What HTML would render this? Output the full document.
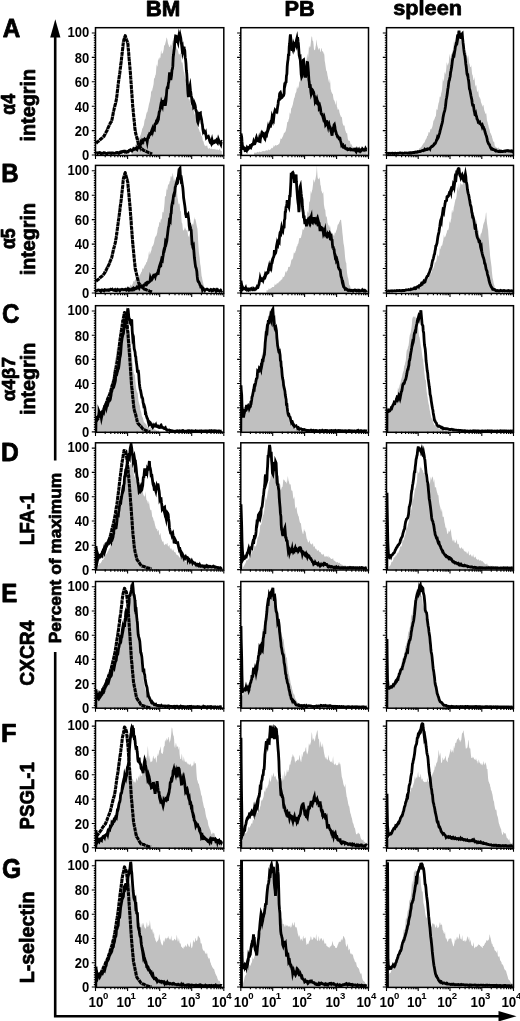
<!DOCTYPE html>
<html><head><meta charset="utf-8"><title>Figure</title>
<style>
html,body{margin:0;padding:0;background:#fff;}
body{width:520px;height:1021px;overflow:hidden;}
svg{display:block;}
svg text{font-family:"Liberation Sans",sans-serif;fill:#000;}
svg text.t{font-weight:bold;}
svg text.h{stroke:#000;stroke-width:0.75px;stroke-linejoin:round;}
</style></head><body>
<svg width="520" height="1021" viewBox="0 0 520 1021">
<rect width="520" height="1021" fill="#fff"/>
<defs>
<filter id="soft" x="0" y="0" width="520" height="1021" filterUnits="userSpaceOnUse"><feGaussianBlur stdDeviation="0.45"/></filter>
<clipPath id="cABM"><rect x="95.5" y="27.7" width="128.3" height="127.7"/></clipPath>
<clipPath id="cAPB"><rect x="240.8" y="27.7" width="127.7" height="127.7"/></clipPath>
<clipPath id="cASP"><rect x="386.5" y="27.7" width="127" height="127.7"/></clipPath>
<clipPath id="cBBM"><rect x="95.5" y="165.4" width="128.3" height="128"/></clipPath>
<clipPath id="cBPB"><rect x="240.8" y="165.4" width="127.7" height="128"/></clipPath>
<clipPath id="cBSP"><rect x="386.5" y="165.4" width="127" height="128"/></clipPath>
<clipPath id="cCBM"><rect x="95.5" y="305.7" width="128.3" height="126.6"/></clipPath>
<clipPath id="cCPB"><rect x="240.8" y="305.7" width="127.7" height="126.6"/></clipPath>
<clipPath id="cCSP"><rect x="386.5" y="305.7" width="127" height="126.6"/></clipPath>
<clipPath id="cDBM"><rect x="95.5" y="442.8" width="128.3" height="127.2"/></clipPath>
<clipPath id="cDPB"><rect x="240.8" y="442.8" width="127.7" height="127.2"/></clipPath>
<clipPath id="cDSP"><rect x="386.5" y="442.8" width="127" height="127.2"/></clipPath>
<clipPath id="cEBM"><rect x="95.5" y="581.5" width="128.3" height="126.7"/></clipPath>
<clipPath id="cEPB"><rect x="240.8" y="581.5" width="127.7" height="126.7"/></clipPath>
<clipPath id="cESP"><rect x="386.5" y="581.5" width="127" height="126.7"/></clipPath>
<clipPath id="cFBM"><rect x="95.5" y="720.8" width="128.3" height="127.4"/></clipPath>
<clipPath id="cFPB"><rect x="240.8" y="720.8" width="127.7" height="127.4"/></clipPath>
<clipPath id="cFSP"><rect x="386.5" y="720.8" width="127" height="127.4"/></clipPath>
<clipPath id="cGBM"><rect x="95.5" y="860.5" width="128.3" height="126.9"/></clipPath>
<clipPath id="cGPB"><rect x="240.8" y="860.5" width="127.7" height="126.9"/></clipPath>
<clipPath id="cGSP"><rect x="386.5" y="860.5" width="127" height="126.9"/></clipPath>
</defs>
<g filter="url(#soft)">
<rect width="520" height="1021" fill="#fff"/>
<g clip-path="url(#cABM)">
<path d="M131.5 152.6 L131.8 151.9 L132.2 151.2 L132.6 150.5 L132.9 149.5 L133.2 148.8 L133.6 148.5 L133.9 147.9 L134.3 147.1 L134.7 146.5 L135 145.6 L135.3 144.8 L135.7 144.6 L136.1 144.1 L136.4 143.9 L136.8 143.2 L137.1 142.4 L137.4 141.3 L137.8 140.7 L138.2 139.2 L138.5 137 L138.8 136.5 L139.2 137.7 L139.6 137.7 L139.9 136.9 L140.2 135.7 L140.6 135 L140.9 134.3 L141.3 132.5 L141.7 131.4 L142 129.8 L142.3 128.5 L142.7 128.1 L143.1 127.2 L143.4 126 L143.8 125.6 L144 124 L144.1 123.7 L144.4 121.2 L144.8 119.5 L145.2 119.1 L145.5 118.3 L145.8 116.7 L146.2 114.5 L146.6 112.9 L146.9 112.2 L147.2 112.2 L147.6 111 L147.9 109.2 L148.3 107.8 L148.7 105.4 L149 104.1 L149.3 103.1 L149.7 101.8 L150.1 99.6 L150.4 97.8 L150.8 95.9 L151.1 91.1 L151.4 90.2 L151.8 91.9 L152.2 90.4 L152.5 88.5 L152.8 87.7 L153.2 86 L153.6 83.9 L153.9 79.9 L154 78.7 L154.2 78.6 L154.6 78.1 L154.9 77.4 L155.3 75.3 L155.7 74.8 L156 72.2 L156.3 68 L156.7 64.3 L157.1 66.2 L157.4 66.6 L157.8 63.4 L158.1 57.8 L158.4 58.9 L158.8 60.7 L159 59.5 L159.2 59.6 L159.5 57.8 L159.8 57.2 L160.2 58.2 L160.6 55.8 L160.9 51.7 L161.2 50 L161.6 52.9 L161.9 54.2 L162.3 53.5 L162.7 52.8 L163 52.7 L163.3 51.1 L163.7 49.5 L164.1 45.7 L164.4 44.7 L164.8 45.8 L165.1 44.3 L165.4 43 L165.8 41.6 L166.2 39.7 L166.5 37.5 L166.8 37.8 L167.2 39.1 L167.6 41.3 L167.9 43 L168.2 44.1 L168.6 45 L168.9 45.8 L169.3 46.9 L169.7 47 L170 46.8 L170.3 45.7 L170.7 44.1 L171.1 45.3 L171.4 46.1 L171.8 44.5 L172.1 41.1 L172.4 40.6 L172.8 43 L173.2 43.3 L173.5 43.2 L173.8 42.2 L174.2 43.9 L174.6 45.1 L174.9 45.1 L175.2 43.1 L175.6 44.3 L175.9 46.1 L176.3 46.9 L176.7 49 L177 49.6 L177.3 48.4 L177.7 50.2 L178.1 51 L178.4 52.7 L178.8 54.3 L179.1 54.5 L179.4 54 L179.8 54.6 L180.2 54.2 L180.5 52 L180.8 53.1 L181.2 58.4 L181.6 63 L181.9 62.1 L182.2 62.3 L182.6 63.1 L182.9 65.6 L183.3 68.7 L183.7 71.1 L184 72.2 L184.3 72.3 L184.7 75.2 L185.1 77.7 L185.4 80.1 L185.8 78.4 L186.1 77.7 L186.4 81.4 L186.8 87.1 L187.2 88.7 L187.5 90 L187.8 92.9 L188.2 96 L188.6 98.2 L188.9 99.4 L189.2 98.9 L189.6 99.4 L189.9 101.3 L190.3 103.6 L190.7 103.7 L191 104.8 L191.3 106.5 L191.7 106.3 L192.1 106.1 L192.4 108.1 L192.8 109.1 L193.1 109.6 L193.4 108.9 L193.8 111.1 L194.2 112.2 L194.5 114.5 L194.8 114.8 L195.2 113.5 L195.6 113.7 L195.9 117.5 L196.2 119.7 L196.6 120.7 L196.9 122.2 L197.3 123.2 L197.6 124.8 L198 126.4 L198.3 127.6 L198.7 128.7 L199.1 129.7 L199.4 130.5 L199.8 131.9 L200.1 131.7 L200.4 131.9 L200.8 133.2 L201.1 135.2 L201.5 135.8 L201.8 136.3 L202.2 136.6 L202.6 139.3 L202.9 141.2 L203.2 141.2 L203.6 141.6 L203.9 143.6 L204.3 144.6 L204.6 145.4 L205 145.5 L205.3 145.8 L205.7 146.2 L206.1 146.1 L206.4 146 L206.8 145.2 L207.1 145.3 L207.4 146.5 L207.8 147.9 L208.1 148.3 L208.5 148.7 L208.8 148.7 L209.2 148.6 L209.6 148 L209.9 148.1 L210.2 148.6 L210.6 149.2 L210.9 149 L211.3 148.8 L211.6 148.5 L212 148.7 L212.3 149 L212.7 149.2 L213.1 149 L213.4 149 L213.8 149.3 L214.1 149.6 L214.4 149.2 L214.8 148.7 L215.1 148.8 L215.5 149.5 L215.8 149.7 L216.2 149.6 L216.6 149.6 L216.9 150 L217.2 149.7 L217.6 149.4 L217.9 149.3 L218.3 150 L218.6 150.3 L219 150.1 L219.3 149.1 L219.7 148.6 L220.1 149.5 L220.4 150.6 L220.8 150.7 L221.1 151 L221.4 151 L221.8 151.2 L221.8 156.4 L131.5 156.4 Z" fill="#c0c0c0"/>
<path d="M96 143.3 L96.6 142.8 L97.1 142.2 L97.7 141.6 L98.3 141.3 L98.9 140.9 L99.4 140.4 L100 139.8 L100.6 139.3 L101.1 138.7 L101.7 138.4 L102.3 137.8 L102.9 137.2 L103.4 136.7 L104 136.2 L104.4 135.4 L104.7 134.8 L105.1 134.2 L105.4 133.4 L105.8 132.7 L106.1 132.1 L106.5 131.4 L106.9 130.8 L107.2 130.1 L107.6 129.3 L107.9 128.2 L108.3 127.4 L108.6 126.6 L109 125.9 L109.4 125 L109.7 124.4 L110.1 123.5 L110.4 122.8 L110.8 122.3 L111.1 122 L111.5 121.5 L111.7 120.8 L111.8 120 L112 119.4 L112.2 118.5 L112.4 117.6 L112.5 116.6 L112.7 115.9 L112.9 114.7 L113.1 114.1 L113.2 113.1 L113.4 111.9 L113.6 111.1 L113.7 110.5 L113.9 109.9 L114.1 109 L114.3 108.3 L114.4 107.6 L114.6 107.2 L114.8 106.3 L114.9 105.8 L115.1 104.9 L115.3 104.3 L115.5 103.7 L115.6 102.6 L115.8 102.1 L116 101.2 L116.2 100.5 L116.3 99.7 L116.5 98.7 L116.6 98.2 L116.7 97.2 L116.8 96.2 L116.9 95.4 L117 94.7 L117.1 93.8 L117.2 92.9 L117.3 92 L117.4 91.2 L117.5 90.3 L117.6 89.6 L117.7 88.4 L117.8 87.9 L117.9 87 L118 85.8 L118.1 85.3 L118.2 84.4 L118.3 83.6 L118.4 82.4 L118.5 81.7 L118.6 81 L118.7 80.6 L118.8 79.8 L118.9 79 L119 78.3 L119.1 77.6 L119.2 76.8 L119.3 76.1 L119.4 75.8 L119.5 74.9 L119.6 74.5 L119.7 73.5 L119.8 72.8 L119.9 72.3 L120 71.5 L120.1 70.8 L120.2 70.3 L120.2 69.5 L120.3 68.7 L120.4 67.9 L120.5 67.2 L120.6 66.5 L120.7 65.5 L120.8 64.8 L120.9 63.7 L121 63.3 L121.1 62.3 L121.2 61.7 L121.3 60.9 L121.4 59.9 L121.5 59 L121.5 58.7 L121.6 57.5 L121.7 56.9 L121.8 56 L121.9 55.1 L122 54.5 L122.1 53.8 L122.2 52.6 L122.3 52 L122.4 51 L122.5 50.3 L122.6 49.4 L122.7 48.5 L122.8 47.6 L122.8 46.8 L122.9 46.4 L123 45.3 L123.1 44.4 L123.2 43.9 L123.3 43.2 L123.4 42.1 L123.5 41.2 L123.7 40.5 L123.9 39.7 L124.2 39.1 L124.4 38.2 L124.6 37.6 L124.8 36.8 L125 36.3 L125.2 35.7 L125.5 36.4 L125.7 37.1 L125.9 37.9 L126.2 38.8 L126.4 39.5 L126.6 40.1 L126.8 40.4 L127.1 41.1 L127.3 42 L127.5 42.1 L127.8 42.8 L127.8 43.6 L127.9 44.4 L128 44.8 L128 45.6 L128.1 46.4 L128.2 47.3 L128.2 48.2 L128.3 49.3 L128.4 50 L128.5 50.9 L128.5 51.3 L128.6 52.1 L128.7 53.3 L128.8 54.2 L128.8 54.8 L128.9 55.7 L129 56.3 L129 57.3 L129.1 58.4 L129.2 59.2 L129.2 60 L129.3 60.9 L129.4 61.4 L129.5 62.1 L129.5 63 L129.6 64 L129.7 64.9 L129.8 65.8 L129.8 66.4 L129.9 67.2 L130 68 L130 68.7 L130.1 69.5 L130.2 70 L130.2 71.2 L130.3 71.7 L130.4 72.8 L130.4 73.5 L130.5 74.1 L130.5 74.8 L130.6 75.7 L130.6 76.7 L130.7 77.5 L130.8 78 L130.8 78.8 L130.9 79.8 L130.9 80.6 L131 81.3 L131 82 L131.1 83 L131.2 83.5 L131.2 84.5 L131.3 85.3 L131.3 86.4 L131.4 87.1 L131.4 88 L131.5 88.6 L131.6 89.3 L131.6 90.2 L131.7 91.3 L131.7 92 L131.8 92.7 L131.8 93.4 L131.9 94.4 L132 95.3 L132 96 L132.1 96.7 L132.1 97.7 L132.2 98.6 L132.2 99.2 L132.3 99.9 L132.4 100.8 L132.4 101.7 L132.5 102.6 L132.5 103.2 L132.6 104.3 L132.6 105.1 L132.7 105.8 L132.8 106.5 L132.8 107.6 L132.9 108.1 L133 109.1 L133.1 109.7 L133.2 110.5 L133.2 111.5 L133.3 112.1 L133.4 113.2 L133.5 113.8 L133.6 114.5 L133.6 115.3 L133.7 116.2 L133.8 117.1 L133.9 117.9 L134 118.5 L134 119.4 L134.1 120.1 L134.2 121.1 L134.3 121.7 L134.4 122.5 L134.4 123.3 L134.5 124.2 L134.6 125.1 L134.7 125.9 L134.8 126.7 L134.8 127.5 L134.9 128.3 L135 129 L135.1 129.7 L135.2 130.7 L135.2 131.5 L135.4 132.1 L135.6 133 L135.8 133.7 L136 134.5 L136.2 135.2 L136.4 136 L136.6 136.7 L136.8 137.5 L137 138.3 L137.2 139.1 L137.4 139.7 L137.6 140.7 L137.8 141.3 L138 142.2 L138.2 143.1 L138.4 143.9 L138.6 144.6 L138.8 145.4 L139 146.3 L139.6 146.8 L140.1 147.3 L140.7 147.7 L141.2 148.2 L141.8 148.8 L142.3 149.2 L142.9 149.7 L143.4 150.2 L144 150.6 L144.8 150.8 L145.6 151.1 L146.4 151.5 L147.1 151.9 L147.9 152.2 L148.7 152.6 L149.5 152.9 L150.3 153.2 L151.2 153.6 L152 154.1" fill="none" stroke="#000" stroke-width="3.0999999999999996" stroke-dasharray="4.2 0.5" stroke-linejoin="round"/>
<path d="M96 153.2 L96.4 152.9 L96.8 152.9 L97.2 152.9 L97.6 153.4 L98 153.1 L98.4 152.8 L98.8 153 L99.2 152.8 L99.6 152.6 L100 152.7 L100.4 152.8 L100.8 153.5 L101.2 153.3 L101.6 153.5 L102 153.6 L102.4 153.3 L102.8 153.4 L103.2 153.4 L103.6 152.9 L104 152.6 L104.4 152.7 L104.8 153 L105.2 153 L105.6 153.2 L106 153.5 L106.4 153.4 L106.8 153.5 L107.2 153.7 L107.6 153.2 L108 152.9 L108.4 153 L108.8 152.9 L109 153 L109.2 153 L109.6 153.2 L110 153.2 L110.4 153.1 L110.8 153.4 L111.2 153.5 L111.6 153 L112 153 L112.4 153 L112.8 153.2 L113.2 153.1 L113.6 153.3 L114 153.4 L114.4 153.4 L114.8 153.2 L115.2 153.1 L115.6 152.9 L116 153.1 L116.4 152.9 L116.8 152.6 L117.2 152.7 L117.6 152.6 L118 152.9 L118.4 152.8 L118.8 152.7 L119 153.1 L119.2 152.8 L119.6 152.6 L120 152.1 L120.4 152 L120.8 151.8 L121.2 152.5 L121.6 152.3 L122 152.2 L122.4 152.1 L122.8 151.4 L123.2 151.2 L123.6 151.4 L124 151.2 L124.4 151.6 L124.8 152 L125.2 151.3 L125.6 151.2 L126 151.6 L126.4 151.8 L126.8 152.3 L127.2 152.1 L127.6 152.1 L128 151.5 L128.4 151.6 L128.8 150.8 L129.2 150.3 L129.6 150.3 L130 150 L130.4 149.7 L130.8 149.9 L131.2 150.3 L131.5 150.2 L131.6 150.5 L132 150.9 L132.4 150.4 L132.8 150.1 L133.2 149.6 L133.6 148.7 L134 149 L134.4 148.9 L134.8 149.3 L135.2 149.1 L135.6 148.7 L136 149 L136.4 149.3 L136.8 148.3 L137.2 149 L137.6 147.9 L138 147.8 L138.4 147.4 L138.8 147.1 L139 146.9 L139.2 145.9 L139.6 145.5 L140 146.6 L140.4 144.2 L140.8 142.5 L141.2 143.2 L141.6 142.4 L142 141.4 L142.4 140.3 L142.8 140.7 L142.8 139.9 L143.2 141.3 L143.6 140.3 L144 139.7 L144.4 139.2 L144.8 139.9 L145.2 139.8 L145.6 139.5 L146 139.3 L146.4 140 L146.8 139.7 L147.2 141.7 L147.6 139 L148 137.4 L148.4 136.3 L148.8 136.6 L149.2 134.7 L149.6 133.6 L150 133.8 L150.4 134.4 L150.8 134 L151.2 132.2 L151.6 131 L152 129.8 L152.4 128.8 L152.8 130.7 L153.2 129.1 L153.6 129.1 L154 129.3 L154.4 129.6 L154.8 124.7 L155.2 123.8 L155.6 123.8 L156 123.7 L156.4 121.3 L156.8 121.4 L157.2 120.1 L157.6 118.9 L158 120.3 L158.4 119.3 L158.8 115.2 L159.2 112.2 L159.6 111.2 L160 109.8 L160.4 107.4 L160.8 105.2 L161.2 105.8 L161.6 102.7 L162 103.9 L162.4 105.2 L162.8 101.3 L163.2 101.2 L163.6 102.8 L164 105.8 L164.4 103.2 L164.8 101.6 L165.2 105.7 L165.6 103.5 L166 100.5 L166.4 95.5 L166.8 89.9 L167.2 87.8 L167.6 87 L168 87.2 L168.4 83 L168.8 82 L169.2 76.6 L169.6 72.3 L170 77.3 L170.4 76.5 L170.8 79.9 L171.2 77.8 L171.6 74.9 L172 70 L172.4 68.9 L172.8 66.4 L173.2 57.2 L173.6 54.3 L174 50.5 L174.4 48.1 L174.8 41.5 L175.2 39.1 L175.6 36 L176 36.1 L176.4 36.4 L176.8 42.8 L177.2 40.3 L177.6 40.8 L178 42.1 L178.4 38.4 L178.8 36.2 L179.2 38.5 L179.6 35.7 L180 39 L180.4 36.4 L180.8 38.2 L181.2 41.8 L181.6 44.9 L182 48.3 L182.4 47.3 L182.8 51.8 L183.2 50.3 L183.6 52.4 L184 46.7 L184.4 49 L184.8 50.7 L185.2 57.4 L185.6 59.5 L186 63.9 L186.4 70.8 L186.8 73.8 L187.2 80.9 L187.6 87 L188 93.5 L188.4 97.1 L188.8 94 L189.2 90.3 L189.6 87.6 L190 86 L190.4 90.2 L190.8 92.5 L191.2 95.7 L191.6 97.4 L192 101.9 L192.4 103.4 L192.8 103.1 L193.2 104.1 L193.6 107.5 L194 107.1 L194.4 103.3 L194.8 104.3 L195.2 105.8 L195.6 108.5 L196 110.7 L196.4 111.2 L196.8 113.8 L197.2 117.8 L197.6 121.6 L198 122.6 L198.4 120.8 L198.8 118.4 L199.2 115 L199.6 115.6 L200 113.2 L200.4 113 L200.8 119.4 L201.2 117.9 L201.6 119.7 L202 123.2 L202.4 124.7 L202.8 128.9 L203.2 131.1 L203.6 130.2 L204 131 L204.4 131.5 L204.8 133.3 L205.2 133.6 L205.6 132.8 L206 135.4 L206.4 137.9 L206.8 137.5 L207.2 136.8 L207.6 137 L208 136.7 L208.4 136.4 L208.8 137.5 L209.2 138.7 L209.6 140.7 L210 141.7 L210.4 141.4 L210.8 142.2 L211.2 143.1 L211.6 141.3 L212 139.8 L212.4 141.6 L212.8 142.9 L213.2 142.4 L213.6 142 L214 142.6 L214.4 142.4 L214.8 141.6 L215.2 140.6 L215.6 140.5 L216 141.1 L216.4 140.4 L216.8 141.3 L217.2 142.4 L217.6 142.9 L218 141.4 L218.4 139.4 L218.8 140.5 L219.2 141.3 L219.6 142.2 L220 142.5 L220.4 143.4 L220.8 144.2 L221.2 141.8 L221.6 141.4 L222 141.6" fill="none" stroke="#000" stroke-width="2.8" stroke-linejoin="miter" stroke-miterlimit="6"/>
</g>
<g clip-path="url(#cAPB)">
<path d="M254 152.8 L254.3 152.5 L254.7 152.8 L255.1 153.1 L255.4 152.8 L255.8 152.5 L256.1 152.5 L256.4 152.8 L256.8 152.5 L257.1 152 L257.5 151.8 L257.9 152.1 L258.2 152.5 L258.6 152.3 L258.9 152 L259.2 152 L259.6 151.6 L259.9 151.5 L260.3 151.9 L260.6 152.1 L261 152.1 L261.4 151.8 L261.7 151.8 L262.1 151.5 L262.4 151.3 L262.8 151 L263.1 150.8 L263.4 151.2 L263.8 151.1 L264.1 151.4 L264.5 151 L264.9 151.2 L265.2 150.9 L265.6 150.6 L265.9 150.4 L266.2 150.1 L266.6 150.6 L266.9 150.5 L267.3 150.4 L267.6 150.6 L268 150.4 L268.4 149.7 L268.7 149.3 L269 149.6 L269.1 149.9 L269.4 150.2 L269.8 149.8 L270.1 149.7 L270.4 149.2 L270.8 149.2 L271.1 148.8 L271.5 147.9 L271.9 147.8 L272.2 148.3 L272.6 148.2 L272.9 147.4 L273.2 147.3 L273.6 146.2 L273.9 144.7 L274.3 146 L274.6 146.8 L275 145.7 L275.4 144.9 L275.7 145.1 L276.1 145.8 L276.4 145.8 L276.8 145.1 L277.1 145.1 L277.4 145 L277.8 145.1 L278.1 144.7 L278.5 144.3 L278.9 144.1 L279 144.1 L279.2 143.8 L279.6 142.9 L279.9 141.9 L280.2 140.5 L280.6 138.6 L280.9 138.5 L281.3 138.9 L281.6 139 L282 138 L282.4 137.3 L282.7 136.7 L283.1 135.8 L283.4 135 L283.8 133.6 L284.1 132.6 L284.4 133 L284.8 132.6 L285.1 132.2 L285.2 132 L285.5 131.4 L285.9 130.3 L286.2 128.7 L286.6 127 L286.9 125.1 L287.2 122.6 L287.6 121.7 L287.9 121.9 L288.3 121.3 L288.6 119.2 L289 118.8 L289.4 115.9 L289.7 112.6 L290.1 112.9 L290.2 113.4 L290.4 114.6 L290.8 112.6 L291.1 109 L291.4 107.9 L291.8 107.8 L292.1 106.7 L292.5 105.6 L292.9 104.2 L293.2 102.2 L293.6 100.8 L293.9 99 L294.2 97.8 L294.6 97.8 L294.9 96.1 L295.2 94.5 L295.3 94 L295.6 93 L296 92.5 L296.4 91.4 L296.7 88.6 L297.1 86.1 L297.4 88.1 L297.8 89 L298.1 87.8 L298.4 87.4 L298.8 86.1 L299.1 83.1 L299.5 81 L299.9 81.7 L300.2 81.9 L300.6 80.1 L300.9 78.9 L301.2 77.9 L301.6 77.7 L301.9 75.2 L302.3 73.1 L302.6 72.5 L303 72.4 L303.4 71.5 L303.7 71.1 L304.1 71.1 L304.4 66.5 L304.8 64.3 L305.1 65.3 L305.4 65.5 L305.8 63.7 L306.1 63.4 L306.5 60.8 L306.9 56.4 L307.2 53.3 L307.6 55.7 L307.9 58.5 L308.2 56.8 L308.6 52.1 L308.9 46.8 L309.3 45.7 L309.6 48.3 L310 47.1 L310.4 46.5 L310.7 43.9 L311.1 40.1 L311.4 37.4 L311.8 36.3 L312.1 36.7 L312.4 40 L312.8 41.1 L313.1 41 L313.5 44 L313.9 48.8 L314.2 50.4 L314.6 49.6 L314.9 50.3 L315.2 49.3 L315.6 46.5 L315.9 45.3 L316.3 41.2 L316.6 39.2 L317 44.4 L317.4 46.1 L317.7 47.2 L318.1 47.9 L318.4 49.3 L318.8 49.8 L319.1 48.9 L319.4 47.8 L319.8 48.4 L320.1 51.8 L320.5 52.1 L320.9 50.2 L321.2 48.6 L321.6 47.9 L321.9 49.8 L322.2 51.7 L322.6 51 L322.9 51.5 L323.3 52.1 L323.6 53.9 L324 53 L324.4 55.4 L324.7 60.8 L325.1 62.8 L325.4 65 L325.8 67.7 L326.1 69.7 L326.4 70.9 L326.8 71.3 L327.1 72.8 L327.5 75.5 L327.9 77 L328.2 79 L328.6 80.6 L328.9 82 L329.2 83.6 L329.6 81 L329.9 78.7 L330.3 83.2 L330.6 88.9 L331 90 L331.4 92 L331.7 92.5 L332.1 92.9 L332.4 94 L332.8 93.9 L333.1 96.3 L333.4 98.2 L333.8 100 L334.1 100.1 L334.5 101.1 L334.9 102 L335.2 104.2 L335.6 104.8 L335.9 102.4 L336.2 99.8 L336.6 103 L336.9 106.8 L337.3 107.6 L337.6 109.2 L338 110.1 L338.4 109.8 L338.7 108.4 L339.1 110 L339.4 112.3 L339.8 113.4 L340.1 114.8 L340.4 115.3 L340.8 116.5 L341.1 117.5 L341.5 116.8 L341.9 116.8 L342.2 119.9 L342.6 122.9 L342.9 124.1 L343.2 124.7 L343.6 126 L343.9 125.3 L344.3 125.5 L344.6 125.9 L345 128.9 L345.4 130.5 L345.7 131.2 L346.1 132.5 L346.4 133.4 L346.8 133.1 L347.1 132.9 L347.4 135.6 L347.8 138.7 L348.1 139.8 L348.5 140.6 L348.9 140.9 L349.2 141 L349.6 140.7 L349.9 140.8 L350.2 143 L350.6 144 L350.9 144.9 L351.3 143.9 L351.6 144.5 L352 145.7 L352.4 146.5 L352.7 146.7 L353.1 147.5 L353.4 147.4 L353.8 147.1 L354.1 148.1 L354.4 149.2 L354.8 149.1 L355.1 149 L355.5 148.7 L355.9 149.2 L356.2 149.7 L356.6 148.9 L356.9 147.9 L357.2 148.7 L357.6 149.7 L357.9 150.1 L358.3 150.1 L358.6 150 L359 150 L359.4 150.2 L359.7 149.9 L360.1 149.3 L360.4 149.4 L360.8 149.8 L361.1 149.9 L361.4 150.4 L361.8 150 L362.1 149.4 L362.5 149.3 L362.9 150.4 L363.2 150.7 L363.6 151 L363.9 151.1 L364.2 151 L364.6 150.8 L364.9 150.5 L365.3 150.1 L365.6 150.9 L366 151.4 L366.4 151.3 L366.7 151.5 L366.7 156.4 L254 156.4 Z" fill="#c0c0c0"/>
<path d="M240.8 155.4 L241 133.6 L241.2 134.5 L241.7 137.2 L242 141.4 L242.4 145.6 L242.8 148.4 L242.8 148.1 L243.2 148.5 L243.7 148.5 L244 147.9 L244.4 148.4 L244.8 149.8 L245.2 149.4 L245.7 148.8 L246 149.5 L246.4 150.1 L246.5 149.5 L246.8 149.2 L247.2 147.6 L247.7 148.2 L248 149.1 L248.4 148.6 L248.8 148.4 L249.2 147.5 L249.7 147.6 L250 146.5 L250.2 145.6 L250.4 145.6 L250.8 145.7 L251.2 146.6 L251.7 145.3 L252 144.3 L252.4 144.2 L252.8 144.5 L253.2 144.1 L253.7 141.8 L254 142.6 L254 142.8 L254.4 143.8 L254.8 143.7 L255.2 142.7 L255.7 141.5 L256.1 138.6 L256.4 137.7 L256.9 139.6 L257.2 139.4 L257.6 140.7 L258.1 140.7 L258.4 141 L258.9 140.9 L259.2 139.4 L259.6 141.4 L260.1 141.6 L260.4 138.9 L260.9 136.8 L261.2 135.6 L261.6 133.9 L262.1 134.5 L262.4 132.7 L262.9 133.3 L263.2 133.3 L263.6 135.7 L264.1 136.9 L264.4 135.7 L264.9 136.7 L265.2 137.5 L265.6 135.4 L266.1 136.5 L266.4 136.4 L266.9 133.1 L267.2 131.4 L267.6 130.6 L268.1 128 L268.4 129.3 L268.9 127.9 L269.2 127.2 L269.6 126.8 L270.1 124.4 L270.4 123.4 L270.9 124.3 L271.2 122.7 L271.6 121 L272.1 117.1 L272.4 118.1 L272.9 119.9 L273.2 118.3 L273.6 119.2 L274.1 114.6 L274.4 112.7 L274.9 110.8 L275.2 111.4 L275.6 111.2 L276.1 111.6 L276.4 109.8 L276.9 109.2 L277.2 109.8 L277.6 106.9 L278.1 104 L278.4 100.9 L278.9 99.6 L279.2 98 L279.6 93.9 L280.1 92.7 L280.4 92.4 L280.9 94.1 L281.2 97.8 L281.6 97.4 L282.1 96.3 L282.4 96.6 L282.9 95.7 L283.2 95.8 L283.6 95.4 L284.1 93.6 L284.4 86.7 L284.9 82.8 L285.2 84.3 L285.6 82.4 L286.1 82 L286.4 76.3 L286.9 73.9 L287.2 66.6 L287.6 62.3 L288.1 59.1 L288.4 55 L288.9 54.9 L289.2 46.8 L289.6 43.8 L290.1 37.1 L290.4 34.4 L290.9 39.1 L291.2 46 L291.6 45.9 L292.1 50.8 L292.4 47.8 L292.9 49.3 L293.2 47.7 L293.6 44.8 L294.1 46.4 L294.4 43.8 L294.9 44.4 L295.2 43.2 L295.6 43 L296.1 44.4 L296.4 40.5 L296.9 38.5 L297.2 40.8 L297.6 37.1 L298.1 41.7 L298.4 43.6 L298.9 51 L299.2 55.3 L299.6 57.1 L300.1 56.7 L300.4 61.8 L300.9 68.9 L301.2 74.3 L301.6 76.9 L302.1 75.8 L302.4 70.4 L302.9 64.6 L303.2 60.3 L303.6 60 L304.1 65.8 L304.4 71.1 L304.9 73.5 L305.2 77.6 L305.6 73.1 L306.1 74 L306.4 72.2 L306.9 66.6 L307.2 62.5 L307.6 62.6 L308.1 67.9 L308.4 71.8 L308.9 80 L309.2 81.8 L309.6 86.6 L310.1 86.6 L310.4 86.4 L310.9 92 L311.2 94 L311.6 92.9 L312.1 89.4 L312.4 89.7 L312.9 90.9 L313.2 91.5 L313.6 92.3 L314.1 94.8 L314.4 95.9 L314.9 98.6 L315.2 101.6 L315.6 100.8 L316.1 103.8 L316.4 100.9 L316.9 99.3 L317.2 100.6 L317.6 104 L318.1 104.4 L318.4 102.9 L318.9 103.9 L319.2 108.8 L319.6 108.4 L320.1 106.8 L320.4 107.9 L320.9 112.2 L321.2 113.7 L321.6 114.2 L322.1 115 L322.4 114.8 L322.9 116.7 L323.2 114.8 L323.6 118.3 L324.1 119.4 L324.4 118.2 L324.9 120.4 L325.2 121.7 L325.6 124.8 L326.1 124.1 L326.4 121.8 L326.9 121.7 L327.2 124.1 L327.6 124 L328.1 126.3 L328.4 124.7 L328.9 123.8 L329.2 125.4 L329.6 126.4 L330.1 127.1 L330.4 128.3 L330.9 131 L331.2 131.6 L331.6 133.6 L332.1 135.6 L332.4 132.1 L332.9 131.6 L333.2 127.9 L333.6 127.4 L334.1 124.9 L334.4 124.5 L334.9 127 L335.2 129.7 L335.6 130.9 L336.1 132.5 L336.4 134.1 L336.9 134.8 L337.2 136.1 L337.6 137 L338.1 136.9 L338.4 137.5 L338.9 137.6 L339.2 139.1 L339.6 139.3 L340.1 138.9 L340.4 140.3 L340.9 142.2 L341.2 143.2 L341.6 145.1 L342.1 144.5 L342.4 144.7 L342.9 146.1 L343.2 145.7 L343.6 147 L344.1 147.4 L344.4 147.7 L344.9 147 L345.2 148.1 L345.6 148.2 L346.1 148.7 L346.4 148.5 L346.9 148.6 L347.2 149.3 L347.6 149.6 L348.1 149.1 L348.4 149.3 L348.9 149.5 L349.2 149.2 L349.6 148.9 L350.1 149.1 L350.4 149 L350.9 149.6 L351.2 149.3 L351.6 149.3 L352.1 149.9 L352.4 150 L352.9 149.8 L353.2 149.8 L353.6 150 L354.1 149.4 L354.4 149.8 L354.9 150 L355.2 149.7 L355.6 150.8 L356.1 151.6 L356.4 150.7 L356.9 149.6 L357.2 150.2 L357.6 150.5 L358.1 150.1 L358.4 150.4 L358.9 149.6 L359.2 150.3 L359.6 150.7 L360.1 151.4 L360.4 151 L360.9 149.9 L361.2 150 L361.6 150.4 L362.1 149.7 L362.4 148.9 L362.9 149.5 L363.2 149.5 L363.6 149.7 L364.1 150.4 L364.4 150.4 L364.9 150.1 L365.2 149.8 L365.6 148.6 L366.1 149.5 L366.4 149.9 L366.9 149.8" fill="none" stroke="#000" stroke-width="2.8" stroke-linejoin="miter" stroke-miterlimit="6"/>
</g>
<g clip-path="url(#cASP)">
<path d="M407.5 153.8 L407.9 153.6 L408.2 153.4 L408.6 153.3 L408.9 153.2 L409.2 153.2 L409.6 153.3 L409.9 153.2 L410.3 153 L410.6 152.9 L411 152.9 L411.4 152.8 L411.7 152.6 L412.1 152.1 L412.4 151.6 L412.8 151.9 L413.1 152.3 L413.4 152 L413.8 151.2 L414.1 151.1 L414.5 151.9 L414.9 152 L415.2 151.9 L415.6 151.7 L415.9 151.4 L416.2 151.2 L416.6 151.1 L416.9 151.4 L417.3 151.5 L417.5 151.5 L417.6 151.3 L418 150.9 L418.4 150.4 L418.7 149.9 L419.1 149 L419.4 148.2 L419.8 148 L420.1 148.3 L420.4 147.9 L420.8 147.3 L421.1 147.1 L421.5 146.8 L421.9 146.1 L422.2 145.5 L422.6 144.7 L422.9 144.5 L423.2 144 L423.6 143.2 L423.9 143 L424.3 142.5 L424.6 142.4 L425 141.2 L425.4 140 L425.7 139.4 L426.1 139.1 L426.4 138.6 L426.8 137.5 L427.1 136.1 L427.4 136.1 L427.8 135.7 L428.1 134.6 L428.5 132.6 L428.9 131.7 L429.2 132.5 L429.6 132.7 L429.9 131.8 L430.2 130 L430.6 129 L430.9 129.1 L431.2 129.6 L431.3 129 L431.6 128.6 L432 127.7 L432.4 126.5 L432.7 125.2 L433.1 122.9 L433.4 120.9 L433.8 120.2 L434.1 120.4 L434.4 119 L434.8 118.6 L435.1 117.1 L435.5 116.7 L435.9 115.8 L436.2 112.2 L436.2 111.8 L436.6 108.8 L436.9 109.5 L437.2 110.2 L437.6 109.2 L437.9 106.6 L438.3 104.6 L438.6 102.8 L439 102.2 L439.4 99.8 L439.7 96.7 L440.1 96.5 L440.4 97.4 L440.8 96.1 L441.1 94 L441.2 92.7 L441.4 92.7 L441.8 91 L442.1 88.4 L442.5 83.5 L442.9 78.6 L443.2 79.5 L443.6 81.6 L443.9 80.7 L444.2 77.3 L444.6 72.1 L444.9 72.7 L445.3 74.5 L445.6 73.1 L446 71.1 L446.4 67.1 L446.7 62.2 L447.1 63.3 L447.4 65.9 L447.8 64.6 L448.1 64.6 L448.4 63.2 L448.8 62.5 L449.1 58.3 L449.5 53.6 L449.9 56.7 L450.2 58.5 L450.6 58.6 L450.9 55.3 L451.2 54.4 L451.6 53.6 L451.9 54 L452.3 52.5 L452.6 50.5 L453 49.4 L453.4 48.3 L453.7 43.1 L454.1 40.1 L454.4 42.7 L454.8 47.1 L455.1 45.7 L455.4 45.2 L455.8 44.2 L456.1 43 L456.5 41.2 L456.9 39.2 L457.2 38.2 L457.6 38.4 L457.9 36.4 L458.2 36 L458.6 35 L458.9 34.9 L459.3 34.3 L459.6 36.3 L460 38.6 L460.4 39.2 L460.7 40.2 L461.1 42.1 L461.4 42.7 L461.8 38.4 L462.1 38.3 L462.4 43.6 L462.8 46.9 L463.1 44.5 L463.5 40.2 L463.9 44.5 L464.2 48.5 L464.6 51.3 L464.9 51 L465.2 51.9 L465.6 52.9 L465.9 52.3 L466.3 52.3 L466.6 54.4 L467 56.4 L467.4 59 L467.7 57.1 L468.1 55 L468.4 56.4 L468.8 60.6 L469.1 63 L469.4 63.5 L469.8 64.4 L470.1 66.7 L470.5 67.1 L470.9 66.9 L471.2 64.9 L471.6 68.7 L471.9 72.2 L472.2 74.4 L472.6 75 L472.9 76.5 L473.3 79.6 L473.6 80.2 L474 79.7 L474.4 76.7 L474.7 80.3 L475.1 84.4 L475.4 87.1 L475.8 85.4 L476.1 84.8 L476.4 86.1 L476.8 89.8 L477.1 91.5 L477.5 92.2 L477.9 90.8 L478.2 90.1 L478.6 93.8 L478.9 96.6 L479.2 96.7 L479.6 97.2 L479.9 98.4 L480.3 98.6 L480.6 99.8 L481 102.6 L481.4 103.1 L481.7 104.4 L482.1 104.6 L482.4 106.1 L482.8 106.7 L483.1 105.2 L483.4 104.7 L483.8 107.2 L484.1 109.5 L484.5 111.1 L484.9 111.9 L485.2 113.3 L485.6 113.8 L485.9 113.8 L486.2 113 L486.6 116.2 L486.9 119.8 L487.3 121.5 L487.6 122.3 L488 124.3 L488.4 125.3 L488.7 127.1 L489.1 128.4 L489.4 128.9 L489.8 130.8 L490.1 132.4 L490.4 132.9 L490.8 133.6 L491.1 134.3 L491.5 135.4 L491.9 135.9 L492.2 138 L492.6 138.8 L492.9 140.5 L493.2 141.5 L493.6 141.8 L493.9 141.6 L494.3 142.6 L494.6 145 L495 146.6 L495.4 146.6 L495.7 147 L496.1 147.6 L496.4 147.6 L496.8 147.7 L497.1 147.9 L497.4 148.1 L497.8 148.1 L498.1 148.5 L498.5 147.7 L498.9 147.3 L499.2 148.5 L499.6 149.7 L499.9 150.2 L500.2 150 L500.6 150.2 L500.9 149.9 L501.3 149.8 L501.6 149.4 L502 150 L502.4 150.3 L502.7 150.5 L503.1 150.2 L503.4 150.3 L503.8 150.1 L504.1 150 L504.4 150.4 L504.8 150.6 L505.1 150.6 L505.5 150.4 L505.9 150.4 L506.2 150.8 L506.6 150.7 L506.9 150.3 L507.2 150.3 L507.6 150.6 L507.9 150.7 L508.3 150.6 L508.6 150.6 L509 150.8 L509.4 150.9 L509.7 150.6 L510.1 149.9 L510.4 149.9 L510.8 150.8 L511.1 151.1 L511.4 150.8 L511.8 150.7 L512.1 151.2 L512.5 151.7 L512.9 151.6 L512.9 156.4 L407.5 156.4 Z" fill="#c0c0c0"/>
<path d="M387 153.6 L387.4 153.4 L387.8 153.5 L388.2 153.5 L388.6 153.4 L389 153.3 L389.4 153.4 L389.8 153.5 L390.2 153.6 L390.6 153.5 L391 153.3 L391.4 153.4 L391.8 153.4 L392.2 153.3 L392.6 153.4 L393 153.2 L393.4 153.3 L393.8 153.3 L394.2 153.6 L394.6 153.4 L395 153.2 L395.4 153.2 L395.8 153.3 L396.2 153.4 L396.6 153.5 L397 153.3 L397.4 153.3 L397.8 153.2 L398.2 153.3 L398.6 153.3 L399 153.2 L399.4 153.2 L399.8 153 L400.2 153 L400.6 153 L401 153.1 L401.4 153.1 L401.8 153.1 L402.2 153.4 L402.6 153.2 L403 153.3 L403.4 153.4 L403.8 153.3 L404.2 153.2 L404.6 153 L405 153 L405.4 153.1 L405.8 153.1 L406.2 153 L406.6 153.1 L407 153.1 L407.4 153.2 L407.8 153 L408.2 152.9 L408.6 153 L409 153 L409.4 153.2 L409.8 153.1 L410 152.9 L410.2 152.7 L410.6 152.7 L411 153 L411.4 152.8 L411.8 152.9 L412.2 152.7 L412.6 152.6 L413 152.5 L413.4 152.5 L413.8 152.6 L414.2 152.6 L414.6 152.3 L415 152.2 L415.4 152.1 L415.8 152.3 L416.2 152.3 L416.6 152.2 L417 151.9 L417.4 151.7 L417.8 152 L418.2 151.8 L418.6 151.7 L419 151.6 L419.4 151.4 L419.8 151.5 L420 151.4 L420.2 151.5 L420.6 151.4 L421 151.3 L421.4 151.1 L421.8 150.9 L422.2 150.6 L422.6 150.5 L423 150.6 L423.4 150.7 L423.8 150.4 L424.2 150.3 L424.6 149.6 L425 150.1 L425.4 150 L425.8 149.8 L426.2 149.4 L426.6 149.7 L427 149.7 L427.4 149.6 L427.8 148.9 L428.2 149 L428.6 148.9 L429 148.9 L429.4 148.7 L429.8 148.4 L430 148.7 L430.2 148 L430.6 147.8 L431 147 L431.4 146.8 L431.8 146.4 L432.2 146.5 L432.6 146.2 L433 145.6 L433.4 145.2 L433.8 145.1 L434.2 144 L434.6 144 L435 143.7 L435.4 143.2 L435.8 142.3 L436.2 141.4 L436.6 139.8 L437 139.4 L437.4 137.7 L437.8 138.3 L438.2 137.6 L438.6 136.5 L438.8 135.7 L439 134.7 L439.4 133.7 L439.8 132.3 L440.2 130.3 L440.6 129.2 L441 127.4 L441.4 126 L441.8 124.4 L442.2 122.9 L442.6 121 L443 117.8 L443.4 115.8 L443.8 113.7 L444.2 112.2 L444.6 111.2 L445 109.3 L445.4 106.9 L445.8 103.5 L446.2 99.6 L446.6 97.7 L447 95.4 L447.4 92.8 L447.8 89.1 L448.2 87.2 L448.6 83.6 L449 81 L449.4 80.3 L449.8 78 L450.2 76.5 L450.6 72.3 L451 70.8 L451.4 68.4 L451.8 65.8 L452.2 62.3 L452.6 59.3 L453 57.5 L453.4 55.3 L453.8 54 L454.2 54.6 L454.6 52.1 L455 49.9 L455.4 46.4 L455.8 45.7 L456.2 43 L456.6 42.4 L457 39.5 L457.4 40.6 L457.8 38.3 L458.2 35.3 L458.6 33.5 L459 30.8 L459.4 33.4 L459.8 36.8 L460.2 36.9 L460.6 37.5 L461 37.5 L461.4 36 L461.8 34.1 L462.2 33.7 L462.6 38.4 L463 42.2 L463.4 45.3 L463.8 49.2 L464.2 52.2 L464.6 54.6 L465 56.3 L465.4 60 L465.8 64 L466.2 66.5 L466.6 70.3 L467 74 L467.4 75.2 L467.8 75.1 L468.2 78.7 L468.6 80.5 L469 84.1 L469.4 88.8 L469.8 89.6 L470.2 91.6 L470.6 93.8 L471 96.1 L471.4 97.9 L471.8 99.6 L472.2 103 L472.6 105.1 L473 105.1 L473.4 105.2 L473.8 107.9 L474.2 111 L474.6 112.5 L475 114.8 L475.4 115 L475.8 114 L476.2 116 L476.6 116.4 L477 118.9 L477.4 119.5 L477.8 120.3 L478.2 121.9 L478.6 121.7 L479 121.8 L479.4 122.7 L479.8 122.3 L480.2 123.6 L480.6 123.8 L481 124.3 L481.4 125.1 L481.8 125.4 L482.2 126.8 L482.6 125.8 L483 126.9 L483.4 127.1 L483.8 128.4 L484.2 128.9 L484.6 130.2 L485 132 L485.4 133.2 L485.8 134.7 L486.2 135.3 L486.6 137 L487 138.4 L487.4 140.6 L487.8 142 L488.2 142.8 L488.6 143.8 L489 144.4 L489.4 144.6 L489.8 145.8 L490.2 146.7 L490.6 147.7 L491 148.2 L491.4 148.9 L491.8 148.6 L492.2 149.1 L492.6 149.4 L493 149.3 L493.4 149.4 L493.8 149.6 L494.2 149.7 L494.6 150.1 L495 150.6 L495.4 150.9 L495.8 150.5 L496.2 151.1 L496.6 151.1 L497 151.1 L497.4 151.1 L497.8 151.4 L498.2 151.6 L498.6 151.5 L499 151.5 L499.4 151 L499.8 150.9 L500.2 151 L500.6 151.6 L501 151.5 L501.4 151.3 L501.8 151.4 L502.2 151.5 L502.6 151.4 L503 151.6 L503.4 151.5 L503.8 151.2 L504.2 151 L504.6 151.2 L505 151.1 L505.4 151.3 L505.8 150.9 L506.2 150.9 L506.6 150.7 L507 150.7 L507.4 150.6 L507.8 150.5 L508.2 151 L508.6 151.1 L509 151.1 L509.4 150.9 L509.8 150.9 L510.2 151.2 L510.6 151.3 L511 151.2 L511.4 150.9 L511.8 150.8 L512.2 151.3 L512.6 151.7 L513 151.5" fill="none" stroke="#000" stroke-width="2.8" stroke-linejoin="miter" stroke-miterlimit="6"/>
</g>
<g clip-path="url(#cBBM)">
<path d="M121.5 290.8 L121.8 290.2 L122.2 290.4 L122.5 290.6 L122.9 290.4 L123.2 290.2 L123.6 290 L124 289.8 L124.3 289.1 L124.7 288.4 L125 288.7 L125.3 288.9 L125.7 288.8 L126 288.6 L126.4 288.6 L126.8 288.3 L127.1 288.3 L127.5 287.7 L127.8 286.6 L128.2 286.9 L128.5 287.6 L128.8 287.6 L129.2 287.2 L129.6 286.7 L129.9 286.5 L130.2 285.6 L130.6 284.6 L130.9 284.4 L131.3 285.8 L131.5 286.3 L131.7 285.9 L132 285.1 L132.3 284.4 L132.7 283.8 L133.1 282.7 L133.4 281.2 L133.8 281.1 L134.1 281.8 L134.4 281.8 L134.8 280.3 L135.2 278.9 L135.5 279.3 L135.8 279.9 L136.2 279.3 L136.6 278.9 L136.9 278.6 L137.2 278.6 L137.6 276.9 L137.9 275.7 L138.3 276.2 L138.7 276.9 L139 276.6 L139.3 276.5 L139.7 275.2 L140.1 274.4 L140.2 274.4 L140.4 274.1 L140.8 273.2 L141.1 272.5 L141.4 271.6 L141.8 271.9 L142.2 269.8 L142.5 267.9 L142.8 268.6 L143.2 269 L143.6 268.5 L143.9 267.5 L144.2 266.7 L144.6 266.1 L144.9 265.3 L145.3 264.8 L145.7 264.2 L146 263.4 L146.3 262.3 L146.5 261.9 L146.7 262.3 L147.1 261.5 L147.4 260 L147.8 258.6 L148.1 258.4 L148.4 256.4 L148.8 252.8 L149.2 251.1 L149.5 253.7 L149.8 255 L150.2 253.5 L150.6 252.6 L150.9 251.4 L151.2 250.6 L151.5 250.3 L151.6 249.2 L151.9 246.7 L152.3 246.6 L152.7 246.2 L153 245.6 L153.3 244.9 L153.7 243.7 L154.1 242.3 L154.4 240.5 L154.8 238.4 L155.1 237.1 L155.4 237.5 L155.8 236.1 L156.2 236 L156.5 235.3 L156.8 234.2 L157.2 232.8 L157.6 229.7 L157.8 228.7 L157.9 227.7 L158.2 227.1 L158.6 226.8 L158.9 225.3 L159.3 221.9 L159.7 221.8 L160 222.9 L160.3 222.8 L160.7 219.7 L161.1 218.3 L161.4 219.5 L161.8 219.3 L162.1 216 L162.4 212.6 L162.8 211.7 L163.2 212.3 L163.5 212.8 L163.8 210.2 L164.2 206.7 L164.6 202.5 L164.9 197.1 L165.2 196.1 L165.6 196.4 L165.9 196 L166.3 191.4 L166.7 188 L167 190.2 L167.3 189.7 L167.7 187.1 L168.1 184.4 L168.4 185 L168.8 183.8 L169.1 184.3 L169.4 182.5 L169.8 180.9 L170.2 181.2 L170.5 177.7 L170.8 175.9 L171.2 176 L171.6 177.7 L171.9 176.5 L172.2 176.4 L172.6 173 L172.9 173.6 L173.3 176.6 L173.7 180.3 L174 181.3 L174.3 180 L174.7 177.7 L175.1 182.2 L175.4 185.5 L175.8 187.2 L176.1 186.9 L176.4 184.6 L176.8 188.8 L177.2 193.9 L177.5 198 L177.8 198.8 L178.2 202.2 L178.6 204.1 L178.9 204.6 L179.2 203.2 L179.6 204 L179.9 207.3 L180.3 211.5 L180.7 210.8 L181 211.9 L181.3 217.1 L181.7 222.4 L182.1 223 L182.4 224.5 L182.8 228.8 L183.1 230.8 L183.4 230.3 L183.8 230.2 L184.2 229.4 L184.5 228.9 L184.8 227.2 L185.2 227.7 L185.6 229 L185.9 229.7 L186.2 229.7 L186.6 230.8 L186.9 230.2 L187.3 229.7 L187.6 232 L188 234.9 L188.3 235.9 L188.7 236.5 L189.1 237.2 L189.4 235.4 L189.8 233.5 L190.1 232.5 L190.4 233.5 L190.8 233.1 L191.1 231.6 L191.5 230 L191.8 226.8 L192.2 224.4 L192.6 223.5 L192.9 224.2 L193.2 225.1 L193.6 222.8 L193.9 219.9 L194.3 216.7 L194.6 219.3 L195 219.6 L195.3 218.8 L195.7 220.4 L196.1 222.3 L196.4 224 L196.8 226.1 L197.1 227.4 L197.4 228.4 L197.8 233.7 L198.1 240.8 L198.5 246.7 L198.8 251.2 L199.2 254.6 L199.6 257.4 L199.9 260.7 L200.2 264.1 L200.6 266.1 L200.9 268.6 L201.3 272.9 L201.6 276 L202 277.3 L202.3 279.2 L202.7 280.9 L203.1 282.6 L203.4 284.1 L203.8 285.6 L204.1 286.7 L204.4 287.6 L204.8 288.2 L205.1 288.9 L205.5 289.4 L205.8 290.2 L206.2 290.9 L206.2 294.4 L121.5 294.4 Z" fill="#c0c0c0"/>
<path d="M96 281.1 L96.6 280.7 L97.1 280.3 L97.7 279.9 L98.3 279.4 L98.9 279 L99.4 278.5 L100 277.8 L100.6 277.3 L101.1 276.7 L101.7 276.3 L102.3 276 L102.9 275.4 L103.4 274.7 L104 273.9 L104.4 273.4 L104.7 272.6 L105.1 272.3 L105.4 271.5 L105.8 271 L106.1 270 L106.5 269.5 L106.9 268.5 L107.2 267.9 L107.6 267.3 L107.9 266.6 L108.3 265.9 L108.6 265.2 L109 264.4 L109.4 263.6 L109.7 262.4 L110.1 261.6 L110.4 260.6 L110.8 259.9 L111.1 259.1 L111.5 258.4 L111.7 257.6 L111.8 257.1 L112 256.2 L112.2 255.5 L112.4 254.7 L112.5 253.8 L112.7 253 L112.9 252.2 L113.1 251.7 L113.2 250.7 L113.4 250.2 L113.6 249.3 L113.7 248.7 L113.9 247.9 L114.1 247.4 L114.3 246.6 L114.4 246 L114.6 245.4 L114.8 244.6 L114.9 244 L115.1 243.5 L115.3 242.5 L115.5 241.6 L115.6 240.8 L115.8 239.6 L116 238.7 L116.2 237.7 L116.3 236.8 L116.5 235.8 L116.6 235 L116.7 234.1 L116.8 233.3 L116.9 232.2 L117 231.7 L117.1 231 L117.2 230 L117.3 229.1 L117.4 228.5 L117.5 227.6 L117.6 227 L117.7 226.4 L117.8 225.4 L117.9 224.6 L118 224 L118.1 223.1 L118.2 222.4 L118.3 221.7 L118.4 220.8 L118.5 220 L118.6 219.4 L118.7 218.8 L118.8 218.2 L118.9 217.3 L119 216.4 L119.1 215.7 L119.2 215.2 L119.3 214.4 L119.4 213.9 L119.5 213.2 L119.6 212.4 L119.7 211.3 L119.8 211 L119.9 210.1 L120 209.2 L120.1 208.5 L120.2 208 L120.2 207 L120.3 206.2 L120.4 205.5 L120.5 205.1 L120.6 204.1 L120.7 203.5 L120.8 202.5 L120.9 201.9 L121 201.1 L121.1 200.3 L121.2 199.8 L121.3 198.9 L121.4 198 L121.5 197.7 L121.5 196.7 L121.6 195.8 L121.7 194.8 L121.8 194.2 L121.9 193.2 L122 192.1 L122.1 191.4 L122.2 190.6 L122.3 189.6 L122.4 188.5 L122.5 187.8 L122.6 186.9 L122.7 186 L122.8 184.8 L122.8 184.3 L122.9 183.4 L123 182.4 L123.1 181.6 L123.2 180.4 L123.3 180 L123.4 178.8 L123.5 178.1 L123.7 177.6 L123.9 177.1 L124.2 176 L124.4 175.3 L124.6 174.6 L124.8 174.1 L125 173.3 L125.2 172.6 L125.5 173.8 L125.7 174.6 L125.9 175.7 L126.2 176.3 L126.4 177.3 L126.6 177.8 L126.8 179.1 L127.1 179.5 L127.3 180.4 L127.5 181.2 L127.8 182.3 L127.8 182.8 L127.9 183.9 L128 184.4 L128 185 L128.1 186.1 L128.2 186.6 L128.2 187.8 L128.3 188.3 L128.4 189 L128.5 190.1 L128.5 190.6 L128.6 191.4 L128.7 192.2 L128.8 193.2 L128.8 193.6 L128.9 194.6 L129 195.3 L129 196.4 L129.1 196.8 L129.2 197.9 L129.2 198.5 L129.3 199.4 L129.4 200.2 L129.5 201.1 L129.5 201.6 L129.6 202.4 L129.7 203.1 L129.8 204.3 L129.8 204.7 L129.9 205.5 L130 206.5 L130 207.3 L130.1 208.2 L130.2 208.6 L130.2 209.5 L130.3 210.2 L130.4 211.2 L130.4 212 L130.5 212.7 L130.5 213.7 L130.6 214.4 L130.6 215.3 L130.7 216.1 L130.8 216.6 L130.8 217.7 L130.9 218.3 L130.9 218.9 L131 220.1 L131 220.5 L131.1 221.3 L131.2 222.2 L131.2 223 L131.3 224 L131.3 224.7 L131.4 225.3 L131.4 226.1 L131.5 227 L131.6 227.7 L131.6 228.4 L131.7 229.1 L131.7 229.7 L131.8 230.5 L131.8 231.4 L131.9 232.2 L132 233 L132 233.8 L132.1 234.6 L132.1 235.1 L132.2 235.8 L132.2 236.9 L132.3 237.5 L132.4 238.1 L132.4 239.1 L132.5 239.7 L132.5 240.4 L132.6 241.2 L132.6 242 L132.7 242.9 L132.8 243.4 L132.8 244.4 L132.9 245.2 L133 246 L133.1 246.8 L133.2 247.7 L133.2 248.2 L133.3 249.2 L133.4 250.1 L133.5 250.9 L133.6 251.7 L133.6 252.4 L133.7 253.4 L133.8 254.2 L133.9 254.8 L134 255.7 L134 256.7 L134.1 257.2 L134.2 258.1 L134.3 259.1 L134.4 259.9 L134.4 260.5 L134.5 261.4 L134.6 262.1 L134.7 263 L134.8 263.8 L134.8 264.4 L134.9 265.3 L135 266.1 L135.1 266.9 L135.2 267.6 L135.2 268.4 L135.4 269.3 L135.6 270 L135.8 270.7 L136 271.6 L136.2 272.6 L136.4 273.4 L136.6 274.3 L136.8 275.2 L137 276 L137.2 276.9 L137.4 277.8 L137.6 278.6 L137.8 279.4 L138 280.1 L138.2 280.8 L138.4 281.7 L138.6 282.4 L138.8 283.1 L139 283.8 L139.6 284.3 L140.1 284.9 L140.7 285.5 L141.2 286 L141.8 286.8 L142.3 287.4 L142.9 287.9 L143.4 288.4 L144 288.8 L144.8 289.2 L145.6 289.5 L146.4 289.8 L147.1 290.1 L147.9 290.4 L148.7 290.7 L149.5 291.1 L150.3 291.4 L151.2 291.6 L152 291.9" fill="none" stroke="#000" stroke-width="3.0999999999999996" stroke-dasharray="4.2 0.5" stroke-linejoin="round"/>
<path d="M96 290.3 L96.4 290.4 L96.8 290.7 L97.2 290.3 L97.6 290.1 L98 290.1 L98.4 290 L98.8 290.1 L99.2 290.1 L99.6 290.6 L100 290.7 L100.4 290.6 L100.8 291.2 L101.2 290.1 L101.6 289.8 L102 289.8 L102.4 290 L102.8 290.3 L103.2 290.6 L103.6 290.8 L104 291 L104.4 290.5 L104.8 289.7 L105.2 289.8 L105.6 290.2 L106 290.3 L106.4 290.1 L106.8 290.3 L107.2 290.3 L107.6 290 L108 290 L108.4 290.2 L108.8 290.4 L109.2 289.8 L109.6 289.7 L110 289.6 L110.4 289.7 L110.8 289.3 L111.2 289.6 L111.6 289.6 L112 289.7 L112.4 289.3 L112.8 289.8 L113.2 290.2 L113.6 290.2 L114 290.4 L114.4 290 L114.8 290.2 L115.2 289.7 L115.6 290.2 L116 290.6 L116.4 290.2 L116.8 290.5 L117.2 289.8 L117.6 289.4 L118 289.8 L118.4 290.1 L118.8 289.9 L119.2 289.7 L119.6 289.9 L120 290.7 L120.4 290.2 L120.8 289.6 L121.2 289.6 L121.6 289.4 L122 289.2 L122.4 289.3 L122.8 289.5 L123.2 289.8 L123.6 289.7 L124 289.6 L124.4 289.7 L124.8 289.7 L125.2 289.3 L125.6 289.2 L126 289.8 L126.4 290.2 L126.8 289.9 L127.2 289.9 L127.6 289.5 L128 288.8 L128.4 289.4 L128.8 290 L129.2 289.2 L129.6 289.2 L130 289.6 L130.4 290 L130.8 290.1 L131.2 290.1 L131.5 289.8 L131.6 290.2 L132 290.2 L132.4 289 L132.8 289.1 L133.2 288.5 L133.6 288 L134 288.3 L134.4 289.4 L134.8 289.1 L135.2 288.4 L135.6 288.2 L136 287.9 L136.4 288.2 L136.8 287.5 L137.2 288.2 L137.6 288 L138 287.4 L138.4 286.7 L138.8 287.5 L139.2 288.2 L139.6 287.3 L140 286.6 L140.2 286.6 L140.4 286.4 L140.8 286.3 L141.2 286.4 L141.6 286.6 L142 286.1 L142.4 286.4 L142.8 286.3 L143.2 287 L143.6 285.3 L144 284.8 L144.4 284.8 L144.8 285.1 L145.2 284.8 L145.6 283.3 L146 283.2 L146.4 282.9 L146.5 283.8 L146.8 284.3 L147.2 283.6 L147.6 283.2 L148 283 L148.4 282.3 L148.8 282.3 L149.2 281.9 L149.6 281.6 L150 281.3 L150.2 279.8 L150.4 278.3 L150.8 279.5 L151.2 279 L151.6 278.6 L152 279.3 L152.4 278.7 L152.8 276.7 L153.2 276.1 L153.6 275.3 L154 275.5 L154.4 275.2 L154.8 275.7 L155.2 276.6 L155.6 274.6 L156 274.5 L156.4 274.7 L156.8 273.8 L157.2 273.3 L157.6 273.4 L158 271.8 L158.4 272.2 L158.8 269.6 L159.2 267.4 L159.6 265.8 L160 264.6 L160.4 266.3 L160.8 266 L161.2 261.4 L161.6 259.4 L162 260.1 L162.4 260.5 L162.8 257.6 L163.2 255.4 L163.6 251.6 L164 249.8 L164.4 250.2 L164.8 248.6 L165.2 244.8 L165.6 241.1 L166 241.6 L166.4 242.7 L166.8 241.1 L167.2 237 L167.6 233.9 L168 230.3 L168.4 227.1 L168.8 226 L169.2 222.2 L169.6 218.7 L170 218.3 L170.4 219.3 L170.8 214 L171.2 213.4 L171.6 207.2 L172 204.5 L172.4 202.6 L172.8 204.5 L173.2 198.1 L173.6 195.2 L174 193.9 L174.4 194.3 L174.8 191.8 L175.2 187.1 L175.6 186.2 L176 184.6 L176.4 183 L176.8 185 L177.2 180.3 L177.6 183.6 L178 178.9 L178.4 175.4 L178.8 176.8 L179.2 175.4 L179.6 168.7 L180 168.2 L180.4 175.8 L180.8 178.7 L181.2 180.2 L181.6 184.2 L182 182.4 L182.4 185.1 L182.8 187.6 L183.2 191.9 L183.6 197.8 L184 200.2 L184.4 203 L184.8 205.6 L185.2 208.9 L185.6 213.9 L186 215.3 L186.4 217.8 L186.8 215.2 L187.2 217.7 L187.6 214.7 L188 214.2 L188.4 217.1 L188.8 220.4 L189.2 225.9 L189.6 228.6 L190 228.2 L190.4 227.1 L190.8 228.8 L191.2 230.3 L191.6 236.7 L192 243.5 L192.4 243.4 L192.8 247.1 L193.2 248.3 L193.6 247.3 L194 252.7 L194.4 257.8 L194.8 260.8 L195.2 264.1 L195.6 266.8 L196 267.8 L196.4 269.2 L196.8 271.3 L197.2 276.2 L197.6 279.6 L198 281.3 L198.4 281.9 L198.8 281.9 L199.2 282.7 L199.6 283.8 L200 285 L200.4 285.4 L200.8 287.1 L201.2 287.1 L201.6 286.8 L202 287.6 L202.4 289.6 L202.8 288.6 L203.2 288.4 L203.6 289 L204 289.6 L204.4 289.7 L204.8 290.5 L205.2 290 L205.6 289.6 L206 289.4 L206.4 289.2 L206.8 289.2 L207.2 289.2 L207.6 289.7 L208 289.7 L208.4 289.9 L208.8 290.2 L209.2 290.5 L209.6 290.5 L210 289.9 L210.4 289.8 L210.8 289.5 L211.2 289.7 L211.6 289.8 L212 290.6 L212.4 290.2 L212.8 289.9 L213.2 290.2 L213.6 289.7 L214 290.1 L214.4 289.9 L214.8 289.6 L215.2 290.1 L215.6 290.4 L216 291.1 L216.4 290.4 L216.8 289.8 L217.2 290.2 L217.6 289.8 L218 290.5 L218.4 290.4 L218.8 290.6 L219.2 290.6 L219.6 291.1 L220 290.8 L220.4 290.8 L220.8 290.3 L221.2 290.8 L221.6 291.1 L222 290.6" fill="none" stroke="#000" stroke-width="2.8" stroke-linejoin="miter" stroke-miterlimit="6"/>
</g>
<g clip-path="url(#cBPB)">
<path d="M266.5 290.6 L266.9 289.9 L267.2 290.2 L267.6 290.6 L267.9 290.3 L268.2 290.1 L268.6 289.1 L268.9 288 L269.3 288.7 L269.6 289.3 L270 289 L270.4 288.5 L270.7 288.4 L271.1 288.1 L271.4 287.8 L271.8 287.8 L272.1 287.3 L272.4 287.1 L272.8 287.1 L273.1 287 L273.5 287 L273.9 286.9 L274.2 286.3 L274.6 285 L274.9 283.5 L275.2 284.3 L275.6 285.1 L275.9 284.9 L276.3 284.5 L276.5 284.1 L276.6 283.9 L277 282.7 L277.4 283.2 L277.7 283.4 L278.1 283.5 L278.4 282.8 L278.8 282.1 L279.1 281.7 L279.4 281.4 L279.8 281.3 L280.1 281.4 L280.5 280.6 L280.9 280 L281.2 279.8 L281.6 279.5 L281.9 279.4 L282.2 279.3 L282.6 277.8 L282.9 276.4 L283.3 276.9 L283.6 277.2 L284 276.9 L284.4 275.8 L284.7 275.6 L285.1 273.2 L285.4 270.9 L285.8 272.1 L286.1 273.3 L286.4 271.8 L286.8 271.2 L287.1 270.9 L287.5 270.4 L287.9 269 L288.2 267.1 L288.6 266.8 L288.9 267.2 L289.2 267 L289.6 266.7 L289.9 266.4 L290.2 265.4 L290.3 264.8 L290.6 264.2 L291 261.9 L291.4 260 L291.7 259.4 L292.1 259.5 L292.4 259.3 L292.8 258.6 L293.1 257.8 L293.4 255.6 L293.8 252.8 L294.1 251.9 L294.5 253.4 L294.9 252.9 L295.2 252.8 L295.2 251.7 L295.6 251 L295.9 250.6 L296.2 248.9 L296.6 246.7 L296.9 246.3 L297.3 246.2 L297.6 244.5 L298 243.7 L298.4 243.5 L298.7 241.6 L299.1 239.3 L299.4 237.9 L299.8 238 L300.1 238 L300.2 237.7 L300.4 238.2 L300.8 238 L301.1 237.1 L301.5 235.2 L301.9 234.1 L302.2 231.7 L302.6 228.9 L302.9 229.5 L303.2 229.8 L303.6 229.9 L303.9 228.4 L304.3 228.3 L304.6 227.4 L305 226.3 L305.4 224.9 L305.7 223.3 L306.1 220.8 L306.4 220.6 L306.8 218.9 L307.1 214.6 L307.4 211.6 L307.8 211.2 L308.1 213.1 L308.5 212.2 L308.9 206.8 L309.2 202.3 L309.6 201.2 L309.9 202 L310.2 199.1 L310.6 193.1 L310.9 190.8 L311.3 192.6 L311.6 193.9 L312 190.4 L312.4 189.5 L312.7 187.1 L313.1 183.8 L313.4 179.7 L313.8 179.6 L314.1 182.2 L314.4 182.6 L314.8 180.5 L315.1 180.3 L315.5 178.8 L315.9 176.5 L316.2 174.9 L316.6 169.5 L316.9 165.1 L317.2 171.4 L317.6 177.3 L317.9 178.5 L318.3 179 L318.6 178.6 L319 179.8 L319.4 177.5 L319.7 177.4 L320.1 181.3 L320.4 185 L320.8 185.7 L321.1 188.3 L321.4 190.7 L321.8 191.6 L322.1 193 L322.5 193.7 L322.9 192.4 L323.2 191.4 L323.6 197.8 L323.9 204.2 L324.2 206.3 L324.6 208.6 L324.9 209.4 L325.3 210.1 L325.6 213.8 L326 217.4 L326.4 216.2 L326.7 216.3 L327.1 218.9 L327.4 222.4 L327.8 223.6 L328.1 224.5 L328.4 225 L328.8 225.8 L329.1 227.9 L329.5 226.8 L329.9 225 L330.2 227 L330.6 229.8 L330.9 231.1 L331.2 231.9 L331.6 232.2 L331.9 233.6 L332.3 233.9 L332.6 234.5 L333 234.3 L333.4 234.9 L333.7 235.6 L334.1 236.2 L334.4 234.5 L334.8 232.4 L335.1 232.6 L335.4 233.5 L335.8 232.3 L336.1 231.1 L336.5 229.9 L336.9 229 L337.2 227.3 L337.6 225.3 L337.9 224.5 L338.2 223.8 L338.6 224.7 L338.9 223.1 L339.3 222.3 L339.6 221.8 L340 220.5 L340.4 219.5 L340.7 220.1 L341.1 219.9 L341.4 223 L341.8 226.2 L342.1 228.9 L342.4 232.7 L342.8 236 L343.1 239.6 L343.5 243.2 L343.9 245.3 L344.2 246.9 L344.6 251.1 L344.9 255.1 L345.2 258.2 L345.6 261.1 L345.9 262.4 L346.3 262.9 L346.6 268 L347 272.4 L347.4 275.1 L347.7 277.1 L348.1 278 L348.4 279.4 L348.8 281.9 L349.1 284.4 L349.4 285.1 L349.8 285.4 L350.1 286 L350.5 287.8 L350.9 289.6 L351.2 290.5 L351.2 294.4 L266.5 294.4 Z" fill="#c0c0c0"/>
<path d="M240.8 293.4 L241 280.8 L241.2 282.1 L241.7 285 L242 285.7 L242.4 286.8 L242.8 288.2 L242.8 288.5 L243.2 287.9 L243.7 288.5 L244 288.9 L244.4 288.8 L244.8 288.9 L245.2 288.9 L245.7 287.9 L246 289 L246.4 288.7 L246.8 288.9 L247.2 289.8 L247.7 289.3 L248 289 L248.4 289 L248.8 289.8 L249.2 289.4 L249.7 289.7 L250 289 L250.4 288.9 L250.8 288.9 L251.2 288.5 L251.7 289.1 L252 289.3 L252.4 289.8 L252.8 289.8 L253.2 289.1 L253.7 289.2 L254 289.3 L254 288.8 L254.4 289.1 L254.8 289.5 L255.2 289.1 L255.7 289.2 L256.1 288.9 L256.4 288.3 L256.9 287.2 L257.2 287.8 L257.6 287.7 L257.8 287.7 L258.1 287 L258.4 285.7 L258.9 284.7 L259.2 283.1 L259.6 280.5 L260.1 278.9 L260.2 278.2 L260.4 278.9 L260.9 278.8 L261.2 280.2 L261.6 280.7 L262.1 280.9 L262.4 279.4 L262.9 278.8 L263.2 279.7 L263.6 278.3 L264.1 278.3 L264.4 276.7 L264.9 275.9 L265.2 274.8 L265.6 275.8 L266.1 274.4 L266.4 273.7 L266.9 272.7 L267.2 272.5 L267.6 273 L268.1 272.6 L268.4 269.4 L268.9 267.4 L269.2 269.6 L269.6 269.7 L270.1 267.8 L270.4 265 L270.9 265.4 L271.2 266.4 L271.6 263.1 L272.1 261 L272.4 261.3 L272.9 258.9 L273.2 257.7 L273.6 257.2 L274.1 255.2 L274.4 250.2 L274.9 252.7 L275.2 253.6 L275.6 253 L276.1 250.6 L276.4 246.6 L276.9 244.1 L277.2 245.6 L277.6 246 L278.1 242 L278.4 241.2 L278.9 241.6 L279.2 242 L279.6 235.6 L280.1 232.6 L280.4 232.1 L280.9 233 L281.2 230.3 L281.6 227.8 L282.1 229.9 L282.4 228.8 L282.9 230 L283.2 227.6 L283.6 227.5 L284.1 227.3 L284.4 220.4 L284.9 218.5 L285.2 212 L285.6 211.7 L286.1 206.4 L286.4 207.9 L286.9 203.4 L287.2 200 L287.6 202 L288.1 203.5 L288.4 205.6 L288.9 206.9 L289.2 204 L289.6 196.2 L290.1 196.1 L290.4 190.6 L290.9 181.2 L291.2 172.8 L291.6 176.8 L292.1 174 L292.4 172.9 L292.9 172.5 L293.2 173.1 L293.6 177.6 L294.1 179.5 L294.4 183 L294.9 180.1 L295.2 178.6 L295.6 178.6 L296.1 174.5 L296.4 181.7 L296.9 189.2 L297.2 193.1 L297.6 198.6 L298.1 203.1 L298.4 205 L298.9 212.1 L299.2 208.9 L299.6 195.7 L300.1 186.7 L300.4 185.9 L300.9 191 L301.2 193.9 L301.6 196.9 L302.1 199.8 L302.4 206.5 L302.9 210.9 L303.2 212.2 L303.6 218.1 L304.1 215.6 L304.4 219.5 L304.9 224.2 L305.2 220.2 L305.6 220.3 L306.1 222.9 L306.4 226.4 L306.9 222.4 L307.2 220.6 L307.6 220.4 L308.1 219.5 L308.4 220.2 L308.9 221.3 L309.2 222.2 L309.6 220.4 L310.1 221.8 L310.4 219 L310.9 217.5 L311.2 216.6 L311.6 222.1 L312.1 222.2 L312.4 222.5 L312.9 217.7 L313.2 220.1 L313.6 217.2 L314.1 220.2 L314.4 223.4 L314.9 220.1 L315.2 219.7 L315.6 221.4 L316.1 220.4 L316.4 221 L316.9 219.7 L317.2 222.9 L317.6 224.1 L318.1 223.5 L318.4 221.4 L318.9 223.3 L319.2 223.4 L319.6 226.5 L320.1 231 L320.4 228 L320.9 229.6 L321.2 229.9 L321.6 229.7 L322.1 228 L322.4 228.2 L322.9 229.5 L323.2 231.7 L323.6 230.1 L324.1 230 L324.4 232.1 L324.9 230.4 L325.2 233.9 L325.6 234.7 L326.1 235.6 L326.4 236 L326.9 235 L327.2 238.1 L327.6 235.4 L328.1 232.1 L328.4 235.4 L328.9 234.7 L329.2 234.3 L329.6 233.4 L330.1 234.6 L330.4 240.1 L330.9 237 L331.2 236.6 L331.6 239.8 L332.1 240.1 L332.4 244.3 L332.9 248.4 L333.2 246.6 L333.6 249 L334.1 249.5 L334.4 252.9 L334.9 255.1 L335.2 257 L335.6 256.4 L336.1 257.9 L336.4 260.4 L336.9 259.5 L337.2 260.7 L337.6 261.8 L338.1 264.9 L338.4 267.3 L338.9 268.4 L339.2 269.2 L339.6 269.7 L340.1 269.9 L340.4 271.7 L340.9 275.9 L341.2 277 L341.6 277.7 L342.1 280.9 L342.4 282.8 L342.9 284.4 L343.2 283.8 L343.6 285.7 L344.1 286.9 L344.4 287.7 L344.9 288.2 L345.2 289.2 L345.6 289.1 L346.1 289.3 L346.4 288.9 L346.9 289.2 L347.2 289.7 L347.6 290.2 L348.1 290.5 L348.4 290.3 L348.9 290.1 L349.2 290 L349.6 290.1 L350.1 290.5 L350.4 290.5 L350.9 290.5 L351.2 290.3 L351.6 290.4 L352.1 290.7 L352.4 290.6 L352.9 291 L353.2 290.6 L353.6 290.8 L354.1 290.3 L354.4 290.1 L354.9 290.3 L355.2 290.2 L355.6 290.6 L356.1 290.8 L356.4 290.5 L356.9 290.8 L357.2 290.6 L357.6 290.5 L358.1 290.8 L358.4 290.2 L358.9 290.3 L359.2 290.2 L359.6 290.5 L360.1 291.1 L360.4 291 L360.9 290.9 L361.2 290.6 L361.6 290.6 L362.1 290.6 L362.4 290 L362.9 290.6 L363.2 290.8 L363.6 290.1 L364.1 290.2 L364.4 290.2 L364.9 291.1 L365.2 291.2 L365.6 291.1 L366.1 290.9 L366.4 290.9 L366.9 290.3" fill="none" stroke="#000" stroke-width="2.8" stroke-linejoin="miter" stroke-miterlimit="6"/>
</g>
<g clip-path="url(#cBSP)">
<path d="M410 291.3 L410.4 291.1 L410.7 290.6 L411.1 289.6 L411.4 289.6 L411.8 290.1 L412.1 290.2 L412.4 290.1 L412.8 290 L413.1 289.8 L413.5 289.7 L413.9 289.8 L414.2 288.9 L414.6 287.9 L414.9 288.6 L415.2 289.2 L415.6 288.3 L415.9 287.6 L416.3 287.7 L416.6 288.2 L417 288.2 L417.4 288.4 L417.7 288.2 L418.1 287.8 L418.4 287.7 L418.8 287.2 L419.1 287.4 L419.4 287.6 L419.8 287.5 L420 287.2 L420.1 287.2 L420.5 286.8 L420.9 286.2 L421.2 285.9 L421.6 284.8 L421.9 283.4 L422.2 283.3 L422.6 284.1 L422.9 284.4 L423.3 284.1 L423.6 283.3 L424 283.1 L424.4 282.7 L424.7 281.7 L425.1 281.1 L425.4 280.8 L425.8 280.7 L426.1 281.1 L426.4 280.9 L426.8 280.4 L427.1 279.9 L427.5 279.1 L427.9 278.4 L428.2 278.2 L428.6 278.2 L428.9 277 L429.2 275.5 L429.6 273.5 L429.9 273.2 L430.3 273.6 L430.6 273.7 L431 273.7 L431.4 272.4 L431.7 272.1 L432.1 270.1 L432.4 268.6 L432.8 268.8 L433.1 268.9 L433.4 267.9 L433.8 267.3 L433.8 266.9 L434.1 266.3 L434.5 263.6 L434.9 261.1 L435.2 261.8 L435.6 263 L435.9 261.9 L436.2 261 L436.6 259.5 L436.9 257.2 L437.3 254 L437.6 254.2 L438 256.6 L438.4 256.2 L438.7 255.6 L438.8 255.4 L439.1 255.2 L439.4 252.3 L439.8 247.8 L440.1 245.9 L440.4 248.7 L440.8 249.4 L441.1 246.7 L441.5 245.2 L441.9 246.1 L442.2 245.2 L442.6 243.5 L442.9 241.7 L443.2 240.7 L443.6 237.7 L443.8 235.5 L443.9 234.4 L444.3 236.8 L444.6 237.8 L445 237.1 L445.4 236.6 L445.7 235.7 L446.1 234.2 L446.4 233.5 L446.8 232.6 L447.1 230.1 L447.4 229.8 L447.8 230.8 L448.1 230.3 L448.5 229.2 L448.9 227.4 L449.2 224.3 L449.6 220.9 L449.9 221.9 L450.2 222.9 L450.6 221.8 L450.9 219.6 L451.3 218.5 L451.6 213.4 L452 209.9 L452.4 210.4 L452.7 212.9 L453.1 212.1 L453.4 210.7 L453.8 207.1 L454.1 206.3 L454.4 204.8 L454.8 202.4 L455.1 201.2 L455.5 199.1 L455.9 199.6 L456.2 198 L456.6 196 L456.9 191.7 L457.2 187.6 L457.6 187.1 L457.9 189.6 L458.3 191.4 L458.6 185.7 L459 182.9 L459.4 186.4 L459.7 189.3 L460.1 186.5 L460.4 182.3 L460.8 183.3 L461.1 184.6 L461.4 184.2 L461.8 184.3 L462.1 184.9 L462.5 184.6 L462.9 183.4 L463.2 182.4 L463.6 180.7 L463.9 181.4 L464.2 181.5 L464.6 180.3 L464.9 180.5 L465.3 179.8 L465.6 180.6 L466 183.2 L466.4 185.4 L466.7 187.1 L467.1 189 L467.4 190.2 L467.8 191.9 L468.1 190.5 L468.4 190.7 L468.8 194.7 L469.1 198.3 L469.5 200.1 L469.9 202.2 L470.2 203.8 L470.6 203.1 L470.9 203.9 L471.2 206 L471.6 209.3 L471.9 211.3 L472.3 212.3 L472.6 214.1 L473 215.1 L473.4 212 L473.7 211.7 L474.1 216.9 L474.4 220.4 L474.8 221.2 L475.1 222.3 L475.4 223.8 L475.8 224.9 L476.1 222 L476.5 219.6 L476.9 224.8 L477.2 228.9 L477.6 231 L477.9 230.7 L478.2 229.6 L478.6 231.2 L478.9 233.9 L479.3 235.9 L479.6 237.1 L480 238.6 L480.4 235.4 L480.7 233.9 L481.1 233.2 L481.4 233.5 L481.8 232.1 L482.1 230.9 L482.4 229.1 L482.8 228 L483.1 225.4 L483.5 224.1 L483.9 222.8 L484.2 222.2 L484.6 221.3 L484.9 219.3 L485.2 218.7 L485.6 215.9 L485.9 212.9 L486.3 212.5 L486.6 218.9 L487 223.6 L487.4 225.8 L487.7 228.1 L488.1 230.2 L488.4 234.8 L488.8 239.9 L489.1 243.4 L489.4 247.6 L489.8 251.5 L490.1 256 L490.5 259.3 L490.9 262 L491.2 264.2 L491.6 267.2 L491.9 271.8 L492.2 274.6 L492.6 277.9 L492.9 279.1 L493.3 281.1 L493.6 282.7 L494 284.5 L494.4 285.6 L494.7 287.2 L495.1 289.1 L495.4 289.6 L495.8 290.1 L496.1 290.3 L496.4 290.5 L496.8 290.9 L497.1 291.1 L497.5 291.3 L497.5 294.4 L410 294.4 Z" fill="#c0c0c0"/>
<path d="M387 290.7 L387.4 290.9 L387.8 291 L388.2 291 L388.6 290.9 L389 291.1 L389.4 291.2 L389.8 291.1 L390.2 291 L390.6 290.8 L391 290.8 L391.4 291 L391.8 290.9 L392.2 291 L392.6 291 L393 290.8 L393.4 290.8 L393.8 290.9 L394.2 290.8 L394.6 290.7 L395 290.8 L395.4 290.8 L395.8 290.8 L396.2 290.8 L396.6 290.6 L397 290.5 L397.4 290.6 L397.8 290.6 L398.2 290.6 L398.6 290.5 L399 290.4 L399.4 290.6 L399.8 290.5 L400.2 290.7 L400.6 290.7 L401 290.8 L401.4 290.8 L401.8 290.5 L402.2 290.4 L402.6 290.4 L403 290.7 L403.4 290.5 L403.8 290.4 L404.2 290.4 L404.6 290.5 L405 290.4 L405.4 290.2 L405.8 290 L406.2 290 L406.6 290 L407 290.1 L407.4 290 L407.8 289.9 L408.2 289.8 L408.6 289.6 L409 289.9 L409.4 289.8 L409.8 289.8 L410.2 289.8 L410.6 289.6 L411 289 L411.4 289.1 L411.8 289.2 L412.2 289.1 L412.5 289.1 L412.6 289.1 L413 289 L413.4 288.7 L413.8 288.4 L414.2 288 L414.6 288.4 L415 288.7 L415.4 288.3 L415.8 288.4 L416.2 287.4 L416.6 287.1 L417 286.9 L417.4 287 L417.8 286.6 L418.2 286.4 L418.6 286.1 L418.8 286.4 L419 285.9 L419.4 285.9 L419.8 285.6 L420.2 285.6 L420.6 285.3 L421 284.4 L421.4 283.6 L421.8 284.1 L422.2 284.2 L422.6 283.2 L423 283 L423.4 282.2 L423.8 281.4 L424.2 281.9 L424.6 282.2 L425 281.9 L425.4 280.4 L425.8 279.3 L426.2 278.4 L426.6 277.5 L427 276.6 L427.4 276.1 L427.8 275.9 L428.2 274.9 L428.6 273.8 L429 273.2 L429.4 272.2 L429.8 270.9 L430 270.5 L430.2 269.8 L430.6 268.7 L431 267.7 L431.4 266.3 L431.8 264.3 L432.2 262.3 L432.6 260.3 L433 259.9 L433.4 258.3 L433.8 256.5 L434.2 254.5 L434.6 253.9 L435 251 L435.4 249.4 L435.8 245.9 L436.2 245.7 L436.6 244.3 L437 243.1 L437.4 240.1 L437.8 237.3 L438.2 235 L438.6 233.7 L439 231.7 L439.4 228.8 L439.8 226.4 L440.2 223.2 L440.6 220.7 L441 219.6 L441.4 220.8 L441.8 216.9 L442.2 215.8 L442.6 212.7 L443 209.8 L443.4 210.3 L443.8 211.4 L444.2 208.3 L444.6 206.5 L445 204.1 L445.4 201.3 L445.8 201.3 L446.2 201 L446.6 200.4 L447 196.7 L447.4 196.4 L447.8 196.1 L448.2 196.3 L448.6 195.8 L449 194.1 L449.4 192.8 L449.8 192.9 L450.2 191.7 L450.6 190.5 L451 192 L451.4 188.5 L451.8 187.5 L452.2 187.3 L452.6 188.3 L453 187.3 L453.4 184.3 L453.8 185 L454.2 186.5 L454.6 183.3 L455 179.1 L455.4 180.3 L455.8 180.4 L456.2 176.5 L456.6 172.9 L457 173.2 L457.4 171.6 L457.8 169.8 L458.2 168.7 L458.6 168.5 L459 168.7 L459.4 172 L459.8 175 L460.2 175.9 L460.6 175.9 L461 177.8 L461.4 177 L461.8 175.5 L462.2 174.7 L462.6 175.8 L463 178.4 L463.4 179.8 L463.8 181.1 L464.2 181.2 L464.6 179.3 L465 175.9 L465.4 173.9 L465.8 176.3 L466.2 182.2 L466.6 182.9 L467 185.2 L467.4 189.3 L467.8 191.5 L468.2 193.6 L468.6 194.4 L469 196.6 L469.4 198.9 L469.8 200.9 L470.2 203.7 L470.6 205.7 L471 206.3 L471.4 208.9 L471.8 212.1 L472.2 213.5 L472.6 216.7 L473 216.6 L473.4 218 L473.8 219.7 L474.2 222.3 L474.6 225.4 L475 228.5 L475.4 228.9 L475.8 228.1 L476.2 231.6 L476.6 233.9 L477 236.2 L477.4 237.4 L477.8 238.4 L478.2 239.2 L478.6 240 L479 241.9 L479.4 242.2 L479.8 241.9 L480.2 244.3 L480.6 247.3 L481 248.8 L481.4 247.8 L481.8 251.5 L482.2 253.6 L482.6 255.2 L483 256.7 L483.4 257.5 L483.8 258.8 L484.2 260.3 L484.6 263.4 L485 263.6 L485.4 265 L485.8 267.6 L486.2 269.5 L486.6 270.5 L487 271.3 L487.4 274 L487.8 275.6 L488.2 276.6 L488.6 278 L489 280.4 L489.4 281.8 L489.8 283.4 L490.2 284.5 L490.6 285.2 L491 286.4 L491.4 287.1 L491.8 287.5 L492.2 288.3 L492.6 289.1 L493 288.9 L493.4 289.2 L493.8 289.4 L494.2 289.7 L494.6 289.6 L495 289.8 L495.4 290.1 L495.8 290.6 L496.2 290.6 L496.6 290.7 L497 290.6 L497.4 290.5 L497.8 290.7 L498.2 290.9 L498.6 290.8 L499 290.9 L499.4 290.7 L499.8 290.9 L500.2 290.7 L500.6 290.4 L501 290.7 L501.4 290.7 L501.8 290.7 L502.2 290.8 L502.6 290.9 L503 290.7 L503.4 290.7 L503.8 290.5 L504.2 290.6 L504.6 290.9 L505 290.7 L505.4 290.8 L505.8 290.8 L506.2 290.8 L506.6 290.9 L507 290.9 L507.4 291 L507.8 290.8 L508.2 290.7 L508.6 290.6 L509 290.8 L509.4 291.1 L509.8 290.9 L510.2 290.9 L510.6 290.9 L511 290.8 L511.4 290.8 L511.8 290.7 L512.2 290.9 L512.6 291.2 L513 291.1" fill="none" stroke="#000" stroke-width="2.8" stroke-linejoin="miter" stroke-miterlimit="6"/>
</g>
<g clip-path="url(#cCBM)">
<path d="M96 421.9 L96.3 421.8 L96.7 421.4 L97 421 L97.4 418.9 L97.8 416.5 L98.1 416.8 L98.5 417.7 L98.8 417.6 L99.2 416.6 L99.5 416 L99.8 414.9 L100.2 414.3 L100.5 413.6 L100.9 411.8 L101.2 411.2 L101.5 411.5 L101.6 411 L102 410.4 L102.3 409.8 L102.7 409.5 L103 408.3 L103.3 407.3 L103.7 406.2 L104 404.7 L104.4 404.6 L104.8 404.7 L105.1 403.7 L105.5 403.1 L105.8 400.3 L106.2 397 L106.5 397.2 L106.8 398.9 L107.2 399.6 L107.5 397.8 L107.8 397.3 L107.9 396.1 L108.2 393.6 L108.6 393.1 L109 393.2 L109.3 391.8 L109.7 389.9 L110 388.2 L110.3 386.7 L110.7 384.7 L111 383.9 L111.4 383.1 L111.8 382.2 L112.1 380.9 L112.5 380 L112.8 378.9 L112.8 378.1 L113.2 374.1 L113.5 369.4 L113.8 368.7 L114.2 368.9 L114.5 366 L114.9 361.1 L115.2 357.3 L115.6 357.6 L116 358.9 L116.3 353.7 L116.5 351.1 L116.7 349.4 L117 347.9 L117.3 349.4 L117.7 349.5 L118 346.7 L118.4 344.6 L118.8 342.3 L119.1 341.4 L119.5 339.8 L119.8 336.5 L120.2 329.8 L120.2 327.2 L120.5 326.5 L120.8 329.8 L121.2 331.8 L121.5 329.3 L121.9 328.3 L122.2 326.6 L122.6 324 L123 321.4 L123.3 316.6 L123.7 317.5 L124 318.1 L124.3 318.1 L124.7 317 L125 315.6 L125.4 315.6 L125.8 312.1 L126.1 307.6 L126.5 306.8 L126.8 313.9 L127.2 318.2 L127.5 319.3 L127.8 321.9 L128.2 325.6 L128.6 329 L128.9 330.9 L129.2 331.8 L129.6 330.7 L129.9 334.9 L130.3 339.7 L130.7 343.2 L131 346.6 L131.3 348.3 L131.7 351.7 L132.1 357.3 L132.4 361.9 L132.8 364.6 L133.1 366.9 L133.4 370.4 L133.8 372.7 L134.2 374.9 L134.5 374.6 L134.8 374.1 L135.2 378.7 L135.6 383.5 L135.9 386.3 L136.2 388.8 L136.6 390.6 L136.9 391.8 L137.3 392.7 L137.7 392.6 L138 396.8 L138.3 399.7 L138.7 401.7 L139.1 402.9 L139.4 404.5 L139.8 405.2 L140.1 407.3 L140.4 409.9 L140.8 410.9 L141.2 412.2 L141.5 413.8 L141.8 415.8 L142.2 417 L142.6 417.4 L142.9 417.7 L143.2 419.5 L143.6 420.7 L143.9 422.2 L144.3 422.3 L144.7 423 L145 422.8 L145.3 423.6 L145.7 424 L146.1 424.3 L146.4 425.1 L146.8 425.7 L147.1 426.2 L147.4 426.7 L147.8 426.9 L148.2 427.1 L148.5 426.7 L148.8 427.5 L149.2 428.2 L149.6 428.4 L149.9 427.3 L150.2 426.7 L150.6 427.5 L150.9 428.8 L151.3 428.9 L151.7 429.1 L152 429.2 L152.3 429.1 L152.7 429 L153.1 429.3 L153.4 429.6 L153.8 429.8 L154.1 429.9 L154.4 429.4 L154.8 429.1 L155.2 429.6 L155.5 430 L155.8 430.1 L156.2 430.3 L156.6 430.4 L156.9 430.5 L157.2 430.6 L157.6 430.7 L157.9 430.7 L158.3 430.6 L158.7 430.4 L159 430.9 L159 433.3 L96 433.3 Z" fill="#c0c0c0"/>
<path d="M96 421.2 L96.5 420.7 L96.9 420.1 L97.3 419.5 L97.8 419 L98.2 418.4 L98.7 417.8 L99.2 417.1 L99.6 416.4 L100 415.7 L100.5 414.9 L101 414.3 L101.4 413.5 L101.8 412.7 L102.3 411.8 L102.8 411.2 L103.1 410.7 L103.4 409.9 L103.7 409.2 L104 408.7 L104.3 407.9 L104.6 406.9 L104.9 406.2 L105.2 405.4 L105.6 404.5 L105.9 403.8 L106.2 403.1 L106.5 402.3 L106.8 401.5 L107.1 400.7 L107.4 399.8 L107.8 399 L108.1 398.2 L108.4 397.6 L108.7 396.8 L109 396.2 L109.2 395.3 L109.4 395 L109.7 394.2 L109.9 393.6 L110.1 393 L110.3 392.6 L110.5 391.9 L110.7 391.1 L111 390.1 L111.2 389.5 L111.4 388.4 L111.6 387.7 L111.8 386.9 L112 386 L112.3 385.4 L112.5 384.6 L112.7 384.2 L112.9 383.2 L113.1 382.5 L113.3 381.9 L113.6 381.4 L113.8 380.5 L114 379.5 L114.2 378.7 L114.3 377.7 L114.5 376.5 L114.6 375.7 L114.8 374.6 L114.9 373.7 L115 372.7 L115.2 371.8 L115.3 371.1 L115.5 370.5 L115.7 369.6 L115.8 368.6 L116 367.9 L116.1 367.3 L116.2 366.5 L116.4 365.5 L116.5 364.7 L116.7 364.1 L116.8 363.4 L117 362.4 L117.2 361.9 L117.3 360.9 L117.5 360.3 L117.6 359.6 L117.8 358.7 L117.8 358.2 L118 357.2 L118 356.5 L118.2 355.8 L118.2 355.1 L118.3 354.4 L118.5 353.5 L118.5 352.5 L118.7 351.8 L118.8 350.9 L118.8 350.1 L119 349.3 L119 348.3 L119.2 347.2 L119.2 346.5 L119.3 345.5 L119.5 344.6 L119.5 344 L119.7 342.8 L119.8 342.2 L119.8 341.2 L120 340.3 L120 339.6 L120.2 338.9 L120.2 338.2 L120.4 337.5 L120.5 336.6 L120.6 335.6 L120.7 335.1 L120.8 334.2 L120.9 333.7 L121 332.7 L121.2 331.9 L121.3 330.9 L121.4 330.4 L121.5 329.7 L121.6 328.8 L121.7 328 L121.8 327.4 L122 326.5 L122.1 325.8 L122.2 325.1 L122.3 324.3 L122.4 323.7 L122.5 322.9 L122.6 322.1 L122.8 321.2 L122.9 320.4 L123.1 320 L123.2 319.5 L123.4 318.3 L123.5 317.5 L123.7 316.7 L123.9 316.1 L124 315.2 L124.2 314.5 L124.3 313.3 L124.5 312.5 L124.9 313.4 L125.3 314.5 L125.7 315.6 L126.1 316.6 L126.5 317.8 L126.6 318.3 L126.6 319.1 L126.7 320.1 L126.8 320.7 L126.8 321.4 L126.9 322.3 L127 322.7 L127 323.3 L127.1 324.6 L127.2 325.1 L127.2 325.9 L127.3 326.3 L127.4 327.5 L127.4 328 L127.5 328.9 L127.6 329.5 L127.6 330.6 L127.7 331 L127.8 331.7 L127.8 332.8 L127.9 333.2 L127.9 334 L128 334.9 L128.1 336 L128.1 336.3 L128.2 337.2 L128.2 338.3 L128.3 338.7 L128.4 339.7 L128.4 340.7 L128.5 341.5 L128.6 342.3 L128.6 342.8 L128.7 344 L128.8 344.5 L128.8 345.6 L128.9 346.2 L128.9 347.2 L129 347.8 L129.1 348.5 L129.1 349.3 L129.2 350.3 L129.2 350.9 L129.3 351.7 L129.4 352.9 L129.4 353.5 L129.5 354.5 L129.6 354.9 L129.6 355.9 L129.7 356.7 L129.7 357.3 L129.8 358.1 L129.8 359.2 L129.9 359.9 L129.9 360.6 L130 361.4 L130 362.3 L130.1 363.1 L130.1 363.8 L130.2 364.3 L130.2 365.5 L130.3 365.9 L130.3 366.8 L130.4 367.5 L130.4 368.4 L130.5 369.3 L130.6 370 L130.6 370.8 L130.7 371.4 L130.7 372.4 L130.8 373.2 L130.8 373.9 L130.9 374.8 L130.9 375.7 L131 376.5 L131 377.3 L131.1 377.7 L131.1 378.6 L131.2 379.4 L131.2 380.1 L131.3 381.1 L131.3 382 L131.4 382.5 L131.4 383.4 L131.5 384.4 L131.6 385.2 L131.7 385.8 L131.7 386.5 L131.8 387.5 L131.9 388.3 L132 389.3 L132.1 389.9 L132.1 390.7 L132.2 391.8 L132.3 392.3 L132.4 393.3 L132.5 393.9 L132.5 395 L132.6 395.7 L132.7 396.7 L132.8 397.3 L132.9 398.2 L133 398.8 L133 399.5 L133.1 400.3 L133.2 401.1 L133.3 401.9 L133.4 402.9 L133.4 403.5 L133.5 404.4 L133.6 404.9 L133.7 405.9 L133.8 406.6 L133.8 407.3 L133.9 408.2 L134 409 L134.2 409.6 L134.4 410.4 L134.6 411.1 L134.8 411.7 L135 412.4 L135.2 413.1 L135.5 413.9 L135.7 414.7 L135.9 415.5 L136.1 416.3 L136.3 417.2 L136.5 417.9 L136.7 418.9 L136.9 419.8 L137.1 420.6 L137.3 421.6 L137.5 422.4 L137.8 423.1 L138.2 423.6 L138.8 424.2 L139.2 424.8 L139.8 425.3 L140.2 425.8 L140.8 426.2 L141.2 426.8 L141.8 427.6 L142.2 428.2 L142.8 428.8 L143.5 429.2 L144.2 429.5 L144.9 430 L145.6 430.4 L146.3 430.6 L147 430.9 L147.8 431.1 L148.6 431.4 L149.4 431.7 L150.2 432" fill="none" stroke="#000" stroke-width="3.0999999999999996" stroke-dasharray="4.2 0.5" stroke-linejoin="round"/>
<path d="M95.8 432.3 L96 421.6 L96.2 419.8 L96.6 418.4 L97 417.5 L97.4 417.5 L97.8 417.2 L98.2 416.1 L98.6 415.3 L99 411.7 L99 411.6 L99.4 412.6 L99.8 412.6 L100.2 414.9 L100.6 414.5 L101 415.9 L101.4 418.1 L101.5 417.6 L101.8 416.4 L102.2 414.6 L102.6 413.2 L103 412.7 L103.4 411.5 L103.8 412.2 L104.2 410.3 L104.6 407.7 L105 405.8 L105.2 405.7 L105.4 405.7 L105.8 405.1 L106.2 404.4 L106.6 406.7 L107 404.9 L107.4 405 L107.8 401.3 L108.2 402.4 L108.6 400.8 L109 400.9 L109 401.2 L109.4 401 L109.8 400 L110.2 399.7 L110.6 397.4 L111 395.5 L111.4 392.2 L111.8 391.5 L112.2 389.1 L112.6 388.7 L113 387.9 L113.4 385.1 L113.8 385.4 L114.2 382.4 L114.6 383.8 L115 382.3 L115.4 380.5 L115.8 374.8 L116.2 375.5 L116.6 375.2 L117 373.3 L117.4 369.7 L117.8 370 L118.2 368.1 L118.6 368.1 L119 365.3 L119.4 361.8 L119.8 358 L120.2 356.5 L120.6 354.1 L121 349 L121.4 343.4 L121.8 340.5 L122.2 337.6 L122.6 336.1 L123 334.3 L123.4 333.8 L123.8 329.6 L124.2 328.8 L124.6 322.6 L125 323.6 L125.4 324.2 L125.8 321.2 L126.2 320.9 L126.6 317.7 L127 312.7 L127.4 312.3 L127.8 308.4 L128.2 310.3 L128.7 316.1 L129.1 318.6 L129.4 319.9 L129.8 319.9 L130.2 322.9 L130.7 323.8 L131.1 319.3 L131.4 321.3 L131.8 321.2 L132.2 330.5 L132.7 336.9 L133.1 335.5 L133.4 336.4 L133.8 343.5 L134.2 348.7 L134.7 350.6 L135.1 352.3 L135.4 356 L135.8 356.7 L136.2 361.6 L136.7 364.6 L137.1 367.8 L137.4 371.6 L137.8 372 L138.2 370 L138.7 373.8 L139.1 380 L139.4 383.7 L139.8 386.8 L140.2 389.1 L140.7 390.9 L141.1 393.2 L141.4 394.8 L141.8 397.3 L142.2 397.4 L142.7 398.9 L143.1 402.6 L143.4 403.5 L143.8 405.9 L144.2 405.6 L144.7 407.3 L145.1 409.6 L145.4 413.3 L145.8 413.2 L146.2 415.1 L146.7 416.8 L147.1 418.2 L147.4 418.4 L147.8 419.7 L148.2 421.5 L148.7 423.4 L149.1 422.3 L149.4 422.1 L149.8 422.8 L150.2 424 L150.7 423.4 L151.1 424.1 L151.4 424.1 L151.8 424.9 L152.2 426.6 L152.7 427.3 L153.1 426.5 L153.4 426.4 L153.8 426.3 L154.2 425.1 L154.7 425.6 L155.1 425.8 L155.4 425.6 L155.8 424.9 L156.2 426.3 L156.7 426.4 L157.1 426.1 L157.4 426 L157.8 426 L158.2 426.9 L158.7 427.4 L159.1 427.5 L159.4 427.6 L159.8 427.5 L160.2 426.5 L160.6 425.8 L161.1 426.5 L161.4 426 L161.8 427.1 L162.2 427.3 L162.6 427.3 L163.1 427.4 L163.4 428 L163.8 428.1 L164.2 428.5 L164.6 428.3 L165.1 428.1 L165.4 427.8 L165.8 428.9 L166.2 429.2 L166.6 429.9 L167.1 429.9 L167.4 430.4 L167.8 430.3 L168.2 430.1 L168.6 430 L169.1 429.9 L169.4 430.2 L169.8 430.4 L170.2 430.9 L170.6 430.6 L171.1 430.7 L171.4 430.6 L171.8 430.6 L172.2 430.9 L172.7 430.9 L173.1 431.1 L173.4 431.1 L173.8 431.3 L174.2 431.3 L174.7 431.2 L175.1 431.1 L175.4 431.1 L175.8 431.3 L176.2 431.1 L176.7 430.9 L177.1 430.8 L177.4 431.1 L177.8 431.1 L178.2 431.3 L178.7 431.1 L179.1 430.9 L179.4 430.8 L179.8 430.9 L180.2 431 L180.7 431.2 L181.1 431.2 L181.4 431 L181.8 430.8 L182.2 430.7 L182.7 430.6 L183.1 430.9 L183.4 430.8 L183.8 431.1 L184.2 431.1 L184.7 431.1 L185.1 431.2 L185.4 431.1 L185.8 431.1 L186.2 431.2 L186.7 431 L187.1 430.9 L187.4 430.9 L187.8 431.1 L188.2 430.9 L188.7 430.8 L189.1 430.9 L189.4 430.8 L189.8 430.9 L190.2 430.9 L190.7 431 L191.1 431 L191.4 430.8 L191.8 430.7 L192.2 430.8 L192.7 431.1 L193.1 431.2 L193.4 431.2 L193.8 431.1 L194.2 431.3 L194.7 431.3 L195.1 431.1 L195.4 431.1 L195.8 430.7 L196.2 430.9 L196.7 431.2 L197.1 431.2 L197.4 431 L197.8 431.1 L198.2 431.3 L198.7 431.1 L199.1 431 L199.4 430.8 L199.8 430.8 L200.2 431 L200.7 431.1 L201.1 431 L201.4 430.8 L201.8 430.9 L202.2 431.4 L202.7 431.1 L203.1 431 L203.4 431.2 L203.8 431.1 L204.2 431 L204.7 430.9 L205.1 430.9 L205.4 431 L205.8 431 L206.2 431 L206.7 431 L207.1 431.1 L207.4 431 L207.8 430.9 L208.2 431 L208.7 430.9 L209.1 430.8 L209.4 431 L209.8 430.9 L210.2 431.1 L210.7 431 L211.1 430.7 L211.4 430.9 L211.8 430.8 L212.2 431 L212.7 431 L213.1 431.1 L213.4 431.1 L213.8 430.8 L214.2 430.7 L214.7 430.9 L215.1 431 L215.4 430.9 L215.8 431.2 L216.2 431 L216.7 430.9 L217.1 431.1 L217.4 431.2 L217.8 431.1 L218.2 431 L218.7 430.8 L219.1 430.8 L219.4 430.9 L219.8 431 L220.2 431.1 L220.7 431.2 L221.1 431.1 L221.4 431.2 L221.8 430.9" fill="none" stroke="#000" stroke-width="2.8" stroke-linejoin="miter" stroke-miterlimit="6"/>
</g>
<g clip-path="url(#cCPB)">
<path d="M241 419.5 L241.3 418.8 L241.7 418.6 L242.1 418.6 L242.4 417 L242.8 415.9 L243.1 415.5 L243.4 415.5 L243.8 415 L244.2 413.8 L244.5 414.1 L244.8 413.7 L245.2 413.1 L245.2 412.5 L245.6 410.8 L245.9 407.9 L246.2 408.7 L246.6 410.6 L246.9 410.5 L247.3 409.4 L247.7 406.8 L248 405.4 L248.3 406.2 L248.7 405.7 L249.1 403.6 L249.4 402 L249.8 404.6 L250.1 405.7 L250.2 404.9 L250.4 404.3 L250.8 402.2 L251.2 401 L251.5 399.2 L251.8 398.4 L252.2 397.1 L252.6 395.5 L252.9 393.9 L253.2 392 L253.6 390.5 L253.9 388.4 L254 388.4 L254.3 385.7 L254.7 384.4 L255 384.5 L255.3 383.4 L255.7 381 L256.1 379.3 L256.4 378.5 L256.8 375.8 L257.1 374.2 L257.4 372.4 L257.8 372.6 L257.8 372.6 L258.1 371.1 L258.5 370.6 L258.9 370.4 L259.2 368.8 L259.6 367.1 L259.9 365 L260.2 360.8 L260.6 361.8 L260.9 362.5 L261.3 361.5 L261.5 358.8 L261.6 357 L262 353.6 L262.4 353.7 L262.7 352.6 L263.1 351.2 L263.4 349.5 L263.8 347.9 L264.1 346.9 L264.4 343.4 L264.8 340.6 L265.1 337.8 L265.5 336.8 L265.9 335.3 L266.2 332.1 L266.6 330.7 L266.9 328.9 L267.2 327.2 L267.6 321 L267.9 316.3 L268.3 319 L268.6 321.3 L269 320.6 L269.4 317.9 L269.7 316.8 L270.1 315.9 L270.4 315 L270.8 314.8 L271.1 313.7 L271.4 313 L271.8 315.9 L272.1 318.6 L272.5 319.7 L272.9 321.1 L273.2 322.8 L273.6 323.3 L273.9 323.7 L274.2 325.2 L274.6 328.4 L274.9 330.1 L275.3 332.4 L275.6 334.8 L276 337.1 L276.4 337.2 L276.7 336.3 L277.1 335.7 L277.4 339.9 L277.8 346.1 L278.1 349.7 L278.4 352.8 L278.8 354.7 L279.1 352.4 L279.5 353.5 L279.9 359.9 L280.2 365.4 L280.6 367.4 L280.9 370.5 L281.2 372.5 L281.6 375.6 L281.9 378.3 L282.3 376.9 L282.6 380.2 L283 385.7 L283.4 389.5 L283.7 392.6 L284.1 396 L284.4 397.9 L284.8 400.7 L285.1 402.9 L285.4 403.3 L285.8 404.5 L286.1 408 L286.5 412.2 L286.9 413.2 L287.2 414.6 L287.6 415.9 L287.9 416.9 L288.2 417.4 L288.6 417.1 L288.9 418.6 L289.3 421 L289.6 422.5 L290 424 L290.4 424.4 L290.7 424 L291.1 424.4 L291.4 425.3 L291.8 425.9 L292.1 426.5 L292.4 426.8 L292.8 426.8 L293.1 426.7 L293.5 427.2 L293.9 427.9 L294.2 428.3 L294.6 428.5 L294.9 428.2 L295.2 428.1 L295.6 429 L295.9 429.6 L296.3 429.7 L296.6 429.7 L297 429.6 L297.4 429.8 L297.7 429.9 L298.1 429.5 L298.4 429.5 L298.8 430 L299.1 430.5 L299.4 430.6 L299.8 430.7 L300.1 430.8 L300.5 430.8 L300.9 430.6 L301.2 430.6 L301.2 433.3 L241 433.3 Z" fill="#c0c0c0"/>
<path d="M240.8 432.3 L241 385.3 L241.2 389.6 L241.7 395.1 L242 405.5 L242 406.1 L242.4 409.5 L242.8 412.6 L243.2 415 L243.5 417.6 L243.7 416.2 L244 414.4 L244.4 413 L244.8 410.6 L245.2 410.7 L245.7 410.4 L246 407.5 L246 408.1 L246.4 406.2 L246.8 406.2 L247.2 407.7 L247.7 406.5 L248 406 L248.4 407.2 L248.8 406.8 L249.2 408.3 L249.5 407.5 L249.7 407.2 L250 407 L250.4 406.6 L250.8 402.8 L251.2 403 L251.7 399.9 L252 396.9 L252.4 396 L252.8 394 L253.2 392 L253.7 389.6 L254 387.7 L254.4 388.3 L254.8 384.9 L255.2 385 L255.7 382.6 L256.1 380.2 L256.4 378.7 L256.9 378.2 L257.2 376.7 L257.6 371.5 L258.1 372.1 L258.4 371.7 L258.9 371 L259.2 369.1 L259.6 369.8 L260.1 368.7 L260.4 367.9 L260.9 369.3 L261.2 366.1 L261.6 366.6 L262.1 363.9 L262.4 358.9 L262.9 362.1 L263.2 359.5 L263.6 357.3 L264.1 355.5 L264.4 354.7 L264.9 348.2 L265.2 342.8 L265.6 339 L266.1 333.5 L266.4 333.7 L266.9 329.3 L267.2 330 L267.6 325.5 L268.1 322.7 L268.4 320.2 L268.9 324 L269.2 320.7 L269.6 318.6 L270.1 319.2 L270.4 317.1 L270.9 318.8 L271.2 314.1 L271.6 311.8 L272.1 310.6 L272.4 310.9 L272.9 309.6 L273.2 314.2 L273.6 321.6 L274.1 320.5 L274.4 324.7 L274.9 327.3 L275.2 329.1 L275.6 330 L276.1 328.7 L276.4 330.3 L276.9 338.1 L277.2 340.8 L277.6 345.6 L278.1 348 L278.4 349.7 L278.9 352.2 L279.2 352.6 L279.6 352 L280.1 355.2 L280.4 360.5 L280.9 361.4 L281.2 366.4 L281.6 367.9 L282.1 374.2 L282.4 377.3 L282.9 379.7 L283.2 380.9 L283.6 385.4 L284.1 387.6 L284.4 388.9 L284.9 391.3 L285.2 394.3 L285.6 397.1 L286.1 399.4 L286.4 404.4 L286.9 404.4 L287.2 407.7 L287.6 411.2 L288.1 414 L288.4 414.9 L288.9 414.7 L289.2 416.2 L289.6 416.7 L290.1 417.3 L290.4 418.3 L290.9 420.9 L291.2 421.9 L291.6 421 L292.1 421.2 L292.4 422.3 L292.9 423.8 L293.2 424.8 L293.6 424.6 L294.1 425.6 L294.4 426.5 L294.9 426 L295.2 426.1 L295.6 426 L296.1 425.8 L296.4 426.5 L296.9 426.9 L297.2 427.1 L297.6 428.3 L298.1 427.9 L298.4 427.7 L298.9 428.6 L299.2 429.1 L299.6 428.6 L300.1 428.8 L300.4 428.9 L300.9 428.8 L301.2 429.1 L301.6 429.2 L302.1 429.3 L302.4 430.1 L302.9 429.9 L303.2 429.8 L303.6 429.7 L304.1 429.6 L304.4 430 L304.9 430.2 L305.2 429.9 L305.6 430 L306.1 430.3 L306.4 430.5 L306.9 430.4 L307.2 430.5 L307.6 430.4 L308.1 430.6 L308.4 430.5 L308.9 430.7 L309.2 430.7 L309.6 430.6 L310.1 430.5 L310.4 430.2 L310.9 430.1 L311.2 430.4 L311.6 430.6 L312.1 430.5 L312.4 430.7 L312.9 430.7 L313.2 430.5 L313.6 430.3 L314.1 430.6 L314.4 430.9 L314.9 430.9 L315.2 431 L315.6 430.5 L316.1 430.6 L316.4 430.5 L316.9 430.7 L317.2 430.7 L317.6 430.8 L318.1 430.9 L318.4 430.8 L318.9 430.8 L319.2 430.8 L319.6 430.5 L320.1 430.6 L320.4 430.7 L320.9 430.9 L321.2 430.7 L321.6 430.7 L322.1 430.6 L322.4 430.3 L322.9 430.6 L323.2 430.8 L323.6 430.6 L324.1 430.6 L324.4 430.6 L324.9 430.7 L325.2 430.5 L325.6 430.5 L326.1 430.5 L326.4 430.5 L326.9 430.4 L327.2 430.7 L327.6 430.7 L328.1 430.9 L328.4 430.9 L328.9 430.8 L329.2 430.8 L329.6 430.7 L330.1 430.7 L330.4 431.1 L330.9 430.7 L331.2 430.5 L331.6 430.4 L332.1 430.6 L332.4 430.7 L332.9 430.9 L333.2 430.8 L333.6 430.9 L334.1 430.7 L334.4 430.7 L334.9 430.7 L335.2 430.5 L335.6 430.9 L336.1 431.1 L336.4 430.8 L336.9 430.9 L337.2 430.8 L337.6 430.9 L338.1 430.9 L338.4 430.6 L338.9 430.7 L339.2 430.5 L339.6 430.7 L340.1 430.7 L340.4 430.9 L340.9 430.7 L341.2 430.9 L341.6 431 L342.1 430.9 L342.4 430.8 L342.9 431 L343.2 431 L343.6 430.8 L344.1 430.8 L344.4 431 L344.9 430.9 L345.2 430.7 L345.6 430.6 L346.1 430.8 L346.4 431.2 L346.9 431.1 L347.2 430.8 L347.6 430.8 L348.1 430.8 L348.4 430.8 L348.9 430.6 L349.2 430.7 L349.6 430.7 L350.1 430.7 L350.4 430.8 L350.9 430.9 L351.2 430.9 L351.6 430.9 L352.1 431 L352.4 430.8 L352.9 430.8 L353.2 430.9 L353.6 431 L354.1 430.9 L354.4 431.1 L354.9 430.9 L355.2 431 L355.6 431.2 L356.1 431.2 L356.4 430.8 L356.9 430.6 L357.2 431 L357.6 431.1 L358.1 430.9 L358.4 430.5 L358.9 430.9 L359.2 430.9 L359.6 431 L360.1 431 L360.4 430.8 L360.9 430.6 L361.2 430.9 L361.6 431 L362.1 431 L362.4 431 L362.9 431.1 L363.2 431.2 L363.6 431.1 L364.1 430.7 L364.4 430.8 L364.9 431.1 L365.2 431 L365.6 431.1 L366.1 430.9 L366.4 430.9 L366.9 431.1" fill="none" stroke="#000" stroke-width="2.8" stroke-linejoin="miter" stroke-miterlimit="6"/>
</g>
<g clip-path="url(#cCSP)">
<path d="M387 414.6 L387.4 414.7 L387.7 414.6 L388.1 413.5 L388.4 412.4 L388.8 412 L389.1 412 L389.4 412.1 L389.8 411.5 L390.1 411 L390.5 409.9 L390.9 408.3 L391.2 409 L391.2 409.4 L391.6 409.8 L391.9 408.7 L392.2 408.1 L392.6 405.9 L392.9 403.7 L393.3 404.2 L393.6 404.2 L394 403.7 L394.4 402.9 L394.7 401 L395.1 397.4 L395.4 396.4 L395.8 397.9 L396.1 398.8 L396.2 398.6 L396.4 397.8 L396.8 397 L397.1 394.9 L397.5 392.4 L397.9 387.7 L398.2 387.5 L398.6 389.6 L398.9 389.1 L399.2 387.4 L399.6 385.3 L399.9 384.5 L400 384.1 L400.3 383.4 L400.6 382.3 L401 379.7 L401.4 379.1 L401.7 377.7 L402.1 376.5 L402.4 374.5 L402.8 372.9 L403.1 371.7 L403.4 371.3 L403.8 370.2 L403.8 368.9 L404.1 366.4 L404.5 365.5 L404.9 364.6 L405.2 362.4 L405.6 361.6 L405.9 359.6 L406.2 355.6 L406.6 351.4 L406.9 349.8 L407.3 349.5 L407.5 349.1 L407.6 349.2 L408 346.6 L408.4 346.3 L408.7 344.3 L409.1 341 L409.4 337.8 L409.8 335 L410.1 334.4 L410.4 333.4 L410.8 332.2 L411.1 330.1 L411.5 327.6 L411.9 323.9 L412.2 319.6 L412.6 317.4 L412.9 317.6 L413.2 317 L413.6 316.3 L413.9 316.5 L414.3 316.5 L414.6 317.4 L415 316.6 L415.4 316.4 L415.7 318.6 L416.1 321.7 L416.4 322.9 L416.8 324.2 L417.1 326.3 L417.4 326.7 L417.8 323.1 L418.1 325.2 L418.5 330.7 L418.9 334.8 L419.2 336.8 L419.6 337.2 L419.9 339.2 L420.2 341.2 L420.6 344.4 L420.9 346.5 L421.3 348 L421.6 350.6 L422 353.8 L422.4 356.6 L422.7 358.6 L423.1 359.3 L423.4 362.7 L423.8 366.5 L424.1 369.7 L424.4 372.9 L424.8 376.6 L425.1 380.1 L425.5 379.2 L425.9 380.3 L426.2 385.8 L426.6 391.3 L426.9 393.2 L427.2 395.5 L427.6 397.2 L427.9 399.8 L428.3 402.2 L428.6 404 L429 405.2 L429.4 407.9 L429.7 410.1 L430.1 411.8 L430.4 413.7 L430.8 414.9 L431.1 417.1 L431.4 418 L431.8 418.4 L432.1 418.5 L432.5 419.1 L432.9 420.9 L433.2 422.3 L433.6 423 L433.9 423.9 L434.2 425.1 L434.6 425.6 L434.9 425.1 L435.3 424.5 L435.6 425.7 L436 426.5 L436.4 426.7 L436.7 427.1 L437.1 427 L437.4 426.9 L437.8 427.8 L438.1 428.4 L438.4 428.4 L438.8 428.3 L439.1 428.3 L439.5 428.4 L439.9 429.1 L440.2 429.4 L440.6 429.6 L440.9 429.6 L441.2 429.2 L441.6 428.9 L441.9 429.2 L442.3 429.9 L442.6 429.9 L443 429.2 L443.4 429.2 L443.7 429.8 L444.1 430.4 L444.4 430.5 L444.8 430.6 L445.1 430.6 L445.4 430.7 L445.8 430.5 L446.1 430.2 L446.5 430.5 L446.9 430.9 L447.2 431.1 L447.2 433.3 L387 433.3 Z" fill="#c0c0c0"/>
<path d="M386.9 432.3 L387 410.9 L387.2 411.4 L387.7 411.9 L388.1 411.7 L388.5 411.5 L388.9 410.7 L389.2 411.2 L389.7 410.9 L390 410.4 L390.1 410.3 L390.5 409.8 L390.9 409.4 L391.2 408.1 L391.7 408.4 L392.1 407.1 L392.5 406 L392.9 405.3 L393.2 404.8 L393.7 403.7 L393.8 403.7 L394.1 402.6 L394.5 403 L394.9 403.2 L395.2 401.7 L395.7 401.2 L396.1 401 L396.5 398.7 L396.9 398.5 L397.2 396.9 L397.5 397 L397.7 397.2 L398.1 398.9 L398.5 397.9 L398.9 396.1 L399.2 396.8 L399.7 397.9 L400 398.8 L400.1 398.4 L400.5 396.1 L400.9 394.1 L401.2 392 L401.7 391.2 L402.1 389.4 L402.5 386.6 L402.9 384.5 L403.2 383.9 L403.7 384 L404.1 383.7 L404.5 382.6 L404.9 380.8 L405.2 380.2 L405.7 379.4 L406.1 377.7 L406.5 375.9 L406.9 373.6 L407.2 371.5 L407.7 369.5 L408.1 369.4 L408.5 366.7 L408.9 365.5 L409.2 361.3 L409.7 360.1 L410.1 357.9 L410.5 354.8 L410.9 352.5 L411.2 351 L411.7 347.8 L412.1 344.8 L412.5 342.6 L412.9 343.3 L413.2 342.3 L413.7 339.3 L414.1 335.2 L414.5 333.1 L414.9 332 L415.2 331.1 L415.7 331.4 L416.1 327.3 L416.5 325.4 L416.9 323.8 L417.2 322 L417.7 318.9 L418.1 318.4 L418.5 316.9 L418.9 318.3 L419.2 316.9 L419.7 316.2 L420.1 314 L420.5 312.5 L420.9 310.3 L421.2 314.2 L421.7 319.4 L422.1 324.5 L422.5 325 L422.9 325.8 L423.2 330.7 L423.7 333 L424.1 339.8 L424.5 345.1 L424.9 347.3 L425.2 348.9 L425.7 354.7 L426.1 361 L426.5 363.9 L426.9 367.8 L427.2 370.6 L427.7 373.1 L428.1 378.2 L428.5 380.8 L428.9 383.8 L429.2 386.3 L429.7 389.5 L430.1 394.4 L430.5 395.5 L430.9 398 L431.2 400.6 L431.7 403.7 L432.1 406.2 L432.5 408.5 L432.9 410.2 L433.2 412.7 L433.7 415.4 L434.1 417.7 L434.5 420.2 L434.9 420.4 L435.2 421.4 L435.7 422.2 L436.1 422.8 L436.5 423.4 L436.9 425 L437.2 425.4 L437.7 425.9 L438.1 426.2 L438.5 425.9 L438.9 425.9 L439.2 426.1 L439.7 426.5 L440.1 426.7 L440.5 426.7 L440.9 427 L441.2 427.6 L441.7 427.8 L442.1 427.5 L442.5 427.9 L442.9 428.4 L443.2 428 L443.7 428.2 L444.1 428.5 L444.5 428.6 L444.9 428.7 L445.2 428.8 L445.7 428.6 L446.1 428.7 L446.5 428.6 L446.9 428.7 L447.2 428.8 L447.7 428.9 L448.1 429.2 L448.5 429.2 L448.9 429.4 L449.2 429.4 L449.7 429.5 L450.1 429.5 L450.5 429.5 L450.9 429.3 L451.2 429.3 L451.7 429.2 L452.1 429.5 L452.5 429.6 L452.9 429.9 L453.2 429.8 L453.7 430 L454.1 429.9 L454.5 429.9 L454.9 430.1 L455.2 430.2 L455.7 430.2 L456.1 430.2 L456.5 430.2 L456.9 430.3 L457.2 430.3 L457.7 430.3 L458.1 430.2 L458.5 430.4 L458.9 430.5 L459.2 430.5 L459.7 430.5 L460.1 430.4 L460.5 430.4 L460.9 430.4 L461.2 430.5 L461.7 430.6 L462.1 430.7 L462.5 430.6 L462.9 430.7 L463.2 430.8 L463.7 430.9 L464.1 430.8 L464.5 430.7 L464.9 430.7 L465.2 430.9 L465.7 430.9 L466.1 430.9 L466.5 431 L466.9 431.1 L467.2 431 L467.7 430.9 L468.1 431 L468.5 431.1 L468.9 431.1 L469.2 431.1 L469.7 431.1 L470.1 431 L470.5 431 L470.9 431.1 L471.2 431.1 L471.7 431.1 L472.1 431.1 L472.5 431 L472.9 431 L473.2 430.9 L473.7 431 L474.1 430.8 L474.5 430.9 L474.9 430.9 L475.2 431 L475.7 431 L476.1 431 L476.5 430.9 L476.9 431 L477.2 431 L477.7 431 L478.1 430.9 L478.5 430.9 L478.9 430.9 L479.2 431 L479.7 431.1 L480.1 431.1 L480.5 431.1 L480.9 431.1 L481.2 431.1 L481.7 431 L482.1 431 L482.5 431 L482.9 431 L483.2 431.1 L483.7 431.1 L484.1 431.2 L484.5 431.1 L484.9 431 L485.2 431 L485.7 431 L486.1 430.9 L486.5 431 L486.9 431.1 L487.2 431 L487.7 430.8 L488.1 430.9 L488.5 430.9 L488.9 430.9 L489.2 431 L489.7 431 L490.1 430.9 L490.5 431 L490.9 431 L491.2 431.1 L491.7 431 L492.1 431 L492.5 430.9 L492.9 431 L493.2 431.1 L493.7 431.2 L494.1 431.2 L494.5 431.1 L494.9 431 L495.2 431.1 L495.7 431.1 L496.1 431.1 L496.5 431.1 L496.9 431 L497.2 431.1 L497.7 431 L498.1 431.1 L498.5 431.1 L498.9 431.1 L499.2 431.1 L499.7 431 L500.1 431 L500.5 430.8 L500.9 430.9 L501.2 431 L501.7 431 L502.1 431 L502.5 431 L502.9 431 L503.2 431 L503.7 430.9 L504.1 430.9 L504.5 430.9 L504.9 431 L505.2 430.9 L505.7 431 L506.1 431 L506.5 431 L506.9 430.9 L507.2 431 L507.7 431.1 L508.1 431 L508.5 430.9 L508.9 431 L509.2 431.1 L509.7 431 L510.1 430.9 L510.5 431 L510.9 431 L511.2 431.1 L511.7 431 L512.1 430.9 L512.5 431 L512.9 431" fill="none" stroke="#000" stroke-width="2.8" stroke-linejoin="miter" stroke-miterlimit="6"/>
</g>
<g clip-path="url(#cDBM)">
<path d="M96 567.7 L96.3 567.4 L96.7 567.1 L97 567 L97.4 566.2 L97.8 565 L98.1 565 L98.5 565.1 L98.8 565 L99.2 564.3 L99.5 563.2 L99.8 563.1 L100.2 563.6 L100.2 563.5 L100.5 563.3 L100.9 562.9 L101.2 562.2 L101.6 561.8 L102 560.7 L102.3 559.8 L102.7 560 L103 560 L103.3 559.4 L103.7 558.3 L104 558 L104.4 557.8 L104.8 556.1 L105.1 554.6 L105.5 554.8 L105.8 555.1 L106.2 554.2 L106.5 553.9 L106.8 553.4 L107.2 552.8 L107.5 552 L107.9 550.9 L108.2 550.9 L108.6 550 L109 548.7 L109.3 548.5 L109.7 548.2 L110 547.9 L110.3 546.6 L110.7 544.2 L111 541.8 L111.4 541.2 L111.8 543.2 L112.1 543.2 L112.5 542.1 L112.8 541.9 L112.8 541.6 L113.2 537.4 L113.5 534.9 L113.8 534.8 L114.2 535.7 L114.5 535.1 L114.9 534.2 L115.2 532.9 L115.6 532 L116 530 L116.3 527.9 L116.7 526 L117 524.3 L117.3 523.5 L117.7 522.1 L117.8 522.4 L118 519.1 L118.4 516.4 L118.8 513.8 L119.1 512.4 L119.5 512 L119.8 509.4 L120.2 507.7 L120.5 505.3 L120.8 503.4 L121.2 501.5 L121.5 499.8 L121.5 499.3 L121.9 498.2 L122.2 495.6 L122.6 491.6 L123 488.8 L123.3 488.9 L123.7 489.1 L124 486 L124.3 482 L124.7 481.1 L125 481.3 L125.4 479.7 L125.8 478.7 L126.1 474 L126.5 471 L126.8 470.4 L127.2 473.5 L127.5 471.2 L127.8 469.9 L128.2 467.2 L128.6 465.2 L128.9 466.9 L129.2 467 L129.6 467.7 L129.9 466.7 L130.3 464.1 L130.7 464.3 L131 464 L131.3 461.9 L131.7 462.8 L132.1 465.1 L132.4 466.9 L132.8 469.3 L133.1 469 L133.4 470 L133.8 473.4 L134.2 476.4 L134.5 478 L134.8 475.8 L135.2 473.2 L135.6 473.2 L135.9 477.2 L136.2 480 L136.6 480.8 L136.9 481.4 L137.3 481.1 L137.7 481.3 L138 484.1 L138.3 485.8 L138.7 487.1 L139.1 485.8 L139.4 486.2 L139.8 489 L140.1 490.1 L140.4 490.6 L140.8 490.7 L141.2 491.4 L141.5 492.6 L141.8 491.8 L142.2 488.8 L142.6 489.6 L142.9 492.3 L143.2 494 L143.6 495.6 L143.9 495.5 L144.3 495.9 L144.7 496.9 L145 495.5 L145.3 491.2 L145.7 494.6 L146.1 497.6 L146.4 499.5 L146.8 500.3 L147.1 500.5 L147.4 500.9 L147.8 503.1 L148.2 504.2 L148.5 502.5 L148.8 500.7 L149.2 503.2 L149.6 506.2 L149.9 508.2 L150.2 509.2 L150.6 510.6 L150.9 509.9 L151.3 510.1 L151.7 512.4 L152 515.3 L152.3 517.1 L152.7 517.3 L153.1 517.9 L153.4 519.6 L153.8 520.9 L154.1 520.4 L154.4 522.1 L154.8 524.1 L155.2 525.8 L155.5 526.5 L155.8 528 L156.2 529.2 L156.6 528.9 L156.9 528.1 L157.2 529.6 L157.6 531.5 L157.9 531.3 L158.3 530 L158.7 530.2 L159 532.9 L159.3 535.2 L159.7 534.9 L160.1 533.4 L160.4 532.9 L160.8 535.9 L161.1 537.7 L161.4 539 L161.8 540.1 L162.1 541.1 L162.5 541.7 L162.8 541.7 L163.2 540.9 L163.6 542.5 L163.9 544.1 L164.2 544.6 L164.6 545.2 L164.9 545 L165.3 544.3 L165.6 543.8 L166 544.1 L166.3 544.7 L166.7 543.9 L167.1 542.8 L167.4 543.3 L167.8 545.6 L168.1 546.7 L168.4 546.2 L168.8 545.9 L169.1 544.7 L169.5 545.5 L169.8 547.4 L170.2 548.7 L170.6 548.8 L170.9 548.3 L171.2 548.5 L171.6 548.6 L171.9 550.2 L172.3 550.7 L172.6 550.2 L173 548.9 L173.3 549.4 L173.7 550.4 L174.1 551.5 L174.4 552.3 L174.8 552 L175.1 552.2 L175.4 552.2 L175.8 553.1 L176.1 554 L176.5 554.7 L176.8 554.7 L177.2 554.9 L177.6 555.2 L177.9 555.3 L178.2 555.5 L178.6 555.8 L178.9 556.7 L179.3 557 L179.6 557.5 L180 558 L180.3 557.7 L180.7 557.8 L181.1 558.2 L181.4 558.5 L181.8 558.7 L182.1 559.2 L182.4 558.7 L182.8 558.2 L183.1 558.5 L183.5 559.4 L183.8 560 L184.2 559.1 L184.6 558.9 L184.9 560.5 L185.2 561.7 L185.6 561.7 L185.9 561.7 L186.3 562.2 L186.6 562.2 L187 561.7 L187.3 561.2 L187.7 562.4 L188.1 563.4 L188.4 563.4 L188.8 563.4 L189.1 563.1 L189.4 562.8 L189.8 563.5 L190.1 563.8 L190.5 563.9 L190.8 563.8 L191.2 563.8 L191.6 564.4 L191.9 564.8 L192.2 565 L192.6 565.4 L192.9 565.6 L193.3 565.7 L193.6 565.5 L194 565.3 L194.3 565.4 L194.7 565.7 L195.1 566.3 L195.4 566.2 L195.8 566 L196.1 566.1 L196.4 566.1 L196.8 566.3 L197.1 565.7 L197.5 565.1 L197.8 565.9 L198.2 566.5 L198.6 566.5 L198.9 566.6 L199.2 566.8 L199.6 567 L199.9 567 L200.3 566.8 L200.6 566.5 L201 566.6 L201.3 567 L201.7 567.3 L202.1 567.3 L202.4 567 L202.8 566.4 L203.1 566.5 L203.4 567.2 L203.8 567.4 L204.1 567.5 L204.5 567.3 L204.8 567.1 L205.2 567.2 L205.6 567.6 L205.9 567.4 L206.2 567 L206.6 567.1 L206.9 567.6 L207.3 567.7 L207.6 567.6 L208 567.7 L208.3 567.5 L208.7 567.3 L209.1 567.2 L209.4 567.5 L209.8 567.7 L210.1 567.7 L210.4 567.4 L210.8 567 L211.1 567.4 L211.5 567.8 L211.8 567.8 L212.2 567.3 L212.6 566.8 L212.9 567.4 L213.2 567.9 L213.6 568.1 L213.9 568 L214.3 568 L214.6 568 L215 568 L215.3 567.6 L215.7 567.5 L216.1 567.7 L216.4 568.1 L216.8 567.9 L217.1 567.6 L217.4 567.4 L217.8 567.8 L218.1 568.1 L218.5 568.1 L218.8 568.2 L219.2 568 L219.6 568 L219.9 568.1 L220.2 568.1 L220.6 568.2 L220.9 568.3 L221.3 568.2 L221.6 568.2 L222 568.2 L222 571 L96 571 Z" fill="#c0c0c0"/>
<path d="M96 560.8 L96.5 560.2 L97.1 559.6 L97.6 559 L98.1 558.4 L98.7 558 L99.2 557.5 L99.7 556.6 L100.2 555.9 L100.7 555.1 L101.2 554.4 L101.6 553.7 L102.1 553.1 L102.5 552.2 L103 551.7 L103.4 550.9 L103.9 550.3 L104.3 549.5 L104.8 548.7 L105.2 548.1 L105.5 547.2 L105.8 546.7 L106.1 546.1 L106.4 545.6 L106.7 545 L107 544.6 L107.3 543.9 L107.6 543.1 L107.9 542.6 L108.2 541.7 L108.5 541.2 L108.8 540.4 L109.1 539.7 L109.4 538.9 L109.7 538.2 L110 537.3 L110.2 536.5 L110.4 535.7 L110.6 534.9 L110.8 533.9 L111 533.1 L111.2 532.4 L111.4 531.6 L111.6 530.8 L111.8 529.8 L112 528.9 L112.2 528.1 L112.4 527.5 L112.6 526.7 L112.8 526.1 L113 525.3 L113.2 524.4 L113.4 523.7 L113.6 522.9 L113.8 522.3 L114 521.4 L114.1 520.6 L114.3 519.7 L114.4 519 L114.5 518.4 L114.7 517.3 L114.8 516.7 L115 515.9 L115.1 515.1 L115.2 514.2 L115.4 513.3 L115.5 512.6 L115.6 511.7 L115.8 511 L115.9 510 L116 509.1 L116.2 508.5 L116.3 507.6 L116.5 506.6 L116.6 505.9 L116.7 504.8 L116.9 504 L117 503.6 L117.1 502.6 L117.2 501.9 L117.3 500.9 L117.4 500.2 L117.5 499.3 L117.6 498.8 L117.7 497.9 L117.8 497 L117.9 496.2 L118 495.4 L118.1 494.6 L118.2 494 L118.3 493 L118.4 492.2 L118.5 491.4 L118.6 490.6 L118.7 490 L118.8 488.9 L118.9 488 L119 487.4 L119.1 486.4 L119.2 485.5 L119.3 484.6 L119.4 483.6 L119.5 482.7 L119.6 482 L119.7 481.2 L119.8 480.1 L119.9 479.4 L120 478.4 L120.1 477.8 L120.2 476.9 L120.3 476.3 L120.4 475.6 L120.5 474.6 L120.6 473.8 L120.7 472.9 L120.8 472.1 L120.9 471.6 L121 470.9 L121.1 469.8 L121.2 469.4 L121.3 468.6 L121.4 467.5 L121.5 466.8 L121.6 466.1 L121.7 465.1 L121.8 464.4 L121.9 463.8 L122 462.9 L122.1 462.1 L122.2 461.4 L122.4 460.4 L122.5 459.8 L122.6 459 L122.8 458.1 L122.9 457.6 L123 456.9 L123.1 456 L123.2 455.3 L123.4 454.6 L123.5 453.7 L123.6 453.2 L123.8 452 L123.9 451.1 L124 450.6 L124.9 450.7 L125.8 451 L125.9 451.9 L126 452.7 L126.1 453.4 L126.2 454.6 L126.3 455.5 L126.4 455.9 L126.6 456.7 L126.7 457.4 L126.8 457.9 L126.9 458.9 L127 459.5 L127.1 460.4 L127.2 461.1 L127.3 461.8 L127.4 462.2 L127.5 462.9 L127.5 464 L127.6 464.4 L127.7 465.4 L127.7 465.9 L127.8 467 L127.9 467.4 L128 468.1 L128 469.3 L128.1 469.9 L128.2 470.7 L128.2 471.8 L128.3 472.5 L128.4 473 L128.4 474 L128.5 474.7 L128.6 475.5 L128.7 476.3 L128.7 477 L128.8 477.9 L128.9 478.6 L128.9 479.4 L129 480.5 L129.1 481.1 L129.1 482 L129.2 482.9 L129.3 483.7 L129.3 484.2 L129.4 485.4 L129.5 486.2 L129.5 487 L129.6 487.6 L129.6 488.6 L129.7 489.4 L129.8 490 L129.8 491 L129.9 492.1 L130 492.9 L130 493.9 L130.1 494.7 L130.2 495.6 L130.2 496.5 L130.3 497.1 L130.4 498.2 L130.4 498.7 L130.5 499.9 L130.5 500.4 L130.6 501.5 L130.7 502.3 L130.7 503 L130.8 504.1 L130.9 505 L130.9 505.6 L131 506.5 L131.1 507.6 L131.1 508.3 L131.2 509 L131.2 509.9 L131.3 511 L131.3 511.5 L131.4 512.3 L131.5 513.1 L131.5 514.1 L131.6 514.9 L131.6 515.5 L131.7 516.4 L131.7 517 L131.8 517.8 L131.8 518.7 L131.9 519.6 L132 520.2 L132 520.9 L132.1 522 L132.1 522.6 L132.2 523.3 L132.2 524.2 L132.3 524.9 L132.4 525.8 L132.4 526.7 L132.5 527.5 L132.5 528.2 L132.6 529.1 L132.6 529.8 L132.7 530.7 L132.8 531.3 L132.8 532.3 L132.9 532.9 L133 534 L133.1 534.6 L133.1 535.5 L133.2 536.2 L133.3 537 L133.4 537.8 L133.5 538.7 L133.5 539.5 L133.6 540.4 L133.7 541.2 L133.8 541.8 L133.9 542.7 L133.9 543.4 L134 544.2 L134.1 545.1 L134.2 546 L134.3 546.5 L134.3 547.5 L134.4 548.2 L134.5 549 L134.7 549.7 L134.9 550.6 L135 551.3 L135.2 552.1 L135.4 552.9 L135.6 553.6 L135.8 554.4 L135.9 555.3 L136.1 555.9 L136.3 556.7 L136.5 557.5 L136.6 558.1 L136.8 559 L137 559.6 L137.5 560.3 L138 560.9 L138.5 561.7 L139 562.4 L139.5 563.1 L140 563.9 L140.5 564.6 L141 565.3 L141.5 565.9 L142.3 566.2 L143.1 566.3 L143.8 566.5 L144.6 566.8 L145.4 567.1 L146.2 567.5 L147 567.7 L147.8 568 L148.5 568.1 L149.2 568.2 L150 568.5 L150.8 568.8 L151.5 569" fill="none" stroke="#000" stroke-width="3.0999999999999996" stroke-dasharray="4.2 0.5" stroke-linejoin="round"/>
<path d="M95.8 570 L96 546.1 L96.2 548.8 L96.6 550.8 L97 556.3 L97.4 559.4 L97.5 560.1 L97.8 558.6 L98.2 556.1 L98.6 557.5 L99 557.2 L99.4 556.5 L99.8 557.2 L100.2 557.2 L100.6 556.7 L101 555.2 L101.4 555.1 L101.8 554.4 L102.2 555 L102.6 552.7 L103 551 L103.4 551.4 L103.8 549.9 L104 551.5 L104.2 550.4 L104.6 552 L105 550.7 L105.4 549.3 L105.8 547.8 L106.2 545.4 L106.6 546 L107 545.3 L107.4 544.4 L107.8 543.7 L107.8 543.5 L108.2 542 L108.6 541.8 L109 541 L109.4 541.8 L109.8 540.6 L110.2 537.7 L110.6 540.4 L111 541.3 L111.4 537.8 L111.8 534.2 L112.2 537.5 L112.6 538.4 L113 537.2 L113.4 534.5 L113.8 533.2 L114.2 528.9 L114.6 526.5 L115 528.5 L115.4 528.4 L115.8 527.2 L116.2 527.3 L116.6 524.3 L117 520.9 L117.4 515.4 L117.8 515.7 L118.2 517.5 L118.6 512.3 L119 510.2 L119.4 506.5 L119.8 504.9 L120.2 502.8 L120.6 504.6 L121 500.3 L121.4 498.4 L121.8 495.7 L122.2 492.7 L122.6 490.3 L123 491.4 L123.4 490.2 L123.8 485.3 L124.2 483.5 L124.6 476.4 L125 476 L125.4 472.7 L125.8 473.4 L126.2 470.2 L126.6 467 L127 464.5 L127.4 462.1 L127.8 455.9 L128.2 454.9 L128.7 454.4 L129.1 458 L129.4 458.5 L129.8 453.4 L130.2 448.5 L130.7 446.2 L131.1 448 L131.4 446.4 L131.8 449 L132.2 453.6 L132.7 456 L133.1 460.3 L133.4 459.1 L133.8 457.7 L134.2 456.5 L134.7 459.6 L135.1 466.9 L135.4 466 L135.8 465 L136.2 468.5 L136.7 474.1 L137.1 477.2 L137.4 477.8 L137.8 481.7 L138.2 483.9 L138.7 487.9 L139.1 491.6 L139.4 491.2 L139.8 491.5 L140.2 488.3 L140.7 487 L141.1 489 L141.4 490.4 L141.8 489.9 L142.2 487.8 L142.7 485.5 L143.1 480.2 L143.4 476.5 L143.8 478.1 L144.2 473.6 L144.7 468.4 L145.1 473.8 L145.4 475.7 L145.8 471.9 L146.2 468.3 L146.7 470.5 L147.1 471.9 L147.4 469.1 L147.8 469.9 L148.2 469.6 L148.7 469 L149.1 463.3 L149.4 461 L149.8 467.4 L150.2 468.1 L150.7 470.7 L151.1 475 L151.4 474.8 L151.8 475 L152.2 478.1 L152.7 481.7 L153.1 484.3 L153.4 485.2 L153.8 484.9 L154.2 488.9 L154.7 488.7 L155.1 486.3 L155.4 489.8 L155.8 491.1 L156.2 488.4 L156.7 486 L157.1 487.3 L157.4 488.9 L157.8 483.5 L158.2 485.2 L158.7 489.1 L159.1 490.9 L159.4 493.7 L159.8 499.4 L160.2 498.6 L160.6 499.3 L161.1 499.1 L161.4 502.2 L161.8 504.8 L162.2 508.7 L162.6 508 L163.1 507.8 L163.4 507.9 L163.8 509.5 L164.2 507.5 L164.6 507.2 L165.1 511.9 L165.4 516.6 L165.8 517 L166.2 518.8 L166.6 515.7 L167.1 514.7 L167.4 512.9 L167.8 513.5 L168.2 514.6 L168.6 518.9 L169.1 522.5 L169.4 527.4 L169.8 529.6 L170.2 531.1 L170.6 533.1 L171.1 533.2 L171.4 533.4 L171.8 534.9 L172.2 533.6 L172.7 532.9 L173.1 535.5 L173.4 537 L173.8 539.5 L174.2 543.4 L174.7 540.8 L175.1 539.5 L175.4 540.1 L175.8 540.9 L176.2 542.5 L176.7 542.5 L177.1 542.9 L177.4 543.2 L177.8 543 L178.2 545 L178.7 547.5 L179.1 549.1 L179.4 548.5 L179.8 548.5 L180.2 550.2 L180.7 552.3 L181.1 553.7 L181.4 552.2 L181.8 552.9 L182.2 553.5 L182.7 554.7 L183.1 555.4 L183.4 557.1 L183.8 558.1 L184.2 557 L184.7 556.8 L185.1 557 L185.4 557.7 L185.8 556.9 L186.2 557.7 L186.7 557.7 L187.1 558.1 L187.4 558 L187.8 559.8 L188.2 558.5 L188.7 559 L189.1 559.1 L189.4 560.1 L189.8 560.7 L190.2 562 L190.7 561.6 L191.1 562 L191.4 561.9 L191.8 561 L192.2 561.9 L192.7 563.3 L193.1 562.8 L193.4 562.5 L193.8 562.9 L194.2 562.9 L194.7 562.9 L195.1 563.5 L195.4 564.1 L195.8 564.8 L196.2 564.5 L196.7 564.1 L197.1 564.1 L197.4 565 L197.8 564.6 L198.2 564.5 L198.7 565.2 L199.1 566.1 L199.4 566 L199.8 565 L200.2 565.8 L200.7 565.7 L201.1 566.3 L201.4 566.2 L201.8 565.9 L202.2 565.8 L202.7 566 L203.1 566.4 L203.4 566.1 L203.8 566.3 L204.2 566.2 L204.7 567.1 L205.1 566.8 L205.4 566.9 L205.8 566.3 L206.2 565.8 L206.7 566.6 L207.1 566.9 L207.4 566.5 L207.8 566 L208.2 566.4 L208.7 566.8 L209.1 566.4 L209.4 566.4 L209.8 566.2 L210.2 566.3 L210.7 566.8 L211.1 566.9 L211.4 567 L211.8 566.8 L212.2 566.6 L212.7 566.7 L213.1 566.2 L213.4 566.1 L213.8 566.4 L214.2 566.8 L214.7 567.2 L215.1 567.5 L215.4 567.4 L215.8 567 L216.2 567.3 L216.7 567.4 L217.1 567.4 L217.4 567.7 L217.8 567.9 L218.2 567.7 L218.7 568 L219.1 568.1 L219.4 567.9 L219.8 567.7 L220.2 567.6 L220.7 567.8 L221.1 567.9 L221.4 567.7 L221.8 567.3" fill="none" stroke="#000" stroke-width="2.8" stroke-linejoin="miter" stroke-miterlimit="6"/>
</g>
<g clip-path="url(#cDPB)">
<path d="M242.8 568.2 L243.1 567.1 L243.4 566.5 L243.8 566.4 L244.2 565.6 L244.5 565 L244.8 564.3 L245.2 563.7 L245.6 562.9 L245.9 562.3 L246.2 560.8 L246.5 560.1 L246.6 560 L246.9 560.3 L247.3 560.4 L247.7 559.7 L248 559.4 L248.3 559.3 L248.7 558.8 L249.1 558.2 L249.4 556.9 L249.8 556.5 L250.1 556.3 L250.4 555.3 L250.8 554.5 L251.2 554.4 L251.5 553.4 L251.8 551.6 L252.2 550.5 L252.6 551.4 L252.9 550.9 L253.2 550.8 L253.6 550.2 L253.9 548.7 L254.3 546.3 L254.7 545.2 L255 546.2 L255.3 546.5 L255.7 546.2 L256.1 545.8 L256.4 544.5 L256.5 544.4 L256.8 543.1 L257.1 540.8 L257.4 538.4 L257.8 537 L258.1 537.3 L258.5 535.9 L258.9 534.9 L259.2 533 L259.6 531.9 L259.9 528.7 L260.2 525.4 L260.6 524.9 L260.9 524.8 L261.3 524 L261.6 522.3 L262 520.2 L262.4 517.8 L262.7 515.5 L263.1 514.6 L263.4 515.4 L263.8 513.2 L264 511.6 L264.1 511.5 L264.4 509.5 L264.8 506.5 L265.1 503.2 L265.5 498.6 L265.9 496.6 L266.2 499.1 L266.6 500.3 L266.9 497.4 L267.2 495.8 L267.6 493.2 L267.9 491.3 L268.3 490.2 L268.6 487.7 L269 483.1 L269.4 481.8 L269.7 481 L270.1 479.7 L270.4 478.1 L270.8 475.5 L271.1 473.1 L271.4 470.4 L271.8 466 L272.1 467.4 L272.5 467.1 L272.9 466.7 L273.2 464 L273.6 462.5 L273.9 461.1 L274.2 461.6 L274.6 461.2 L274.9 461.8 L275.3 465 L275.6 466.8 L276 467.8 L276.4 468.1 L276.7 469.2 L277.1 470.1 L277.4 472 L277.8 476 L278.1 480.1 L278.4 482.8 L278.8 485.4 L279.1 487.3 L279.5 488.1 L279.9 486.1 L280.2 483.9 L280.6 487.8 L280.9 490.2 L281.2 489.3 L281.6 487.9 L281.9 487.1 L282.3 487 L282.6 486.6 L283 482.7 L283.4 479.2 L283.7 479.8 L284.1 479.8 L284.4 480.4 L284.8 480.4 L285.1 482.2 L285.4 481.6 L285.8 482 L286.1 481 L286.5 483.2 L286.9 483.5 L287.2 481.6 L287.6 477.8 L287.9 475.9 L288.2 478.8 L288.6 481.1 L288.9 481.6 L289.3 483.3 L289.6 484.6 L290 484.2 L290.4 484.2 L290.7 485.1 L291.1 488.4 L291.4 490.5 L291.8 490.5 L292.1 490.8 L292.4 490.8 L292.8 493.8 L293.1 496.8 L293.5 498.9 L293.9 498.2 L294.2 496.2 L294.6 500.1 L294.9 504.8 L295.2 507.3 L295.6 509.3 L295.9 507.7 L296.3 507 L296.6 507.4 L297 511 L297.4 513.4 L297.7 513.7 L298.1 515.6 L298.4 516.1 L298.8 516.8 L299.1 518.9 L299.4 520.2 L299.8 522.1 L300.1 523.1 L300.5 523.6 L300.9 522.6 L301.2 525.7 L301.6 528.5 L301.9 530.3 L302.2 531.5 L302.6 533.1 L302.9 533.9 L303.3 533.9 L303.6 531.7 L304 528.4 L304.4 530.3 L304.7 531.1 L305.1 531.3 L305.4 531.7 L305.8 532.9 L306.1 535.3 L306.4 537.1 L306.8 539 L307.1 539.2 L307.5 540.4 L307.9 542 L308.2 542.3 L308.6 542.6 L308.9 542.3 L309.2 540.5 L309.6 540.4 L309.9 541.9 L310.3 543.7 L310.6 543.5 L311 544 L311.4 543.9 L311.7 544.8 L312.1 544.8 L312.4 543.6 L312.8 543.2 L313.1 544.3 L313.4 546.6 L313.8 546.9 L314.1 546 L314.5 546.3 L314.9 547.3 L315.2 549.2 L315.6 548.6 L315.9 548.6 L316.2 548.7 L316.6 549.4 L316.9 550.6 L317.3 550.5 L317.6 550.7 L318 550.7 L318.4 550.2 L318.7 550 L319.1 550.9 L319.4 552 L319.8 552.2 L320.1 551.9 L320.4 552.1 L320.8 552.7 L321.1 553.6 L321.5 554.1 L321.9 554.5 L322.2 554.5 L322.6 554.6 L322.9 554.8 L323.2 554.2 L323.6 553.5 L323.9 555.1 L324.3 556.1 L324.6 556.5 L325 556.9 L325.4 556.6 L325.7 556.2 L326.1 556.2 L326.4 556.3 L326.8 556.6 L327.1 556.9 L327.4 557 L327.8 556 L328.1 555.5 L328.5 556.8 L328.9 558.2 L329.2 557.5 L329.6 556.7 L329.9 557.3 L330.2 558 L330.6 558.6 L330.9 558.4 L331.3 558.9 L331.6 558.9 L332 558.9 L332.4 559.1 L332.7 558.2 L333.1 558.1 L333.4 559.7 L333.8 560.6 L334.1 560.6 L334.4 560.7 L334.8 560.9 L335.1 561.2 L335.5 561.5 L335.9 562 L336.2 562.2 L336.6 562.6 L336.9 562.2 L337.2 562 L337.6 562 L337.9 562.4 L338.3 562.7 L338.6 562.9 L339 563.2 L339.4 562.7 L339.7 562.5 L340.1 563.4 L340.4 564.2 L340.8 564 L341.1 564.3 L341.4 564.4 L341.8 564.8 L342.1 564.7 L342.5 564.7 L342.9 565.3 L343.2 565.7 L343.6 565.6 L343.9 565.9 L344.2 565.9 L344.6 565.5 L344.9 564.8 L345.3 564.9 L345.6 566 L346 566.6 L346.4 566.5 L346.7 566.6 L347.1 566.6 L347.4 566.2 L347.8 566.5 L348.1 566.8 L348.4 567 L348.8 567 L349.1 566.9 L349.5 567.1 L349.9 566.6 L350.2 566 L350.6 566.4 L350.9 567.1 L351.2 567.3 L351.6 567.3 L351.9 567.5 L352.3 567.6 L352.6 567.1 L353 566.4 L353.4 566.9 L353.7 567.6 L354.1 567.8 L354.4 567.7 L354.8 567.8 L355.1 567.9 L355.4 567.6 L355.8 567 L356.1 566.8 L356.5 567.3 L356.9 567.7 L357.2 567.8 L357.6 567.5 L357.9 567 L358.2 567.4 L358.6 567.8 L358.9 567.9 L359.3 567.8 L359.6 567.6 L360 567.7 L360.4 567.9 L360.7 567.9 L361.1 568 L361.4 567.5 L361.8 567 L362.1 567.4 L362.4 568 L362.8 568.3 L363.1 568.1 L363.5 567.9 L363.9 567.6 L364.2 567.9 L364.6 568.1 L364.9 568.1 L365.2 568.3 L365.6 568.3 L365.9 568.2 L366.3 568.3 L366.6 568.3 L367 568.3 L367 571 L242.8 571 Z" fill="#c0c0c0"/>
<path d="M240.8 570 L241 504.2 L241.2 511.1 L241.7 526.4 L242 540.1 L242 540.8 L242.4 549.7 L242.8 555.7 L243 559.2 L243.2 558.8 L243.7 558.9 L244 558.9 L244.4 558.7 L244.8 557.8 L245.2 557.1 L245.7 555.9 L246 555.9 L246.4 556.3 L246.8 555 L247.2 553.1 L247.7 552.3 L248 552.3 L248.4 550.1 L248.8 548.6 L249 549.3 L249.2 550.5 L249.7 552.1 L250 550.4 L250.4 549.1 L250.8 548.7 L251.2 547.6 L251.7 546.6 L252 547.1 L252.4 543.9 L252.8 542.2 L253.2 542.9 L253.7 542.8 L254 540.1 L254.4 536.5 L254.8 536.5 L255.2 536.9 L255.7 535.2 L256.1 531.7 L256.4 526.5 L256.9 523.1 L257.2 519.5 L257.6 521.2 L258.1 518.1 L258.4 514.9 L258.9 514.1 L259.2 515.9 L259.6 517.3 L260.1 515.5 L260.4 516.8 L260.9 514.4 L261.2 509.1 L261.6 507.7 L262.1 506.7 L262.4 504.3 L262.9 499.9 L263.2 496.9 L263.6 494.7 L264.1 489.4 L264.4 487.2 L264.9 482.8 L265.2 476.8 L265.6 474.6 L266.1 478.8 L266.4 482 L266.9 480.3 L267.2 471.8 L267.6 466.1 L268.1 455.1 L268.4 457.6 L268.9 452 L269.2 448.8 L269.6 444.9 L270.1 448.2 L270.4 454.8 L270.9 453 L271.2 451.7 L271.6 460.2 L272.1 466 L272.4 472.8 L272.9 473.9 L273.2 471.5 L273.6 470.4 L274.1 467.2 L274.4 462 L274.9 466.3 L275.2 467.7 L275.6 461.8 L276.1 463 L276.4 469.5 L276.9 479.7 L277.2 479.3 L277.6 485.7 L278.1 483.6 L278.4 488.1 L278.9 490.7 L279.2 497.1 L279.6 502.4 L280.1 507.9 L280.4 513.2 L280.9 516.3 L281.2 524.6 L281.6 529.4 L282.1 531 L282.4 534.1 L282.9 535.9 L283.2 530.7 L283.6 532.5 L284.1 532 L284.4 529.3 L284.9 528 L285.2 531.6 L285.6 537.3 L286.1 537.6 L286.4 540.3 L286.9 540.4 L287.2 540.9 L287.6 544.8 L288.1 549.2 L288.4 547.9 L288.9 549.7 L289.2 549.6 L289.6 552.7 L290.1 551 L290.4 551.9 L290.9 551.6 L291.2 551.7 L291.6 551.3 L292.1 549 L292.4 551.2 L292.9 550.9 L293.2 551.8 L293.6 551 L294.1 551.4 L294.4 549.7 L294.9 548.8 L295.2 548 L295.6 549.7 L296.1 549.3 L296.4 550.7 L296.9 550.9 L297.2 550.7 L297.6 550.6 L298.1 549.8 L298.4 551.1 L298.9 550.4 L299.2 548.7 L299.6 548 L300.1 547.5 L300.4 547.6 L300.9 548.8 L301.2 550.4 L301.6 551.9 L302.1 551.9 L302.4 553.7 L302.9 551.8 L303.2 552 L303.6 553.2 L304.1 553.7 L304.4 554.1 L304.9 553.7 L305.2 555.3 L305.6 555.8 L306.1 555.5 L306.4 554.4 L306.9 555.7 L307.2 556.6 L307.6 555 L308.1 555.6 L308.4 556.1 L308.9 556.6 L309.2 556.4 L309.6 557.4 L310.1 558.3 L310.4 558.4 L310.9 558.6 L311.2 559.6 L311.6 560.1 L312.1 560.9 L312.4 561.8 L312.9 562.1 L313.2 562.9 L313.6 564.1 L314.1 563.6 L314.4 563.7 L314.9 563.2 L315.2 562.3 L315.6 563 L316.1 563.6 L316.4 563.6 L316.9 564 L317.2 563.8 L317.6 564.3 L318.1 563.7 L318.4 564.7 L318.9 564.3 L319.2 564.7 L319.6 564.9 L320.1 565.9 L320.4 565.5 L320.9 564.7 L321.2 565.4 L321.6 565.2 L322.1 564.6 L322.4 564.4 L322.9 564.5 L323.2 564.1 L323.6 564.7 L324.1 564 L324.4 563.3 L324.9 563.5 L325.2 563.9 L325.6 564.6 L326.1 564.6 L326.4 564.3 L326.9 564.5 L327.2 564.9 L327.6 565.8 L328.1 566.8 L328.4 567.1 L328.9 566.9 L329.2 566.4 L329.6 566.2 L330.1 566.5 L330.4 567.1 L330.9 567.2 L331.2 567 L331.6 566.5 L332.1 566.6 L332.4 566.7 L332.9 567.1 L333.2 567.4 L333.6 567.5 L334.1 567.5 L334.4 567.3 L334.9 567.7 L335.2 567.8 L335.6 567.3 L336.1 566.9 L336.4 567.5 L336.9 567.6 L337.2 567.6 L337.6 567.6 L338.1 567.4 L338.4 567.1 L338.9 567.5 L339.2 567.6 L339.6 567.8 L340.1 568.1 L340.4 568 L340.9 567.8 L341.2 567.7 L341.6 567.7 L342.1 567.8 L342.4 567.7 L342.9 567.9 L343.2 567.8 L343.6 567.9 L344.1 567.6 L344.4 567.6 L344.9 567.7 L345.2 567.8 L345.6 567.7 L346.1 567.8 L346.4 567.9 L346.9 568 L347.2 567.9 L347.6 567.7 L348.1 567.7 L348.4 568 L348.9 567.7 L349.2 567.7 L349.6 567.7 L350.1 567.4 L350.4 567.5 L350.9 567.6 L351.2 568 L351.6 567.9 L352.1 567.6 L352.4 567.6 L352.9 567.9 L353.2 567.6 L353.6 567.8 L354.1 567.7 L354.4 567.8 L354.9 567.9 L355.2 567.8 L355.6 568.1 L356.1 568.2 L356.4 567.7 L356.9 567.8 L357.2 567.7 L357.6 568 L358.1 567.9 L358.4 567.9 L358.9 568 L359.2 567.8 L359.6 568.2 L360.1 568 L360.4 567.8 L360.9 567.8 L361.2 567.6 L361.6 567.5 L362.1 567.8 L362.4 567.9 L362.9 567.8 L363.2 567.9 L363.6 568.2 L364.1 568.1 L364.4 568.1 L364.9 568.3 L365.2 568.1 L365.6 567.9 L366.1 568.2 L366.4 568 L366.9 567.9" fill="none" stroke="#000" stroke-width="2.8" stroke-linejoin="miter" stroke-miterlimit="6"/>
</g>
<g clip-path="url(#cDSP)">
<path d="M388.8 568.2 L389.1 567.1 L389.4 566 L389.8 566 L390.1 565.8 L390.5 564.8 L390.9 564.3 L391.2 562.7 L391.6 561.4 L391.9 561.7 L392.2 562 L392.5 561.5 L392.6 561.3 L392.9 560.7 L393.3 559.7 L393.6 558.1 L394 556.2 L394.4 557.3 L394.7 557.8 L395.1 557.3 L395.4 556 L395.8 555.1 L396.1 555.7 L396.4 555.6 L396.8 553.8 L397.1 552.1 L397.5 553.3 L397.9 553.8 L398.2 553 L398.6 552 L398.9 550.9 L399.2 550.4 L399.6 549.6 L399.9 547.5 L400.3 546 L400.6 546.5 L401 547 L401.4 546.2 L401.7 546 L402.1 544 L402.4 541 L402.5 540 L402.8 539.7 L403.1 540.8 L403.4 540.3 L403.8 539.8 L404.1 538 L404.5 537 L404.9 535.1 L405.2 534.9 L405.6 533.2 L405.9 530.4 L406.2 527.7 L406.6 526.3 L406.9 528.1 L407.3 527.8 L407.5 526.6 L407.6 526 L408 524.6 L408.4 523 L408.7 521.6 L409.1 518.8 L409.4 514.9 L409.8 513.5 L410.1 513.8 L410.4 512.7 L410.8 510.8 L411.1 510.4 L411.2 510 L411.5 509.1 L411.9 506 L412.2 500.5 L412.6 498.3 L412.9 499.9 L413.2 499.6 L413.6 497.5 L413.9 496.3 L414.3 493.6 L414.6 491.3 L415 489.1 L415.4 488.3 L415.7 487.7 L416.1 486 L416.4 484.3 L416.8 482.7 L417.1 479.8 L417.4 472.9 L417.8 469.7 L418.1 472.2 L418.5 473.7 L418.9 472.3 L419.2 472.8 L419.6 469.9 L419.9 467.2 L420.2 466.2 L420.6 468 L420.9 468.2 L421.3 467.4 L421.6 468.2 L422 469.7 L422.4 470 L422.7 469.9 L423.1 471.4 L423.4 472.7 L423.8 473.3 L424.1 473.5 L424.4 472.4 L424.8 473.5 L425.1 477.8 L425.5 481.1 L425.9 481.4 L426.2 483.2 L426.6 484.6 L426.9 483.8 L427.2 485.1 L427.6 484.3 L427.9 482.7 L428.3 484.3 L428.6 484.8 L429 483.4 L429.4 484.2 L429.7 483 L430.1 482.6 L430.4 479.4 L430.8 476.6 L431.1 478.8 L431.4 480.2 L431.8 478.1 L432.1 476.3 L432.5 477.2 L432.9 477.5 L433.2 479.6 L433.6 482.7 L433.9 481.2 L434.2 479 L434.6 483.7 L434.9 487.4 L435.3 487.5 L435.6 487.2 L436 486.9 L436.4 489.8 L436.7 491.1 L437.1 492.4 L437.4 493.3 L437.8 494.9 L438.1 495.4 L438.4 494.7 L438.8 499.3 L439.1 502.3 L439.5 504.2 L439.9 506 L440.2 507 L440.6 508.8 L440.9 510.8 L441.2 511.9 L441.6 509.9 L441.9 508.4 L442.3 512.8 L442.6 516.6 L443 516.9 L443.4 516.7 L443.7 516.4 L444.1 519.4 L444.4 521.7 L444.8 523.6 L445.1 525.1 L445.4 526.9 L445.8 527.9 L446.1 527.5 L446.5 529.1 L446.9 531.6 L447.2 533.3 L447.6 534.1 L447.9 533.8 L448.2 533.1 L448.6 531.3 L448.9 530.7 L449.3 531.1 L449.6 532.2 L450 531.6 L450.4 530 L450.7 528.6 L451.1 531.9 L451.4 535 L451.8 537.3 L452.1 538.4 L452.4 539.9 L452.8 540.9 L453.1 541.8 L453.5 540.6 L453.9 539.4 L454.2 540.1 L454.6 542.1 L454.9 543 L455.2 542.7 L455.6 542.8 L455.9 542.1 L456.3 540.4 L456.6 538.9 L457 541.5 L457.4 543.8 L457.7 544.3 L458.1 544.3 L458.4 543.5 L458.8 544.4 L459.1 546.3 L459.4 547.8 L459.8 547.7 L460.1 548.1 L460.5 548.5 L460.9 548.8 L461.2 548 L461.6 546.7 L461.9 547.8 L462.2 549 L462.6 549 L462.9 547.9 L463.3 548.7 L463.6 550 L464 550.8 L464.4 551 L464.7 551.5 L465.1 551.6 L465.4 551.7 L465.8 551.7 L466.1 551.5 L466.4 552.1 L466.8 553.4 L467.1 553.3 L467.5 554 L467.9 552.6 L468.2 550.7 L468.6 552.4 L468.9 554.4 L469.2 555.2 L469.6 555.3 L469.9 555.2 L470.3 554.5 L470.6 553.9 L471 555 L471.4 555.8 L471.7 556.6 L472.1 556.7 L472.4 556.4 L472.8 555.5 L473.1 554.1 L473.4 555.5 L473.8 556.9 L474.1 557.4 L474.5 557.6 L474.9 557.4 L475.2 556.7 L475.6 556.4 L475.9 557.7 L476.2 559 L476.6 558.8 L476.9 559.3 L477.3 559.5 L477.6 560.2 L478 559.5 L478.4 559.1 L478.7 559.8 L479.1 560.2 L479.4 560.4 L479.8 560.7 L480.1 560.6 L480.4 560.4 L480.8 560 L481.1 560.4 L481.5 561.1 L481.9 561.6 L482.2 561.1 L482.6 561 L482.9 562 L483.2 562.6 L483.6 562.3 L483.9 562.5 L484.3 563.2 L484.6 563.5 L485 564 L485.4 564.2 L485.7 564.2 L486.1 564.5 L486.4 564.1 L486.8 563.4 L487.1 563.3 L487.4 564.5 L487.8 565.3 L488.1 565.6 L488.5 565.6 L488.9 565.8 L489.2 565.9 L489.6 566.2 L489.9 566 L490.2 566 L490.6 565.7 L490.9 565.5 L491.3 565.9 L491.6 566.2 L492 566.1 L492.4 565.6 L492.7 565.7 L493.1 566.2 L493.4 566.7 L493.8 566.3 L494.1 566 L494.4 566.1 L494.8 566.7 L495.1 567.1 L495.5 567.3 L495.9 566.8 L496.2 566.3 L496.6 567 L496.9 567.5 L497.2 567.5 L497.6 567.1 L497.9 566.9 L498.3 567.3 L498.6 567.6 L499 567.6 L499.4 567.6 L499.7 567.7 L500.1 567.7 L500.4 567.6 L500.8 567.7 L501.1 567.6 L501.4 567.6 L501.8 567.7 L502.1 567.7 L502.5 567.6 L502.9 567.6 L503.2 567.8 L503.6 568 L503.9 568 L504.2 567.9 L504.6 567.9 L504.9 567.8 L505.3 567.7 L505.6 567.1 L506 567.3 L506.4 567.7 L506.7 568 L507.1 567.9 L507.4 567.3 L507.8 567.1 L508.1 567.6 L508.4 568 L508.8 568 L509.1 567.7 L509.5 567.5 L509.9 567.9 L510.2 568.1 L510.6 568.2 L510.9 568.3 L511.2 568.2 L511.6 568.3 L511.9 567.9 L512.3 567.5 L512.6 567.8 L513 568.2 L513 571 L388.8 571 Z" fill="#c0c0c0"/>
<path d="M386.9 570 L387 492.7 L387.2 508.2 L387.7 535.2 L387.8 541.1 L388.1 548 L388.5 555.6 L388.5 556.8 L388.9 556.6 L389.2 557 L389.7 555.9 L390.1 555.6 L390.5 556 L390.9 556.8 L391.2 555.9 L391.7 555.3 L392.1 554.8 L392.5 554.6 L392.9 554.3 L393.2 553.4 L393.7 552.9 L394.1 552.8 L394.5 552.1 L394.9 551 L395 550.7 L395.2 550.4 L395.7 549.4 L396.1 548.5 L396.5 547.8 L396.9 547.2 L397.2 546.9 L397.7 545.7 L398.1 545.2 L398.5 545 L398.9 544.2 L399.2 543.7 L399.7 543.1 L400.1 542.1 L400.5 539.8 L400.9 539.6 L401.2 538.3 L401.7 537.4 L402.1 536.8 L402.5 535.9 L402.9 533.6 L403.2 532.5 L403.7 530.8 L404.1 529.5 L404.5 528.9 L404.9 526.6 L405.2 524.1 L405.7 521.4 L406.1 520.6 L406.5 519.1 L406.9 518.8 L407.2 518.5 L407.7 517.8 L408.1 516.4 L408.5 514.6 L408.9 511.1 L409.2 507 L409.7 505.5 L410.1 504.2 L410.5 501.6 L410.9 498.6 L411.2 494.5 L411.7 490.5 L412.1 489.5 L412.5 485.4 L412.9 483.8 L413.2 481.6 L413.7 478.1 L414.1 473.8 L414.5 471.7 L414.9 471.7 L415.2 467.4 L415.7 463.3 L416.1 459.2 L416.5 458 L416.9 455.6 L417.2 454.9 L417.7 449.9 L418.1 447.6 L418.5 447.6 L418.9 448.5 L419.2 449.1 L419.7 449.5 L420.1 450.2 L420.5 449 L420.9 448.9 L421.2 450.6 L421.7 449.1 L422.1 450.8 L422.5 451.8 L422.9 455.3 L423.2 455.6 L423.7 453 L424.1 455.1 L424.5 458.2 L424.9 459.9 L425.2 463.4 L425.7 468.9 L426.1 473.3 L426.5 474.7 L426.9 477.9 L427.2 480.9 L427.7 482.7 L428.1 486 L428.5 490.6 L428.9 494.7 L429.2 498.7 L429.7 501.3 L430.1 504.4 L430.5 507.3 L430.9 510.7 L431.2 513.3 L431.7 518 L432.1 520.1 L432.5 520.7 L432.9 521.6 L433.2 523.1 L433.7 525.1 L434.1 527.8 L434.5 530.5 L434.9 532.6 L435.2 534.8 L435.7 535.5 L436.1 536.9 L436.5 538.3 L436.9 538.5 L437.2 538.4 L437.7 540.8 L438.1 542.2 L438.5 541.8 L438.9 542 L439.2 543.7 L439.7 545.3 L440.1 546 L440.5 546.4 L440.9 548.1 L441.2 548.7 L441.7 549.6 L442.1 550.6 L442.5 551.6 L442.9 551.4 L443.2 552.4 L443.7 553.3 L444.1 553.6 L444.5 554.3 L444.9 555.1 L445.2 555.5 L445.7 556.1 L446.1 555.8 L446.5 556.7 L446.9 556.6 L447.2 556.9 L447.7 556.8 L448.1 557.3 L448.5 558 L448.9 557.3 L449.2 557.3 L449.7 558 L450.1 558.7 L450.5 558.4 L450.9 559 L451.2 558.9 L451.7 559.5 L452.1 560.4 L452.5 561.3 L452.9 561.4 L453.2 561.9 L453.7 562 L454.1 561.9 L454.5 562.6 L454.9 563.1 L455.2 563.1 L455.7 562.6 L456.1 562.8 L456.5 563.1 L456.9 563.2 L457.2 563.6 L457.7 563.5 L458.1 563.3 L458.5 563.9 L458.9 564.8 L459.2 564.8 L459.7 564.4 L460.1 565 L460.5 564.7 L460.9 565 L461.2 564.5 L461.7 565.2 L462.1 565.2 L462.5 565.6 L462.9 565.8 L463.2 565.9 L463.7 565.9 L464.1 565.5 L464.5 565.3 L464.9 565.7 L465.2 565.8 L465.7 565.6 L466.1 565.7 L466.5 565.9 L466.9 565.9 L467.2 566.2 L467.7 566.7 L468.1 566.4 L468.5 566.4 L468.9 566.6 L469.2 566.8 L469.7 566.9 L470.1 566.9 L470.5 567 L470.9 567 L471.2 567.1 L471.7 566.9 L472.1 566.9 L472.5 567.2 L472.9 567.5 L473.2 567.6 L473.7 567.4 L474.1 567.4 L474.5 567.2 L474.9 567.3 L475.2 567.6 L475.7 567.7 L476.1 567.5 L476.5 567.6 L476.9 567.7 L477.2 567.9 L477.7 567.9 L478.1 567.9 L478.5 567.9 L478.9 567.7 L479.2 567.7 L479.7 567.8 L480.1 567.6 L480.5 567.6 L480.9 567.6 L481.2 567.8 L481.7 567.8 L482.1 567.7 L482.5 567.8 L482.9 568 L483.2 567.9 L483.7 567.9 L484.1 568 L484.5 568.1 L484.9 567.9 L485.2 567.9 L485.7 567.9 L486.1 568 L486.5 567.9 L486.9 567.8 L487.2 567.9 L487.7 567.9 L488.1 567.7 L488.5 567.6 L488.9 567.7 L489.2 567.8 L489.7 567.8 L490.1 568 L490.5 567.9 L490.9 568 L491.2 567.9 L491.7 567.7 L492.1 567.9 L492.5 567.8 L492.9 567.8 L493.2 567.7 L493.7 567.8 L494.1 567.8 L494.5 567.8 L494.9 567.8 L495.2 567.9 L495.7 567.8 L496.1 568 L496.5 568 L496.9 567.9 L497.2 567.8 L497.7 568 L498.1 568.1 L498.5 568 L498.9 567.9 L499.2 568 L499.7 568.1 L500.1 568 L500.5 567.9 L500.9 567.9 L501.2 567.9 L501.7 568.1 L502.1 568.1 L502.5 568 L502.9 567.8 L503.2 567.8 L503.7 567.7 L504.1 567.8 L504.5 568 L504.9 568 L505.2 568.1 L505.7 568 L506.1 568 L506.5 568.1 L506.9 568.1 L507.2 567.9 L507.7 567.8 L508.1 568.1 L508.5 568.1 L508.9 568.2 L509.2 568.1 L509.7 568 L510.1 568.2 L510.5 568.1 L510.9 568 L511.2 568 L511.7 568.2 L512.1 567.9 L512.5 567.8 L512.9 567.8" fill="none" stroke="#000" stroke-width="2.8" stroke-linejoin="miter" stroke-miterlimit="6"/>
</g>
<g clip-path="url(#cEBM)">
<path d="M96 702.6 L96.3 701.8 L96.7 699.9 L97 698.5 L97.4 699 L97.8 699.5 L98.1 698.5 L98.5 697.8 L98.8 696.9 L99.2 696.4 L99.5 695.9 L99.8 694 L100.2 692.9 L100.5 693.3 L100.9 693.6 L101.2 692.7 L101.6 691.9 L102 691.1 L102.3 690.7 L102.7 689.6 L103 687.7 L103.2 686 L103.3 686.3 L103.7 686.2 L104 685.6 L104.4 684.9 L104.8 684.2 L105.1 682.6 L105.5 680 L105.8 678.9 L106.2 679.9 L106.5 679.4 L106.8 678.7 L107.2 675.7 L107.5 673.5 L107.9 673.7 L108.2 673.7 L108.6 672.8 L109 671.8 L109.3 670.3 L109.5 669.6 L109.7 668.7 L110 668 L110.3 667.5 L110.7 666.8 L111 664.8 L111.4 664.5 L111.8 663.3 L112.1 662.7 L112.5 661.3 L112.8 662.1 L113.2 661.1 L113.5 660.1 L113.8 659.9 L114 659 L114.2 658.1 L114.5 655.8 L114.9 653.5 L115.2 652.6 L115.6 652.3 L116 651.5 L116.3 650.8 L116.7 649.2 L117 647.5 L117.3 647.1 L117.7 647.2 L118 647.9 L118.4 647.5 L118.8 647.6 L119.1 647.2 L119.5 645.2 L119.8 644 L120.2 643.2 L120.5 643.7 L120.8 643.5 L121.2 642.8 L121.5 643.2 L121.8 642.4 L121.9 641.6 L122.2 640.8 L122.6 638.4 L123 637.6 L123.3 635.2 L123.7 632.5 L124 629.8 L124.3 629.5 L124.7 627.1 L125 625.6 L125.4 623.4 L125.8 620.8 L126.1 620.1 L126.5 618.6 L126.8 617.8 L127.2 615.5 L127.5 612.9 L127.8 611.8 L128.2 609.1 L128.6 606.8 L128.9 602.1 L129.2 601 L129.6 602.4 L129.9 602.1 L130.3 598.2 L130.7 593.5 L131 592.3 L131.3 596.3 L131.7 595.5 L132.1 594.7 L132.4 592.6 L132.8 592.6 L133.1 597.3 L133.4 602.3 L133.8 604.5 L134.2 607.4 L134.5 609.1 L134.8 609.8 L135.2 613.5 L135.6 616.4 L135.9 620.1 L136.2 624.3 L136.6 627.1 L136.9 631.1 L137.3 631.4 L137.7 633 L138 636.2 L138.3 640.5 L138.7 644.8 L139.1 647 L139.4 649.5 L139.8 651.9 L140.1 655 L140.4 658.8 L140.8 661.5 L141.2 662.6 L141.5 665.5 L141.8 669.2 L142.2 672.1 L142.6 674.2 L142.9 676 L143.2 677.2 L143.6 680.2 L143.9 682.4 L144.3 685 L144.7 687.1 L145 688 L145.3 688.9 L145.7 690.3 L146.1 692.5 L146.4 693.8 L146.8 695.5 L147.1 696.7 L147.4 697.2 L147.8 696.9 L148.2 698.2 L148.5 700 L148.8 700.9 L149.2 701.6 L149.6 702 L149.9 702 L150.2 702 L150.6 701.8 L150.9 702.7 L151.3 703.4 L151.7 703.7 L152 703.9 L152.3 704.3 L152.7 704.7 L153.1 705.1 L153.4 705.1 L153.8 705.5 L154.1 705.8 L154.4 706 L154.8 706.1 L155.2 706 L155.5 706.1 L155.8 706.2 L156.2 706.3 L156.6 706.5 L156.9 706.6 L157.2 706.7 L157.6 706.7 L157.9 706.8 L158.3 706.6 L158.7 706.2 L159 706.3 L159.3 706.8 L159.7 707.2 L160.1 707.2 L160.4 707.3 L160.8 707 L161.1 706.9 L161.4 707.4 L161.4 709.2 L96 709.2 Z" fill="#c0c0c0"/>
<path d="M96 695.4 L96.8 695.2 L97.7 694.7 L98.5 694.9 L99.4 694.9 L100.2 695.1 L100.6 694.4 L101 693.6 L101.3 693.1 L101.7 692.2 L102 691.7 L102.4 690.9 L102.8 690.1 L103.1 689.2 L103.5 688.4 L103.8 687.5 L104.2 686.8 L104.5 686.2 L104.9 685.7 L105.2 685.1 L105.5 684.6 L105.8 683.8 L106.1 683.1 L106.4 682.1 L106.7 681.2 L107 680.6 L107.3 679.7 L107.6 678.7 L107.9 678.1 L108.2 677.3 L108.5 676.4 L108.8 675.7 L109.1 674.9 L109.4 674.2 L109.7 673.5 L110 672.9 L110.2 672.3 L110.4 671.7 L110.6 671 L110.8 670 L111 669.3 L111.2 668.6 L111.4 668 L111.5 667.4 L111.7 666.7 L111.9 665.7 L112.1 665.1 L112.3 664.2 L112.5 663.4 L112.7 662.6 L112.8 661.7 L113 660.9 L113.2 660.1 L113.4 659.3 L113.6 658.6 L113.8 657.9 L113.9 657.3 L114.1 656.4 L114.3 655.6 L114.5 655.2 L114.6 654.3 L114.8 653.5 L114.9 652.9 L115 652.3 L115.2 651.5 L115.3 650.7 L115.4 649.6 L115.5 648.9 L115.7 648.1 L115.8 647.3 L115.9 646.4 L116.1 645.2 L116.2 644.7 L116.3 643.5 L116.5 642.9 L116.6 641.9 L116.7 641.2 L116.8 640.4 L117 639.6 L117.1 638.6 L117.2 638.1 L117.4 637.2 L117.5 636.6 L117.6 635.8 L117.8 635.2 L117.8 634.3 L118 633.8 L118 632.9 L118.2 632.2 L118.2 631.7 L118.3 630.8 L118.5 630.2 L118.5 629.5 L118.7 628.6 L118.8 627.9 L118.8 627.2 L119 626.1 L119 625.3 L119.2 624.9 L119.2 624.1 L119.3 623 L119.5 622.6 L119.5 621.4 L119.7 620.7 L119.8 620.2 L119.8 619 L120 618.6 L120 617.5 L120.2 617 L120.2 615.9 L120.4 615.2 L120.5 614.5 L120.6 613.6 L120.7 613 L120.8 611.8 L120.9 611.3 L121 610.6 L121.1 609.6 L121.2 608.6 L121.3 608.1 L121.4 607.1 L121.5 606.2 L121.6 605.6 L121.7 604.7 L121.8 603.9 L121.9 602.8 L122 601.6 L122.1 600.7 L122.2 600 L122.3 598.8 L122.4 598.2 L122.5 597 L122.7 596.3 L122.9 594.9 L123 594.2 L123.2 593 L123.4 592.7 L123.6 591.7 L123.8 591.1 L124 590.6 L124.1 589.6 L124.3 589.3 L124.5 588.2 L124.9 589 L125.3 590 L125.7 590.9 L126.1 591.8 L126.5 592.3 L126.6 593.6 L126.7 594.3 L126.7 595 L126.8 595.9 L126.9 596.2 L127 597.3 L127.1 598.1 L127.1 598.5 L127.2 599.4 L127.3 600.1 L127.4 601.3 L127.4 601.8 L127.5 602.7 L127.6 603.2 L127.7 604.2 L127.8 605 L127.8 605.6 L127.9 606.3 L128 607 L128.1 608 L128.1 608.7 L128.2 609.4 L128.2 610.3 L128.3 611 L128.3 611.7 L128.4 612.8 L128.4 613.3 L128.5 614.1 L128.5 615 L128.6 616.1 L128.6 616.8 L128.7 617.3 L128.8 618.4 L128.8 619.2 L128.9 619.7 L128.9 620.7 L129 621.5 L129 622.2 L129.1 623.2 L129.1 623.8 L129.2 624.6 L129.2 625.6 L129.3 626.1 L129.3 626.7 L129.4 627.5 L129.4 628.6 L129.5 629.3 L129.6 630.3 L129.6 631.1 L129.7 631.6 L129.7 632.4 L129.8 633.4 L129.8 633.9 L129.9 634.8 L129.9 635.6 L130 636.5 L130 637.4 L130.1 638.1 L130.1 639.2 L130.2 640 L130.2 640.9 L130.3 641.6 L130.3 642.5 L130.4 643.3 L130.4 644.1 L130.5 644.7 L130.6 645.7 L130.6 646.6 L130.7 647.2 L130.7 648 L130.8 648.7 L130.8 649.8 L130.9 650.4 L130.9 651.3 L131 652 L131 652.8 L131.1 653.9 L131.1 654.5 L131.2 655.6 L131.2 656.3 L131.3 657 L131.3 657.7 L131.4 658.5 L131.4 659.4 L131.5 659.9 L131.6 660.8 L131.6 661.5 L131.7 662.2 L131.8 663 L131.9 663.9 L131.9 664.8 L132 665.4 L132.1 666 L132.1 666.8 L132.2 667.6 L132.3 668.4 L132.4 669.4 L132.4 670 L132.5 670.8 L132.6 671.6 L132.6 672.2 L132.7 673.1 L132.8 673.9 L132.9 674.6 L132.9 675.5 L133 676.4 L133.1 677.2 L133.1 677.9 L133.2 678.7 L133.3 679.6 L133.4 680.3 L133.4 681.1 L133.5 682.1 L133.7 682.9 L133.8 683.7 L134 684.4 L134.1 685.3 L134.3 686.1 L134.4 686.9 L134.6 687.6 L134.8 688.4 L134.9 689.3 L135.1 690.1 L135.2 691 L135.4 691.7 L135.6 692.6 L135.7 693.3 L135.9 694.2 L136 695 L136.2 695.9 L136.3 696.7 L136.5 697.6 L136.9 698.3 L137.3 699.1 L137.7 699.8 L138.1 700.3 L138.5 700.9 L139 701.5 L139.4 702 L139.8 702.8 L140.2 703.6 L140.6 704.3 L141 704.9 L141.8 705.2 L142.5 705.4 L143.2 705.7 L144 706 L144.8 706.3 L145.5 706.6 L146.2 706.8 L147 707 L147.8 707.2 L148.6 707.4 L149.4 707.6 L150.2 707.8 L151 708" fill="none" stroke="#000" stroke-width="3.0999999999999996" stroke-dasharray="4.2 0.5" stroke-linejoin="round"/>
<path d="M95.8 708.2 L96 689.3 L96.2 691.6 L96.6 693.5 L97 695.6 L97.4 696.1 L97.5 696.9 L97.8 697.5 L98.2 698.1 L98.6 696.7 L99 695.1 L99.4 696.5 L99.8 695.3 L100.2 696.9 L100.6 696.3 L101 695.6 L101.4 695 L101.8 694.7 L102.2 692.2 L102.6 693 L103 693.1 L103.4 692.8 L103.8 691.8 L104 691.3 L104.2 689.6 L104.6 688 L105 688 L105.4 685.4 L105.8 685.3 L106.2 683.7 L106.6 685 L107 684.3 L107.4 681.5 L107.8 680.1 L107.8 679.9 L108.2 681.2 L108.6 681.9 L109 680.4 L109.4 678.9 L109.8 677 L110.2 674.8 L110.6 676.6 L111 676.1 L111.4 675.4 L111.8 672.4 L112.2 670.7 L112.6 668 L113 668.1 L113.4 667.8 L113.8 666.6 L114.2 667.5 L114.6 665.4 L115 663.3 L115.4 661.8 L115.8 661.1 L116.2 660.3 L116.6 657 L117 654.1 L117.4 650.8 L117.8 650.1 L118.2 651 L118.6 648.2 L119 646.9 L119.4 644.4 L119.8 642.8 L120.2 640.3 L120.6 634.9 L121 636.5 L121.4 638.1 L121.8 635.6 L122.2 630.8 L122.6 628.4 L123 630.6 L123.4 628.4 L123.8 625.6 L124.2 624.3 L124.6 626.9 L125 619.7 L125.4 617.7 L125.8 611.9 L126.2 610.5 L126.6 611.1 L127 614.5 L127.4 612.9 L127.8 610.1 L128.2 608.8 L128.7 606.4 L129.1 602.4 L129.4 594.5 L129.8 595.9 L130.2 595.3 L130.7 592.4 L131.1 591.8 L131.4 589.5 L131.8 585.5 L132.2 585.4 L132.7 584 L133.1 588.2 L133.4 592.1 L133.8 594.8 L134.2 595.2 L134.7 599 L135.1 606.3 L135.4 605.6 L135.8 610.9 L136.2 610.4 L136.7 617.1 L137.1 620.5 L137.4 622.6 L137.8 629.6 L138.2 634.6 L138.7 636.9 L139.1 638.1 L139.4 639.3 L139.8 641.4 L140.2 646 L140.7 652.6 L141.1 653 L141.4 654.4 L141.8 656.8 L142.2 661 L142.7 667 L143.1 671.1 L143.4 671.3 L143.8 668.5 L144.2 673.5 L144.7 674.7 L145.1 678.7 L145.4 680.2 L145.8 682.7 L146.2 684.9 L146.7 686.3 L147.1 687.7 L147.4 690.1 L147.8 694.7 L148.2 694.3 L148.7 696.7 L149.1 697.1 L149.4 698 L149.8 698.4 L150.2 700.2 L150.7 700.8 L151.1 700.8 L151.4 702 L151.8 701.8 L152.2 702.9 L152.7 702.7 L153.1 703.1 L153.4 703.3 L153.8 704.1 L154.2 704.8 L154.7 704.7 L155.1 704.8 L155.4 704.7 L155.8 704.4 L156.2 705.2 L156.7 705.3 L157.1 705.5 L157.4 705.5 L157.8 705.6 L158.2 705.8 L158.7 705.5 L159.1 705.6 L159.4 705.9 L159.8 705.8 L160.2 706.1 L160.6 705.9 L161.1 705.9 L161.4 705.5 L161.8 705.9 L162.2 706.1 L162.6 706.3 L163.1 706.1 L163.4 706.1 L163.8 706 L164.2 706 L164.6 706.2 L165.1 706.5 L165.4 706.5 L165.8 706.1 L166.2 706.2 L166.6 706.3 L167.1 706.2 L167.4 706.1 L167.8 706.5 L168.2 706.3 L168.6 706 L169.1 706.3 L169.4 706.3 L169.8 706.2 L170.2 706.3 L170.6 706.4 L171.1 706.3 L171.4 706.3 L171.8 706.4 L172.2 706.5 L172.7 706.8 L173.1 706.6 L173.4 706.7 L173.8 706.4 L174.2 706.3 L174.7 706.6 L175.1 706.6 L175.4 706.5 L175.8 706.5 L176.2 706.3 L176.7 706.4 L177.1 706.3 L177.4 706.6 L177.8 706.7 L178.2 706.7 L178.7 706.6 L179.1 706.8 L179.4 706.7 L179.8 706.8 L180.2 706.7 L180.7 706.2 L181.1 706.6 L181.4 706.5 L181.8 706.4 L182.2 706.4 L182.7 706.7 L183.1 706.7 L183.4 706.6 L183.8 706.8 L184.2 706.7 L184.7 706.6 L185.1 706.6 L185.4 706.7 L185.8 706.8 L186.2 706.8 L186.7 706.7 L187.1 706.9 L187.4 706.9 L187.8 706.6 L188.2 706.7 L188.7 706.8 L189.1 706.6 L189.4 706.5 L189.8 706.7 L190.2 706.5 L190.7 706.5 L191.1 706.4 L191.4 706.8 L191.8 706.9 L192.2 707 L192.7 706.9 L193.1 706.6 L193.4 706.6 L193.8 706.6 L194.2 706.8 L194.7 706.9 L195.1 707 L195.4 706.9 L195.8 707 L196.2 706.8 L196.7 706.7 L197.1 706.6 L197.4 706.7 L197.8 706.6 L198.2 706.8 L198.7 706.8 L199.1 706.7 L199.4 706.9 L199.8 707.1 L200.2 707 L200.7 707.1 L201.1 707.1 L201.4 707.1 L201.8 707 L202.2 707 L202.7 706.9 L203.1 706.5 L203.4 706.9 L203.8 707.1 L204.2 707 L204.7 706.6 L205.1 706.7 L205.4 706.7 L205.8 706.8 L206.2 706.8 L206.7 706.9 L207.1 706.8 L207.4 706.8 L207.8 706.6 L208.2 706.9 L208.7 707.2 L209.1 706.8 L209.4 706.7 L209.8 706.6 L210.2 706.7 L210.7 706.6 L211.1 707 L211.4 706.9 L211.8 707.2 L212.2 707 L212.7 707.1 L213.1 707.1 L213.4 706.9 L213.8 706.9 L214.2 706.9 L214.7 706.8 L215.1 706.7 L215.4 707 L215.8 707.1 L216.2 707.1 L216.7 707.1 L217.1 707 L217.4 706.9 L217.8 706.9 L218.2 707 L218.7 707.1 L219.1 707.1 L219.4 707 L219.8 706.8 L220.2 706.9 L220.7 706.8 L221.1 706.9 L221.4 707 L221.8 707" fill="none" stroke="#000" stroke-width="2.8" stroke-linejoin="miter" stroke-miterlimit="6"/>
</g>
<g clip-path="url(#cEPB)">
<path d="M241 697.5 L241.3 696.4 L241.7 695.1 L242.1 695.3 L242.4 696 L242.8 695.3 L243.1 694.6 L243.4 694.2 L243.8 693 L244.2 691.4 L244.5 690.2 L244.8 691.1 L245.2 690.9 L245.2 690.5 L245.6 690.1 L245.9 689.4 L246.2 689.8 L246.6 689.5 L246.9 689.2 L247.3 689.1 L247.7 688 L248 687 L248.3 687 L248.7 687.2 L249.1 686.7 L249.4 684.2 L249.8 682.9 L250.1 684.2 L250.2 684.9 L250.4 685.1 L250.8 683.3 L251.2 681 L251.5 679.8 L251.8 679.9 L252.2 678.8 L252.6 676.4 L252.9 673.5 L253.2 671.1 L253.6 671.1 L253.9 671 L254 670.6 L254.3 670.3 L254.7 669.4 L255 667.2 L255.3 664.5 L255.7 663.8 L256.1 663.9 L256.4 662.3 L256.8 660.5 L257.1 659.6 L257.4 656.8 L257.8 655.4 L257.8 655.4 L258.1 654.5 L258.5 653.6 L258.9 651.9 L259.2 649.6 L259.6 648.9 L259.9 648.1 L260.2 646.9 L260.6 643.1 L260.9 640.3 L261.3 640.9 L261.5 641.1 L261.6 640 L262 637.3 L262.4 632.2 L262.7 629 L263.1 628.7 L263.4 629.3 L263.8 627 L264.1 622.6 L264.4 620.2 L264.8 620.6 L265.1 621.3 L265.5 617.6 L265.9 615.4 L266.2 612.9 L266.6 611.9 L266.9 605.7 L267.2 600.4 L267.6 601.7 L267.9 604.5 L268.3 603.1 L268.6 603.7 L269 601.7 L269.4 596.8 L269.7 592.5 L270.1 594.5 L270.4 596.8 L270.8 593.6 L271.1 592.4 L271.4 591.9 L271.8 591.7 L272.1 590.7 L272.5 587.8 L272.9 588.1 L273.2 593.2 L273.6 596.8 L273.9 597.3 L274.2 598 L274.6 600.3 L274.9 597.6 L275.3 595.2 L275.6 599.6 L276 604.4 L276.4 606.3 L276.7 609 L277.1 609.5 L277.4 611 L277.8 611.3 L278.1 611.9 L278.4 615.3 L278.8 620.3 L279.1 622.5 L279.5 623.4 L279.9 622.7 L280.2 621.3 L280.6 623.8 L280.9 627.4 L281.2 631.1 L281.6 632.6 L281.9 635.4 L282.3 636.9 L282.6 637.3 L283 639.1 L283.4 639 L283.7 640.3 L284.1 644.1 L284.4 647.5 L284.8 649 L285.1 651.1 L285.4 653.3 L285.8 655 L286.1 657.9 L286.5 656.8 L286.9 657.8 L287.2 661.3 L287.6 666 L287.9 667.7 L288.2 670.2 L288.6 672.3 L288.9 674.5 L289.3 675.7 L289.6 677.1 L290 679.3 L290.4 681.8 L290.7 683.6 L291.1 685.1 L291.4 685.4 L291.8 686.8 L292.1 689 L292.4 690.2 L292.8 691 L293.1 692.8 L293.5 693.7 L293.9 694.6 L294.2 694.3 L294.6 695.5 L294.9 697 L295.2 698.5 L295.6 699 L295.9 699.7 L296.3 700.3 L296.6 701.3 L297 701.8 L297.4 702.2 L297.7 702.4 L298.1 703 L298.4 703.3 L298.8 703.6 L299.1 703.8 L299.4 704 L299.8 704.4 L300.1 704.8 L300.5 705 L300.9 705 L301.2 705.3 L301.6 705.8 L301.9 705.9 L302.2 705.7 L302.6 705.7 L302.9 706.2 L303.3 706.4 L303.6 706.5 L304 706.2 L304.4 706 L304.7 706.7 L305.1 707 L305.4 707.1 L305.8 707.3 L306.1 707.3 L306.4 707.3 L306.8 707.2 L306.8 709.2 L241 709.2 Z" fill="#c0c0c0"/>
<path d="M240.8 708.2 L241 625.9 L241.2 639.4 L241.7 658.5 L241.8 664.9 L242 675.5 L242.4 689.2 L242.5 690.5 L242.8 690.8 L243.2 689.5 L243.7 689.6 L244 689.8 L244.4 690 L244.8 690 L245.2 688.8 L245.7 688.9 L246 687.6 L246.4 689.3 L246.8 688.9 L247.2 689.2 L247.7 688.1 L248 689 L248.4 689.3 L248.8 690.8 L249 690.3 L249.2 687.6 L249.7 686.8 L250 684.2 L250.4 683.1 L250.8 682.3 L251.2 680.2 L251.7 679.4 L252 675 L252.4 676.9 L252.8 676.2 L253.2 671.7 L253.7 667.8 L254 670.3 L254.4 671.6 L254.8 670.8 L255.2 668.8 L255.7 670.6 L256.1 673 L256.4 671.4 L256.9 669.5 L257.2 666.1 L257.6 662.4 L258.1 659.7 L258.4 656.4 L258.9 654.5 L259.2 652.1 L259.6 648.5 L260.1 649.8 L260.4 646.7 L260.9 645.7 L261.2 647.1 L261.6 644.5 L262.1 649.7 L262.4 650.2 L262.9 645 L263.2 638.5 L263.6 636.9 L264.1 632.2 L264.4 632.1 L264.9 632.2 L265.2 626 L265.6 622.1 L266.1 619.1 L266.4 616.2 L266.9 611.5 L267.2 606.9 L267.6 604.1 L268.1 606 L268.4 601.5 L268.9 598.1 L269.2 595.3 L269.6 596.5 L270.1 597.1 L270.4 597.3 L270.9 594 L271.2 594.3 L271.6 591.3 L272.1 590.2 L272.4 589.6 L272.9 587.8 L273.2 593.4 L273.6 594.5 L274.1 598.8 L274.4 598.6 L274.9 597.6 L275.2 600.2 L275.6 607 L276.1 611.1 L276.4 611.9 L276.9 613.4 L277.2 616.4 L277.6 621.3 L278.1 619.7 L278.4 619.9 L278.9 624.2 L279.2 626.7 L279.6 631.8 L280.1 635.9 L280.4 639.1 L280.9 642.8 L281.2 646.7 L281.6 648 L282.1 651.4 L282.4 653.3 L282.9 654.5 L283.2 654.7 L283.6 657.1 L284.1 663 L284.4 663.8 L284.9 667 L285.2 670.1 L285.6 673.9 L286.1 674.8 L286.4 678.4 L286.9 679.5 L287.2 681.7 L287.6 683.2 L288.1 684.1 L288.4 685.9 L288.9 688.8 L289.2 690.3 L289.6 691.5 L290.1 694.7 L290.4 694.8 L290.9 697.3 L291.2 698.8 L291.6 699.1 L292.1 700.4 L292.4 699.5 L292.9 700 L293.2 701.4 L293.6 701.8 L294.1 701.7 L294.4 702.4 L294.9 702.5 L295.2 703.5 L295.6 704.3 L296.1 704.9 L296.4 705.1 L296.9 705.1 L297.2 705 L297.6 705.2 L298.1 705 L298.4 705.5 L298.9 705.6 L299.2 705.1 L299.6 705.3 L300.1 705.5 L300.4 705.9 L300.9 706.1 L301.2 705.6 L301.6 705.5 L302.1 705.8 L302.4 706.4 L302.9 705.9 L303.2 705.6 L303.6 705.8 L304.1 705.5 L304.4 705.9 L304.9 706.1 L305.2 706 L305.6 706.4 L306.1 705.9 L306.4 705.5 L306.9 705.9 L307.2 706.5 L307.6 706.3 L308.1 706 L308.4 705.9 L308.9 705.7 L309.2 705.9 L309.6 705.9 L310.1 705.9 L310.4 706.1 L310.9 706 L311.2 706.3 L311.6 706.3 L312.1 706.3 L312.4 706.4 L312.9 706.5 L313.2 706.5 L313.6 706.7 L314.1 706.5 L314.4 706.4 L314.9 706.4 L315.2 706.4 L315.6 706.3 L316.1 706.1 L316.4 706.3 L316.9 706.6 L317.2 706.2 L317.6 706.4 L318.1 706.1 L318.4 706 L318.9 706.3 L319.2 706.3 L319.6 706.2 L320.1 706.3 L320.4 706.2 L320.9 705.4 L321.2 705.5 L321.6 705.5 L322.1 705.8 L322.4 706.1 L322.9 705.9 L323.2 705.9 L323.6 705.6 L324.1 705.7 L324.4 705.9 L324.9 705.7 L325.2 705.5 L325.6 705.8 L326.1 705.7 L326.4 706 L326.9 706 L327.2 706 L327.6 706 L328.1 706.4 L328.4 706.3 L328.9 706.3 L329.2 705.8 L329.6 705.7 L330.1 705.9 L330.4 705.8 L330.9 706.1 L331.2 706.2 L331.6 706.2 L332.1 706.5 L332.4 706.5 L332.9 706.3 L333.2 706.5 L333.6 706.5 L334.1 706.3 L334.4 706.3 L334.9 706.5 L335.2 706.3 L335.6 706.4 L336.1 706.9 L336.4 706.4 L336.9 706.4 L337.2 706.8 L337.6 706.9 L338.1 706.7 L338.4 706.7 L338.9 706.7 L339.2 706.5 L339.6 706.5 L340.1 706.7 L340.4 706.8 L340.9 706.7 L341.2 706.6 L341.6 706.5 L342.1 706.6 L342.4 706.8 L342.9 706.7 L343.2 706.9 L343.6 706.6 L344.1 706.8 L344.4 706.8 L344.9 706.9 L345.2 706.8 L345.6 706.8 L346.1 706.9 L346.4 707 L346.9 706.9 L347.2 706.8 L347.6 706.9 L348.1 707 L348.4 706.7 L348.9 706.7 L349.2 706.9 L349.6 707 L350.1 707 L350.4 706.9 L350.9 707.1 L351.2 707 L351.6 706.9 L352.1 706.7 L352.4 706.7 L352.9 706.9 L353.2 707 L353.6 706.8 L354.1 706.8 L354.4 707.1 L354.9 707.1 L355.2 706.8 L355.6 706.9 L356.1 707.2 L356.4 706.8 L356.9 706.7 L357.2 706.9 L357.6 707.3 L358.1 707.1 L358.4 706.9 L358.9 707 L359.2 706.9 L359.6 707 L360.1 707.3 L360.4 707 L360.9 707.1 L361.2 707.2 L361.6 707 L362.1 707 L362.4 707 L362.9 707 L363.2 706.8 L363.6 706.9 L364.1 706.9 L364.4 707.1 L364.9 707.2 L365.2 707.1 L365.6 707.2 L366.1 707 L366.4 707.1 L366.9 707" fill="none" stroke="#000" stroke-width="2.8" stroke-linejoin="miter" stroke-miterlimit="6"/>
</g>
<g clip-path="url(#cESP)">
<path d="M387 690.9 L387.4 690.8 L387.7 690.7 L388.1 690.5 L388.4 689.4 L388.8 689 L389.1 688.8 L389.4 688.3 L389.8 688.2 L390.1 687.7 L390.5 687.7 L390.9 687.8 L391.2 686.4 L391.2 685.7 L391.6 684.2 L391.9 684.6 L392.2 686.1 L392.6 685.6 L392.9 685.1 L393.3 683.8 L393.6 683.9 L394 683.5 L394.4 683 L394.7 683.6 L395.1 683.4 L395.4 682.4 L395.8 681.8 L396.1 681.1 L396.2 680.2 L396.4 679.6 L396.8 678.8 L397.1 679 L397.5 677.5 L397.9 676.6 L398.2 675.5 L398.6 672.8 L398.9 669.1 L399.2 670.5 L399.6 671.6 L399.9 670.5 L400 670.5 L400.3 668.3 L400.6 666.4 L401 665.7 L401.4 666.1 L401.7 663 L402.1 658.5 L402.4 657.6 L402.8 659.2 L403.1 659.4 L403.4 657.9 L403.8 657 L403.8 656.7 L404.1 654.5 L404.5 653.1 L404.9 650.2 L405.2 646.2 L405.6 645.9 L405.9 645.8 L406.2 644.6 L406.6 643 L406.9 642.1 L407.3 640.3 L407.5 638.6 L407.6 637 L408 634.7 L408.4 631.9 L408.7 631.5 L409.1 630.9 L409.4 629 L409.8 627.4 L410.1 626.4 L410.4 624.5 L410.8 620.3 L411.1 615.3 L411.5 614.1 L411.9 616.2 L412.2 615.2 L412.6 612.9 L412.9 610.6 L413.2 607.7 L413.6 606.6 L413.9 603.8 L414.3 602.1 L414.6 600.1 L415 599 L415.4 597.6 L415.7 593.5 L416.1 589.2 L416.4 589.5 L416.8 592.7 L417.1 592 L417.4 591.6 L417.8 591.1 L418.1 590.3 L418.5 589.7 L418.9 587.5 L419.2 586.5 L419.6 588.9 L419.9 593 L420.2 593.8 L420.6 595.7 L420.9 595.8 L421.3 596.2 L421.6 595.6 L422 595.7 L422.4 598.7 L422.7 603.5 L423.1 605.4 L423.4 605.8 L423.8 607.7 L424.1 608.6 L424.4 610.6 L424.8 612 L425.1 615.1 L425.5 617.7 L425.9 619 L426.2 616.7 L426.6 618.8 L426.9 624.6 L427.2 629.5 L427.6 631.6 L427.9 634.3 L428.3 637.3 L428.6 639.4 L429 642.3 L429.4 646.2 L429.7 650.3 L430.1 652.5 L430.4 654.6 L430.8 657 L431.1 659 L431.4 663.3 L431.8 666.3 L432.1 669.2 L432.5 671.3 L432.9 673.9 L433.2 675.3 L433.6 679 L433.9 682.1 L434.2 683.8 L434.6 686 L434.9 687.6 L435.3 688.2 L435.6 689.3 L436 691.4 L436.4 693.7 L436.7 694.5 L437.1 695.5 L437.4 696.4 L437.8 696.5 L438.1 698 L438.4 699.1 L438.8 699.2 L439.1 699.2 L439.5 700.4 L439.9 702.1 L440.2 702.4 L440.6 702.7 L440.9 702.2 L441.2 702 L441.6 703 L441.9 704 L442.3 704.6 L442.6 704.9 L443 705.1 L443.4 705.3 L443.7 705.7 L444.1 705.6 L444.4 705.5 L444.8 705.7 L445.1 706.1 L445.4 706.4 L445.8 706.5 L446.1 706.5 L446.5 706 L446.9 706.1 L447.2 706.6 L447.6 707 L447.9 707 L448.2 707.1 L448.6 707.2 L448.9 707.3 L449.3 707.4 L449.6 707.3 L450 707.3 L450 709.2 L387 709.2 Z" fill="#c0c0c0"/>
<path d="M386.9 708.2 L387 639 L387.2 659.2 L387.5 679.7 L387.7 681.2 L388.1 686 L388.2 688.3 L388.5 688.4 L388.9 688.4 L389.2 688.4 L389.7 687.9 L390.1 687.6 L390.5 687.2 L390.9 686.8 L391.2 687.1 L391.7 687.2 L392.1 686.5 L392.5 686.3 L392.9 686 L393.2 685.1 L393.7 685.5 L394.1 684.7 L394.5 684 L394.9 683.1 L395 683.6 L395.2 683.5 L395.7 682.5 L396.1 682 L396.5 681.6 L396.9 680.6 L397.2 679.5 L397.7 678.4 L398.1 678.7 L398.5 676.8 L398.9 675.8 L399.2 674 L399.7 673.8 L400.1 672.5 L400.5 670.7 L400.9 669.7 L401.2 669.5 L401.7 668.8 L402.1 668.8 L402.5 666.6 L402.9 665.7 L403.2 664 L403.7 662.5 L404.1 661.5 L404.5 659.3 L404.9 658.5 L405.2 657.2 L405.7 655.6 L406.1 653.6 L406.5 653.3 L406.9 652.6 L407.2 650.9 L407.7 651.4 L408.1 646.8 L408.5 644.2 L408.9 643.2 L409.2 641.5 L409.7 640.1 L410.1 639.7 L410.5 637.8 L410.9 635.5 L411.2 632.6 L411.7 630 L412.1 627 L412.5 625.9 L412.9 623.4 L413.2 622.6 L413.7 620.5 L414.1 617.4 L414.5 614.4 L414.9 610 L415.2 607 L415.7 600.9 L416.1 599.2 L416.5 597.1 L416.9 595.4 L417.2 594.2 L417.7 592.7 L418.1 593.6 L418.5 591.2 L418.9 590.6 L419.2 588.6 L419.7 590.4 L420.1 587.7 L420.5 586.1 L420.9 589.2 L421.2 590.4 L421.7 590.7 L422.1 591 L422.5 587.9 L422.9 588.4 L423.2 592.1 L423.7 594.2 L424.1 595.7 L424.5 599.3 L424.9 604.1 L425.2 610 L425.7 611.7 L426.1 612.2 L426.5 612.6 L426.9 615.5 L427.2 619.3 L427.7 622.7 L428.1 625.7 L428.5 627.6 L428.9 631.5 L429.2 633.5 L429.7 636.5 L430.1 640.9 L430.5 644.5 L430.9 649.8 L431.2 652 L431.7 654.3 L432.1 657.4 L432.5 661.6 L432.9 665.8 L433.2 668.5 L433.7 671.4 L434.1 674.4 L434.5 677.4 L434.9 681.7 L435.2 683.9 L435.7 686.1 L436.1 687.2 L436.5 689.5 L436.9 691.7 L437.2 693.6 L437.7 694.8 L438.1 696 L438.5 697 L438.9 698.4 L439.2 699.7 L439.7 700.7 L440.1 701.6 L440.5 702 L440.9 702.3 L441.2 702.4 L441.7 702.6 L442.1 703.3 L442.5 703.6 L442.9 704.2 L443.2 704.7 L443.7 705.2 L444.1 705.1 L444.5 705.1 L444.9 705.3 L445.2 705.3 L445.7 705.5 L446.1 705.5 L446.5 705.8 L446.9 706.2 L447.2 706.1 L447.7 706.1 L448.1 706.3 L448.5 706.5 L448.9 706.5 L449.2 706.6 L449.7 706.6 L450.1 706.5 L450.5 706.6 L450.9 706.6 L451.2 706.5 L451.7 706.3 L452.1 706.5 L452.5 706.6 L452.9 706.6 L453.2 706.4 L453.7 706.5 L454.1 706.6 L454.5 706.6 L454.9 706.6 L455.2 706.6 L455.7 706.6 L456.1 706.6 L456.5 706.5 L456.9 706.6 L457.2 706.6 L457.7 706.6 L458.1 706.6 L458.5 706.7 L458.9 706.7 L459.2 706.7 L459.7 706.6 L460.1 706.7 L460.5 706.5 L460.9 706.6 L461.2 706.7 L461.7 706.6 L462.1 706.5 L462.5 706.6 L462.9 706.7 L463.2 706.6 L463.7 706.7 L464.1 706.7 L464.5 706.6 L464.9 706.6 L465.2 706.5 L465.7 706.5 L466.1 706.6 L466.5 706.6 L466.9 706.6 L467.2 706.5 L467.7 706.5 L468.1 706.7 L468.5 706.7 L468.9 706.8 L469.2 706.7 L469.7 706.7 L470.1 706.6 L470.5 706.6 L470.9 706.6 L471.2 706.6 L471.7 706.7 L472.1 706.7 L472.5 706.7 L472.9 706.7 L473.2 706.6 L473.7 706.7 L474.1 706.8 L474.5 706.7 L474.9 706.6 L475.2 706.6 L475.7 706.5 L476.1 706.6 L476.5 706.8 L476.9 706.7 L477.2 706.7 L477.7 706.7 L478.1 706.8 L478.5 706.7 L478.9 706.7 L479.2 706.8 L479.7 706.7 L480.1 706.7 L480.5 706.7 L480.9 706.8 L481.2 706.8 L481.7 706.9 L482.1 706.7 L482.5 706.8 L482.9 706.8 L483.2 706.8 L483.7 706.8 L484.1 706.8 L484.5 706.9 L484.9 706.8 L485.2 706.7 L485.7 706.7 L486.1 706.8 L486.5 706.7 L486.9 706.6 L487.2 706.6 L487.7 706.6 L488.1 706.8 L488.5 706.9 L488.9 706.8 L489.2 706.8 L489.7 706.7 L490.1 706.8 L490.5 706.7 L490.9 706.8 L491.2 706.8 L491.7 706.7 L492.1 706.8 L492.5 706.9 L492.9 706.9 L493.2 706.9 L493.7 706.8 L494.1 706.9 L494.5 706.9 L494.9 706.9 L495.2 706.9 L495.7 706.8 L496.1 706.9 L496.5 706.9 L496.9 706.9 L497.2 706.8 L497.7 706.9 L498.1 707 L498.5 707 L498.9 706.9 L499.2 706.9 L499.7 707 L500.1 707 L500.5 707 L500.9 706.9 L501.2 706.8 L501.7 706.8 L502.1 706.8 L502.5 706.8 L502.9 706.8 L503.2 706.9 L503.7 706.9 L504.1 706.9 L504.5 706.8 L504.9 706.8 L505.2 706.9 L505.7 707 L506.1 707 L506.5 707 L506.9 707 L507.2 707 L507.7 707 L508.1 706.9 L508.5 707 L508.9 707 L509.2 707 L509.7 707.1 L510.1 707.1 L510.5 707 L510.9 706.9 L511.2 706.9 L511.7 707.1 L512.1 707.1 L512.5 707.1 L512.9 707.1" fill="none" stroke="#000" stroke-width="2.8" stroke-linejoin="miter" stroke-miterlimit="6"/>
</g>
<g clip-path="url(#cFBM)">
<path d="M96 844.6 L96.3 844.2 L96.7 842.9 L97 841.6 L97.4 842.1 L97.8 843 L98.1 842.6 L98.5 842.2 L98.8 842 L99.2 841.3 L99.5 841.5 L99.8 841.2 L100.2 840.6 L100.5 840.7 L100.9 839.6 L101.2 838.7 L101.5 838.3 L101.6 838.4 L102 838.9 L102.3 838.8 L102.7 838.4 L103 837.7 L103.3 836.8 L103.7 836.2 L104 835.9 L104.4 835.6 L104.8 833.8 L105.1 833 L105.5 833.9 L105.8 835.2 L106.2 834.3 L106.5 833.9 L106.8 833.4 L107.2 832.4 L107.5 831.7 L107.8 831.4 L107.9 831.2 L108.2 831.6 L108.6 830.7 L109 829.8 L109.3 829.2 L109.7 827.6 L110 827.6 L110.3 827.2 L110.7 825.3 L111 822.3 L111.4 822.1 L111.8 823.4 L112.1 823.7 L112.5 822.5 L112.8 821.6 L113.2 821.3 L113.5 820.5 L113.8 819.5 L114 819.4 L114.2 818.5 L114.5 817.9 L114.9 817.3 L115.2 816.6 L115.6 814.1 L116 809.6 L116.3 807.3 L116.7 808.5 L117 809.7 L117.3 808.5 L117.7 805.6 L118 802 L118.4 802.3 L118.8 803.7 L119 802.7 L119.1 802.6 L119.5 801.4 L119.8 799.8 L120.2 798.6 L120.5 796.9 L120.8 794.9 L121.2 792 L121.5 791.1 L121.9 791.5 L122.2 789.9 L122.6 788.2 L122.8 787.4 L123 787.7 L123.3 786.5 L123.7 785.1 L124 782.1 L124.3 780.2 L124.7 779.6 L125 780 L125.4 778.9 L125.8 778.1 L126.1 776.1 L126.5 775.7 L126.8 774.4 L127.2 774.1 L127.5 771.8 L127.8 772.4 L128.2 773.7 L128.6 775 L128.9 773.4 L129.2 770.4 L129.6 770.2 L129.9 771.7 L130.3 772.1 L130.7 773.8 L131 773.5 L131.3 773.9 L131.7 774.5 L132.1 778.5 L132.4 779.2 L132.8 779.2 L133.1 779.7 L133.4 781.2 L133.8 782.1 L134.2 782.2 L134.5 780.7 L134.8 782.4 L135.2 782.8 L135.6 782.1 L135.9 780.2 L136.2 778.7 L136.6 777.7 L136.9 779.5 L137.3 781 L137.7 779.8 L138 778.6 L138.3 776.1 L138.7 777 L139.1 778.4 L139.4 777 L139.8 775.3 L140.1 773.3 L140.4 774.4 L140.8 776.5 L141.2 776.1 L141.5 776 L141.8 774.9 L142.2 773.9 L142.6 772.2 L142.9 770.7 L143.2 770.5 L143.6 770.2 L143.9 770.4 L144.3 768.2 L144.7 767.2 L145 767.2 L145.3 763 L145.7 757.4 L146.1 756.1 L146.4 758 L146.8 757.9 L147.1 756.1 L147.4 751.8 L147.8 745.7 L148.2 750.3 L148.5 754.5 L148.8 757.5 L149.2 759.5 L149.6 756.5 L149.9 755.3 L150.2 760.7 L150.6 762.5 L150.9 761.7 L151.3 761.9 L151.7 761.4 L152 761.1 L152.3 761.6 L152.7 758.5 L153.1 756.5 L153.4 755.6 L153.8 758.1 L154.1 758.4 L154.4 759 L154.8 758.6 L155.2 757.7 L155.5 756.7 L155.8 759.2 L156.2 761.9 L156.6 762.8 L156.9 758.2 L157.2 753 L157.6 756 L157.9 756.3 L158.3 754.9 L158.7 753.8 L159 751.9 L159.3 750.3 L159.7 750.3 L160.1 748.9 L160.4 746.2 L160.8 748.1 L161.1 752.3 L161.4 753.6 L161.8 753 L162.1 754 L162.5 754 L162.8 753.1 L163.2 751.7 L163.6 747.5 L163.9 747.2 L164.2 746.1 L164.6 746.2 L164.9 741.3 L165.3 739.4 L165.6 740.8 L166 742.1 L166.3 740.1 L166.7 738.2 L167.1 738.5 L167.4 739.5 L167.8 740.5 L168.1 739.5 L168.4 736.9 L168.8 737 L169.1 739.4 L169.5 742.9 L169.8 741.6 L170.2 740.8 L170.6 738.8 L170.9 736.8 L171.2 734.3 L171.6 728.8 L171.9 727.3 L172.3 728.6 L172.6 731.6 L173 733.9 L173.3 735.6 L173.7 736.1 L174.1 739 L174.4 745 L174.8 747.3 L175.1 748.2 L175.4 745.6 L175.8 742.9 L176.1 743.3 L176.5 745.5 L176.8 747.2 L177.2 746.2 L177.6 746.6 L177.9 746.8 L178.2 749.5 L178.6 749.3 L178.9 746.6 L179.3 747.5 L179.6 754.1 L180 757.1 L180.3 759 L180.7 759 L181.1 759.2 L181.4 756.3 L181.8 753.5 L182.1 755.5 L182.4 759.4 L182.8 760.6 L183.1 761.7 L183.5 759.1 L183.8 756.2 L184.2 758.9 L184.6 761.1 L184.9 761.8 L185.2 761.8 L185.6 762.3 L185.9 761.3 L186.3 761.5 L186.6 762.4 L187 762.7 L187.3 762.7 L187.7 764.4 L188.1 763.3 L188.4 764.1 L188.8 764.6 L189.1 765 L189.4 764.4 L189.8 764.8 L190.1 763.4 L190.5 764 L190.8 764.8 L191.2 766.8 L191.6 766.2 L191.9 765.1 L192.2 766.4 L192.6 765.3 L192.9 764.9 L193.3 765.5 L193.6 763.4 L194 760.8 L194.3 761.9 L194.7 763.8 L195.1 763.4 L195.4 762.9 L195.8 763.2 L196.1 765.4 L196.4 771.9 L196.8 777 L197.1 779.7 L197.5 780.4 L197.8 781.8 L198.2 783.5 L198.6 783.8 L198.9 783.5 L199.2 785.4 L199.6 787.6 L199.9 788.6 L200.3 790.2 L200.6 791.6 L201 794 L201.3 795.4 L201.7 795.6 L202.1 797.6 L202.4 800.1 L202.8 801.9 L203.1 802.9 L203.4 804.8 L203.8 806.5 L204.1 807.9 L204.5 807.8 L204.8 809.1 L205.2 811.3 L205.6 814.1 L205.9 815.5 L206.2 817.1 L206.6 817.9 L206.9 819.2 L207.3 819.8 L207.6 820.6 L208 823 L208.3 825.1 L208.7 826.2 L209.1 826.9 L209.4 827.9 L209.8 828.9 L210.1 829.4 L210.4 830.2 L210.8 831.8 L211.1 832.9 L211.5 834.5 L211.8 834.2 L212.2 834.1 L212.6 832.9 L212.9 832.2 L213.2 832.8 L213.6 833.4 L213.9 833.1 L214.3 833.3 L214.6 833.9 L215 835.9 L215.3 836.9 L215.7 837.5 L216.1 838.3 L216.4 839.2 L216.8 839.6 L217.1 839.7 L217.4 840 L217.8 840.5 L218.1 841.1 L218.5 841.5 L218.8 842 L219.2 842.5 L219.6 842.8 L219.9 843.1 L220.2 843.4 L220.6 843.5 L220.9 843.1 L221.3 843 L221.6 843.8 L222 844.3 L222 849.2 L96 849.2 Z" fill="#c0c0c0"/>
<path d="M96 836.1 L96.5 835.7 L97.1 835.3 L97.6 835 L98.1 834.2 L98.7 833.5 L99.2 832.8 L99.7 832.1 L100.2 831.4 L100.7 830.7 L101.2 830.1 L101.6 829.2 L102.1 828.5 L102.5 827.5 L103 827 L103.4 826.4 L103.9 825.6 L104.3 825.1 L104.8 824.6 L105.2 824.1 L105.5 823.8 L105.8 822.9 L106.1 822.2 L106.4 821.3 L106.7 820.8 L107 819.9 L107.3 819.2 L107.6 818.3 L107.9 817.5 L108.2 816.8 L108.5 816 L108.8 815.2 L109.1 814.4 L109.4 813.6 L109.7 812.9 L110 812.2 L110.2 811.5 L110.4 810.9 L110.6 810 L110.8 809.2 L111 808.3 L111.2 807.5 L111.4 807 L111.5 806.1 L111.7 805.4 L111.9 804.4 L112.1 803.7 L112.3 802.9 L112.5 802.4 L112.7 801.7 L112.8 801 L113 800.2 L113.2 799.6 L113.4 798.9 L113.6 798.3 L113.8 797.5 L113.9 796.9 L114.1 796.2 L114.3 795.5 L114.5 794.7 L114.6 793.9 L114.8 793.3 L114.9 792.5 L115 791.8 L115.2 791 L115.3 789.9 L115.4 789.1 L115.5 788.2 L115.7 787.3 L115.8 786.5 L115.9 785.4 L116.1 784.4 L116.2 783.5 L116.3 782.4 L116.5 781.6 L116.6 780.5 L116.7 779.6 L116.8 778.6 L117 778.1 L117.1 777.4 L117.2 776.3 L117.4 775.6 L117.5 774.7 L117.6 774.2 L117.8 773.2 L117.8 772.7 L118 771.6 L118 771 L118.2 770.3 L118.2 769.5 L118.3 768.8 L118.5 768 L118.5 767.2 L118.7 766.4 L118.8 765.7 L118.8 765 L119 764.4 L119 763.3 L119.2 762.7 L119.2 762.2 L119.3 761.2 L119.5 760.8 L119.5 759.8 L119.7 759.4 L119.8 758.3 L119.8 757.9 L120 757.2 L120 756.2 L120.2 755.5 L120.2 754.8 L120.4 754.1 L120.5 753.1 L120.6 752.4 L120.7 751.6 L120.8 750.9 L120.9 749.7 L121 749 L121.1 748.3 L121.2 747.5 L121.3 746.4 L121.4 745.8 L121.5 745.2 L121.6 744.2 L121.7 743.2 L121.8 742.5 L121.9 742 L122 741 L122.1 740 L122.2 739.4 L122.3 738.8 L122.4 737.8 L122.5 737.2 L122.7 736.4 L122.9 735.7 L123 734.7 L123.2 733.9 L123.4 733.1 L123.6 731.9 L123.8 731.1 L124 730 L124.1 729.3 L124.3 727.9 L124.5 727.1 L124.9 727.4 L125.3 728.3 L125.7 729.2 L126.1 730.4 L126.5 731.3 L126.6 732.1 L126.7 733 L126.7 733.4 L126.8 734.7 L126.9 735.5 L127 735.9 L127.1 736.7 L127.1 737.8 L127.2 738.2 L127.3 739.3 L127.4 739.9 L127.4 741.1 L127.5 741.4 L127.6 742.4 L127.7 743 L127.8 743.8 L127.8 744.9 L127.9 745.8 L128 746.2 L128.1 747.4 L128.1 747.8 L128.2 748.6 L128.2 749.4 L128.3 750.1 L128.3 751.1 L128.4 751.5 L128.4 752.7 L128.5 753.5 L128.5 754.3 L128.6 754.9 L128.6 755.4 L128.7 756.3 L128.8 757 L128.8 758.1 L128.9 758.7 L128.9 759.6 L129 760.4 L129 761.1 L129.1 762 L129.1 762.4 L129.2 763.3 L129.2 764.1 L129.3 764.9 L129.3 765.6 L129.4 766.3 L129.4 767.1 L129.5 768 L129.6 768.5 L129.6 769.6 L129.7 770.1 L129.7 771.1 L129.8 772.2 L129.8 772.7 L129.9 773.7 L129.9 774.4 L130 775.2 L130 776.2 L130.1 777.2 L130.1 777.8 L130.2 778.8 L130.2 779.4 L130.3 780.4 L130.3 781.3 L130.4 781.8 L130.4 782.9 L130.5 783.6 L130.6 784.4 L130.6 785.2 L130.7 786.3 L130.7 786.9 L130.8 787.7 L130.8 788.7 L130.9 789.4 L130.9 790.3 L131 791.1 L131 792 L131.1 792.7 L131.1 793.7 L131.2 794.3 L131.2 795.3 L131.3 795.7 L131.3 796.8 L131.4 797.5 L131.4 798.4 L131.5 798.9 L131.6 799.6 L131.6 800.6 L131.7 801.3 L131.8 802 L131.9 803 L131.9 803.7 L132 804.3 L132.1 805.2 L132.1 806 L132.2 806.6 L132.3 807.5 L132.4 808.3 L132.4 809 L132.5 810 L132.6 810.6 L132.6 811.4 L132.7 812.1 L132.8 812.9 L132.9 813.9 L132.9 814.6 L133 815.4 L133.1 816.2 L133.1 817.1 L133.2 817.9 L133.3 818.9 L133.4 819.7 L133.4 820.3 L133.5 821.3 L133.7 822.2 L133.8 823 L134 823.9 L134.1 824.5 L134.3 825.5 L134.4 826.3 L134.6 827.1 L134.8 827.9 L134.9 828.8 L135.1 829.6 L135.2 830.3 L135.4 831.1 L135.6 832 L135.7 832.7 L135.9 833.7 L136 834.4 L136.2 835.2 L136.3 835.8 L136.5 836.5 L136.9 837 L137.3 837.6 L137.7 838.1 L138.1 839 L138.5 839.8 L139 840.6 L139.4 841.5 L139.8 842.1 L140.2 842.7 L140.6 843.3 L141 843.9 L141.8 844 L142.5 844.2 L143.2 844.4 L144 844.6 L144.8 845.1 L145.5 845.5 L146.2 845.7 L147 846 L147.8 846.3 L148.6 846.5 L149.4 846.7 L150.2 846.8 L151 847" fill="none" stroke="#000" stroke-width="3.0999999999999996" stroke-dasharray="4.2 0.5" stroke-linejoin="round"/>
<path d="M95.8 848.2 L96 830.2 L96.2 832.8 L96.6 835.9 L97 837.2 L97.4 840.9 L97.5 840.6 L97.8 840.3 L98.2 840 L98.6 841.5 L99 841.9 L99.4 840.7 L99.8 839.8 L100.2 840.2 L100.6 839.9 L101 840.1 L101.4 840.4 L101.5 839.3 L101.8 839.5 L102.2 837.9 L102.6 837.8 L103 836.6 L103.4 836.3 L103.8 836.1 L104.2 836.5 L104.6 837.3 L105 835.4 L105.4 835.2 L105.8 835 L106.2 835.1 L106.5 834.4 L106.6 834.4 L107 834.5 L107.4 833 L107.8 834.3 L108.2 832.3 L108.6 829.7 L109 829.6 L109.4 828.9 L109.8 829.3 L110.2 826.9 L110.6 827.3 L111 826.4 L111.4 825.7 L111.5 826.3 L111.8 823.7 L112.2 824.4 L112.6 824.2 L113 821.4 L113.4 821.2 L113.8 820.6 L114.2 819 L114.6 818.5 L115 819.8 L115.4 819 L115.8 816.1 L116.2 815.7 L116.6 816.5 L117 813.8 L117.4 810.2 L117.8 810.3 L118.2 808.9 L118.6 806.2 L119 804 L119.4 802.5 L119.8 801.7 L120.2 799.5 L120.6 795.3 L121 793.4 L121.4 793.3 L121.8 791.9 L122.2 787.9 L122.6 785.1 L123 783.2 L123.4 784.6 L123.8 782.9 L124.2 778.9 L124.6 775.8 L125 777.4 L125.4 777.5 L125.8 778.6 L126.2 776.5 L126.6 775.6 L127 770.4 L127.4 767.3 L127.8 767.1 L128.2 764.8 L128.7 762.9 L129.1 757.7 L129.4 749.8 L129.8 744.4 L130.2 739.9 L130.7 735.4 L131.1 735.6 L131.4 729 L131.8 727.5 L132.2 728.4 L132.7 727.8 L133.1 729.3 L133.4 728.1 L133.8 735.3 L134.2 737.9 L134.7 737.6 L135.1 741.1 L135.4 744.7 L135.8 747.3 L136.2 746.9 L136.7 747.1 L137.1 751.3 L137.4 753.2 L137.8 759 L138.2 761.2 L138.7 761.7 L139.1 757.5 L139.4 761.4 L139.8 762.8 L140.2 763.9 L140.7 764.6 L141.1 768.2 L141.4 768.7 L141.8 766.6 L142.2 769.8 L142.7 771.3 L143.1 773.1 L143.4 770.5 L143.8 767.5 L144.2 763.2 L144.7 760.3 L145.1 761.6 L145.4 766.7 L145.8 766.6 L146.2 768.7 L146.7 771.9 L147.1 775.4 L147.4 776.7 L147.8 779.9 L148.2 779.2 L148.7 775.5 L149.1 776.8 L149.4 781.3 L149.8 780.8 L150.2 783.1 L150.7 785.1 L151.1 785.1 L151.4 787.8 L151.8 787.6 L152.2 787 L152.7 785 L153.1 785.4 L153.4 782.1 L153.8 784.3 L154.2 788.2 L154.7 791 L155.1 793.9 L155.4 791.7 L155.8 789.9 L156.2 786 L156.7 785.2 L157.1 781.1 L157.4 783.4 L157.8 787.2 L158.2 790.2 L158.7 792.3 L159.1 792.4 L159.4 796.8 L159.8 798.6 L160.2 800.1 L160.6 799.1 L161.1 800.8 L161.4 801.7 L161.8 801.3 L162.2 801.7 L162.6 803.6 L163.1 805.6 L163.4 804.2 L163.8 800.4 L164.2 801.2 L164.6 800.7 L165.1 800 L165.4 801.6 L165.8 798.7 L166.2 798.9 L166.6 799.6 L167.1 798.1 L167.4 800.8 L167.8 797.6 L168.2 796 L168.6 794.5 L169.1 792.2 L169.4 789.7 L169.8 788.1 L170.2 782.8 L170.6 782 L171.1 781.9 L171.4 778.7 L171.8 777.9 L172.2 778.5 L172.7 775.8 L173.1 770.9 L173.4 770.6 L173.8 769.2 L174.2 771.7 L174.7 774.5 L175.1 771.9 L175.4 772.9 L175.8 774.4 L176.2 772.2 L176.7 774.8 L177.1 776 L177.4 776 L177.8 772 L178.2 768.2 L178.7 768.2 L179.1 768.9 L179.4 770.8 L179.8 774 L180.2 775 L180.7 777.8 L181.1 781.1 L181.4 784.1 L181.8 784 L182.2 781 L182.7 779.4 L183.1 777.8 L183.4 779.2 L183.8 778 L184.2 780 L184.7 783.5 L185.1 787.2 L185.4 790.2 L185.8 789.2 L186.2 790.8 L186.7 789.4 L187.1 788.9 L187.4 790.1 L187.8 793.1 L188.2 795.5 L188.7 798.2 L189.1 799.4 L189.4 798.6 L189.8 802 L190.2 801.5 L190.7 802.4 L191.1 805.7 L191.4 805.2 L191.8 805.7 L192.2 811.2 L192.7 812.8 L193.1 815.1 L193.4 814.8 L193.8 816.2 L194.2 820.3 L194.7 820.8 L195.1 822.2 L195.4 823.5 L195.8 825.9 L196.2 825 L196.7 824.1 L197.1 824.8 L197.4 825.5 L197.8 825.2 L198.2 826.5 L198.7 827.2 L199.1 828.7 L199.4 830 L199.8 829.7 L200.2 831.8 L200.7 833.6 L201.1 833.8 L201.4 836.7 L201.8 836 L202.2 835.5 L202.7 838.5 L203.1 838.3 L203.4 838.6 L203.8 838.5 L204.2 837.3 L204.7 837.8 L205.1 838.6 L205.4 838.8 L205.8 839.3 L206.2 839.1 L206.7 839.4 L207.1 839.6 L207.4 840.8 L207.8 841.2 L208.2 841 L208.7 841.5 L209.1 841.5 L209.4 842.1 L209.8 840.2 L210.2 839.3 L210.7 840.5 L211.1 841.2 L211.4 839.3 L211.8 838.8 L212.2 839.4 L212.7 839.5 L213.1 838.9 L213.4 838.8 L213.8 839.5 L214.2 839.6 L214.7 839.4 L215.1 839.1 L215.4 840 L215.8 841.4 L216.2 841.1 L216.7 840.2 L217.1 840.5 L217.4 841.9 L217.8 840.4 L218.2 840.3 L218.7 840.9 L219.1 841.7 L219.4 841.1 L219.8 842.1 L220.2 841.3 L220.7 841.4 L221.1 842 L221.4 842.6 L221.8 841.8" fill="none" stroke="#000" stroke-width="2.8" stroke-linejoin="miter" stroke-miterlimit="6"/>
</g>
<g clip-path="url(#cFPB)">
<path d="M241 842.1 L241.3 840.8 L241.7 838.9 L242.1 838.5 L242.4 838.7 L242.8 838.6 L243.1 838 L243.4 837.4 L243.8 836.6 L244.2 836.1 L244.5 834.6 L244.8 832.7 L245.2 832.4 L245.6 833.3 L245.9 833.8 L246.2 833.2 L246.5 832.6 L246.6 832.2 L246.9 831.5 L247.3 831.5 L247.7 830.3 L248 828 L248.3 826.4 L248.7 827 L249.1 828.5 L249.4 827.5 L249.8 826.9 L250.1 826.5 L250.4 826 L250.8 825.1 L251.2 823.7 L251.5 823.1 L251.8 823.7 L252.2 823.7 L252.6 822.1 L252.8 820.3 L252.9 819 L253.2 819.8 L253.6 820.5 L253.9 820.1 L254.3 820.1 L254.7 817.4 L255 814.2 L255.3 815.1 L255.7 815.9 L256.1 813.9 L256.4 811.4 L256.8 810.6 L257.1 813 L257.4 813 L257.8 812.4 L258.1 810.9 L258.5 808.3 L258.9 809.1 L259 809.5 L259.2 810.4 L259.6 809.5 L259.9 808.1 L260.2 806.5 L260.6 805.5 L260.9 803 L261.3 800.1 L261.6 800.6 L262 800.7 L262.4 799.7 L262.7 799.1 L263.1 797.7 L263.4 797.4 L263.8 795.5 L264 792 L264.1 790.9 L264.4 790.4 L264.8 791.9 L265.1 792.5 L265.5 790.1 L265.9 786.2 L266.2 787.4 L266.6 788.9 L266.9 788.2 L267.2 787.9 L267.6 786.2 L267.9 785.4 L268.3 784.8 L268.6 783.4 L269 780 L269.4 777.3 L269.7 780.1 L270.1 782.5 L270.4 781.2 L270.8 780.9 L271.1 779.9 L271.4 778.1 L271.8 774.8 L272.1 774.7 L272.5 776.7 L272.9 776.4 L273.2 774 L273.6 772.6 L273.9 774.1 L274.2 776.3 L274.6 776.9 L274.9 776.4 L275.3 776.2 L275.6 776.1 L276 777.9 L276.4 779.8 L276.7 779.1 L277.1 780.4 L277.4 779.9 L277.8 782 L278.1 782.3 L278.4 780.8 L278.8 779.8 L279.1 780.9 L279.5 781.7 L279.9 782.4 L280.2 778.9 L280.6 776.8 L280.9 778.8 L281.2 782.2 L281.6 781.4 L281.9 780.7 L282.3 780.7 L282.6 776.8 L283 774 L283.4 777.1 L283.7 779.8 L284.1 779.6 L284.4 774.5 L284.8 770.2 L285.1 773.2 L285.4 776.2 L285.8 775.9 L286.1 775.2 L286.5 772.8 L286.9 769.5 L287.2 769.8 L287.6 772.5 L287.9 771.7 L288.2 771.9 L288.6 769.9 L288.9 769.8 L289.3 766.3 L289.6 764.6 L290 764.5 L290.4 764.8 L290.7 762.3 L291.1 760.7 L291.4 759.9 L291.8 756.8 L292.1 757.1 L292.4 756.2 L292.8 753.9 L293.1 754.8 L293.5 756.2 L293.9 756.8 L294.2 756.8 L294.6 758.7 L294.9 761.3 L295.2 763 L295.6 761.6 L295.9 760.9 L296.3 761 L296.6 760.8 L297 760.4 L297.4 759.5 L297.7 759.4 L298.1 760.9 L298.4 759.6 L298.8 759.8 L299.1 757.7 L299.4 754.8 L299.8 756.1 L300.1 759.1 L300.5 760.6 L300.9 761.8 L301.2 762 L301.6 758.8 L301.9 753.8 L302.2 756.1 L302.6 757.4 L302.9 754 L303.3 752.5 L303.6 752 L304 751.7 L304.4 751.7 L304.7 751.1 L305.1 751.1 L305.4 748.8 L305.8 747.6 L306.1 747 L306.4 751.2 L306.8 753.2 L307.1 754.4 L307.5 753.5 L307.9 752.2 L308.2 750.8 L308.6 746.8 L308.9 743.4 L309.2 743.7 L309.6 745.1 L309.9 745.8 L310.3 744.2 L310.6 743.1 L311 742.1 L311.4 736.1 L311.7 732.1 L312.1 734.1 L312.4 738.1 L312.8 739.9 L313.1 740.2 L313.4 738.7 L313.8 738.2 L314.1 739.2 L314.5 741.2 L314.9 741.2 L315.2 738.9 L315.6 736.6 L315.9 735.4 L316.2 734.8 L316.6 733.1 L316.9 731.4 L317.3 730.1 L317.6 730.9 L318 736.1 L318.4 739.5 L318.7 738.5 L319.1 739.7 L319.4 744 L319.8 748 L320.1 745.5 L320.4 742.4 L320.8 740.9 L321.1 745 L321.5 746.5 L321.9 747.2 L322.2 747.1 L322.6 744.6 L322.9 743.1 L323.2 747 L323.6 749.5 L323.9 751.7 L324.3 753.9 L324.6 755.3 L325 757.8 L325.4 759 L325.7 757 L326.1 756.8 L326.4 758.4 L326.8 759 L327.1 760.4 L327.4 759.4 L327.8 759.5 L328.1 758.1 L328.5 754.8 L328.9 756.9 L329.2 760 L329.6 760.5 L329.9 760.8 L330.2 761.4 L330.6 762 L330.9 761.8 L331.3 761.7 L331.6 760.9 L332 763.1 L332.4 762.7 L332.7 759.4 L333.1 756.1 L333.4 760.6 L333.8 763.7 L334.1 764.4 L334.4 764.3 L334.8 764.8 L335.1 765 L335.5 763.1 L335.9 764.1 L336.2 765.7 L336.6 765.1 L336.9 764.9 L337.2 765.1 L337.6 765.5 L337.9 764.4 L338.3 764.4 L338.6 762.9 L339 761.9 L339.4 762.8 L339.7 764.4 L340.1 763.6 L340.4 764.6 L340.8 767.2 L341.1 770.7 L341.4 773.6 L341.8 777 L342.1 777.7 L342.5 779.3 L342.9 781 L343.2 783.1 L343.6 784.8 L343.9 785.6 L344.2 786.1 L344.6 787.4 L344.9 786.3 L345.3 783.4 L345.6 787.8 L346 791.8 L346.4 794.5 L346.7 796.9 L347.1 797.5 L347.4 799.4 L347.8 801.2 L348.1 803.4 L348.4 804.6 L348.8 806 L349.1 806.1 L349.5 807.8 L349.9 810.7 L350.2 812.5 L350.6 813.7 L350.9 814.6 L351.2 815.9 L351.6 817.4 L351.9 818.3 L352.3 820.2 L352.6 821.9 L353 823.2 L353.4 823.7 L353.7 825.1 L354.1 826.7 L354.4 827.8 L354.8 828 L355.1 828.8 L355.4 830.4 L355.8 832.8 L356.1 834 L356.5 834.5 L356.9 834.1 L357.2 834.2 L357.6 833.4 L357.9 832.7 L358.2 832.5 L358.6 833.4 L358.9 833.2 L359.3 833.9 L359.6 833.6 L360 835.1 L360.4 836.8 L360.7 837.9 L361.1 838.8 L361.4 839.3 L361.8 839.8 L362.1 840 L362.4 840.3 L362.8 839.9 L363.1 839.1 L363.5 840.5 L363.9 841.9 L364.2 842.1 L364.6 841.7 L364.9 841.5 L365.2 842.4 L365.6 843 L365.9 842.9 L366.3 842.4 L366.6 843 L367 843.9 L367 849.2 L241 849.2 Z" fill="#c0c0c0"/>
<path d="M240.8 848.2 L241 737.8 L241.2 764.8 L241.5 792.2 L241.7 803.7 L242 824.5 L242.2 835.8 L242.4 835.2 L242.8 833.4 L243.2 833.7 L243.7 831.7 L244 830.6 L244 829.8 L244.4 829.4 L244.8 829.6 L245.2 826.3 L245.7 824.7 L246 823.6 L246.4 821.3 L246.5 820.5 L246.8 820.1 L247.2 818.4 L247.7 817.7 L248 818.1 L248.4 817.6 L248.8 817.3 L249.2 815.1 L249.7 815.7 L250 814 L250.4 813.3 L250.8 812.8 L251.2 813.4 L251.7 811.9 L252 812.5 L252.4 813.2 L252.8 815.4 L253.2 812.4 L253.7 810.6 L254 812 L254.4 809 L254.8 810.7 L255.2 812.1 L255.7 810.5 L256.1 807.1 L256.4 805 L256.9 803.1 L257.2 804.3 L257.6 805.6 L258.1 801.9 L258.4 798 L258.9 796.1 L259.2 796.1 L259.6 793.3 L260.1 787.3 L260.4 787.6 L260.9 787.8 L261.2 782.6 L261.6 780.8 L262.1 779.7 L262.4 776.4 L262.9 774.9 L263.2 774.8 L263.6 770 L264.1 769.2 L264.4 765.3 L264.9 754.7 L265.2 752.1 L265.6 748.1 L266.1 743.1 L266.4 741.3 L266.9 744.3 L267.2 745.2 L267.6 741.1 L268.1 738.7 L268.4 742 L268.9 743.2 L269.2 743.3 L269.6 737.2 L270.1 731.1 L270.4 725.7 L270.9 731 L271.2 732 L271.6 738 L272.1 733.8 L272.4 730.2 L272.9 728.9 L273.2 730.3 L273.6 732.5 L274.1 736.9 L274.4 739 L274.9 735.1 L275.2 733.7 L275.6 728.4 L276.1 729 L276.4 729.2 L276.9 735.3 L277.2 735.9 L277.6 742.8 L278.1 749.3 L278.4 752.5 L278.9 761.3 L279.2 771.5 L279.6 777.7 L280.1 780.8 L280.4 787.1 L280.9 794.9 L281.2 795.2 L281.6 793.6 L282.1 796.1 L282.4 796 L282.9 797.7 L283.2 800.5 L283.6 805.4 L284.1 808.4 L284.4 806.6 L284.9 808.2 L285.2 810.7 L285.6 811.4 L286.1 813 L286.4 812.3 L286.9 811.8 L287.2 813.7 L287.6 816.2 L288.1 816.4 L288.4 813.8 L288.9 811.5 L289.2 816 L289.6 818.3 L290.1 816.5 L290.4 816.7 L290.9 816 L291.2 816.3 L291.6 816.3 L292.1 818.4 L292.4 819.7 L292.9 821.5 L293.2 820.1 L293.6 818.4 L294.1 817.4 L294.4 816.5 L294.9 819.2 L295.2 819.7 L295.6 819.3 L296.1 816.8 L296.4 819.6 L296.9 822 L297.2 821.3 L297.6 821.7 L298.1 819.9 L298.4 819.3 L298.9 817 L299.2 816.1 L299.6 815.9 L300.1 814.5 L300.4 813.9 L300.9 810.5 L301.2 808.7 L301.6 806.7 L302.1 805.2 L302.4 805 L302.9 804 L303.2 803.9 L303.6 805.8 L304.1 809.3 L304.4 810.8 L304.9 814.5 L305.2 814.8 L305.6 813.7 L306.1 815.9 L306.4 815.7 L306.9 816.6 L307.2 814.4 L307.6 815.7 L308.1 812 L308.4 809.9 L308.9 806 L309.2 808.7 L309.6 808.2 L310.1 805.8 L310.4 804.9 L310.9 802.5 L311.2 801 L311.6 804.3 L312.1 804.9 L312.4 802.8 L312.9 802.9 L313.2 800.8 L313.6 800.4 L314.1 797.3 L314.4 796.4 L314.9 800.2 L315.2 800.9 L315.6 800.9 L316.1 800.7 L316.4 799.9 L316.9 799.1 L317.2 801.3 L317.6 800.5 L318.1 801.9 L318.4 803.4 L318.9 803.9 L319.2 807.1 L319.6 805 L320.1 801.4 L320.4 804.4 L320.9 806.2 L321.2 810.2 L321.6 811.3 L322.1 811 L322.4 813.9 L322.9 813.4 L323.2 816.2 L323.6 815.7 L324.1 815.2 L324.4 814.7 L324.9 814.6 L325.2 816.9 L325.6 818.6 L326.1 818.7 L326.4 818.1 L326.9 822.8 L327.2 825.3 L327.6 824.7 L328.1 824.9 L328.4 826.8 L328.9 826.5 L329.2 828 L329.6 828.5 L330.1 829.6 L330.4 829.9 L330.9 830.8 L331.2 832.1 L331.6 833.4 L332.1 832.9 L332.4 834.4 L332.9 833.4 L333.2 834.4 L333.6 836.4 L334.1 834.2 L334.4 834.1 L334.9 833.2 L335.2 832.8 L335.6 834.9 L336.1 837 L336.4 836.8 L336.9 836.7 L337.2 837.8 L337.6 839.6 L338.1 840 L338.4 840.3 L338.9 840.3 L339.2 840.3 L339.6 839.7 L340.1 839.7 L340.4 841.7 L340.9 842.3 L341.2 843.2 L341.6 843.5 L342.1 842.8 L342.4 842 L342.9 842.2 L343.2 841.8 L343.6 841.9 L344.1 842 L344.4 842.2 L344.9 843.4 L345.2 843 L345.6 842.8 L346.1 843.3 L346.4 843.4 L346.9 843.4 L347.2 843.5 L347.6 844 L348.1 844.4 L348.4 844.2 L348.9 844 L349.2 844.2 L349.6 844 L350.1 844.4 L350.4 844.5 L350.9 844.8 L351.2 844.2 L351.6 844.5 L352.1 844.2 L352.4 844 L352.9 844.9 L353.2 844.5 L353.6 844.6 L354.1 844.3 L354.4 844.7 L354.9 845.2 L355.2 845.5 L355.6 845.6 L356.1 845.9 L356.4 845.7 L356.9 845 L357.2 845.4 L357.6 845.7 L358.1 845.4 L358.4 845.1 L358.9 845.5 L359.2 845.9 L359.6 845.7 L360.1 845.3 L360.4 845.4 L360.9 845.4 L361.2 845 L361.6 845 L362.1 845.7 L362.4 845.6 L362.9 845.7 L363.2 846.1 L363.6 846 L364.1 845.7 L364.4 845.8 L364.9 846.1 L365.2 845.4 L365.6 845.3 L366.1 845 L366.4 845 L366.9 845.6" fill="none" stroke="#000" stroke-width="2.8" stroke-linejoin="miter" stroke-miterlimit="6"/>
</g>
<g clip-path="url(#cFSP)">
<path d="M387 841.7 L387.4 840.1 L387.7 839.1 L388.1 839.5 L388.4 839.6 L388.8 839.1 L389.1 838.6 L389.4 838 L389.8 837.6 L390.1 836.5 L390.5 835.1 L390.9 833.2 L391.2 834.1 L391.6 834 L391.9 833.4 L392.2 832.4 L392.5 831.1 L392.6 830.2 L392.9 829.7 L393.3 830 L393.6 830.4 L394 829.4 L394.4 829.1 L394.7 828.2 L395.1 827 L395.4 826.2 L395.8 826.2 L396.1 826.5 L396.4 825.7 L396.8 824.8 L397.1 824.3 L397.5 822.4 L397.9 819.8 L398.2 820.9 L398.6 822.9 L398.8 823.2 L398.9 822.5 L399.2 821.2 L399.6 820.2 L399.9 817.6 L400.3 815.9 L400.6 816.3 L401 816.6 L401.4 816.5 L401.7 815.9 L402.1 814.9 L402.4 812.9 L402.8 811.6 L403.1 811.6 L403.4 811.3 L403.8 811.5 L404.1 810.4 L404.5 809.1 L404.9 807.2 L405 807 L405.2 806.6 L405.6 804.9 L405.9 802.9 L406.2 802 L406.6 801.9 L406.9 801.3 L407.3 799.9 L407.6 798.3 L408 795.4 L408.4 794.4 L408.7 795.5 L409.1 796.6 L409.4 795.1 L409.8 794 L410 793 L410.1 792.8 L410.4 791.6 L410.8 790.5 L411.1 788.7 L411.5 787.4 L411.9 788 L412.2 788 L412.6 787.2 L412.9 785.3 L413.2 785.3 L413.6 783.6 L413.8 783 L413.9 783.2 L414.3 780.7 L414.6 778.1 L415 775.9 L415.4 778.6 L415.7 779.6 L416.1 777.8 L416.4 776.5 L416.8 778.1 L417.1 778.3 L417.4 776.6 L417.8 773.2 L418.1 771.4 L418.5 775.3 L418.9 777.3 L419.2 777 L419.6 776.8 L419.9 777.8 L420.2 776.9 L420.6 773.7 L420.9 774.7 L421.3 778.2 L421.6 779.9 L422 778.8 L422.4 778.5 L422.7 779.8 L423.1 781.4 L423.4 781.6 L423.8 780.9 L424.1 782 L424.4 781.7 L424.8 782.6 L425.1 781.6 L425.5 782.1 L425.9 782.3 L426.2 781.7 L426.6 782 L426.9 781.4 L427.2 778.5 L427.6 778.3 L427.9 780.8 L428.3 781.9 L428.6 781.7 L429 780.9 L429.4 780 L429.7 779.8 L430.1 777.2 L430.4 776.4 L430.8 776.3 L431.1 777.4 L431.4 777.2 L431.8 775.8 L432.1 775.2 L432.5 773.9 L432.9 773.1 L433.2 772.6 L433.6 772 L433.9 770.1 L434.2 770.6 L434.6 767.9 L434.9 764.5 L435.3 766.5 L435.6 767.6 L436 764.7 L436.4 763 L436.7 762.7 L437.1 762.1 L437.4 761.2 L437.8 758.1 L438.1 756.7 L438.4 752.4 L438.8 749.6 L439.1 753.1 L439.5 756.4 L439.9 754.6 L440.2 752.5 L440.6 755.5 L440.9 760.1 L441.2 763 L441.6 762.5 L441.9 762.9 L442.3 760.4 L442.6 757.3 L443 758.2 L443.4 760.3 L443.7 759.8 L444.1 760 L444.4 758.6 L444.8 758.6 L445.1 757.1 L445.4 755.6 L445.8 757.3 L446.1 759.3 L446.5 761 L446.9 760.5 L447.2 762.2 L447.6 762.1 L447.9 758.7 L448.2 757.8 L448.6 757.5 L448.9 756.2 L449.3 754.8 L449.6 753.7 L450 751.8 L450.4 751 L450.7 748.9 L451.1 749.4 L451.4 751.7 L451.8 752.8 L452.1 751.5 L452.4 749.5 L452.8 751.4 L453.1 752.9 L453.5 750.8 L453.9 745.8 L454.2 745.4 L454.6 748.5 L454.9 747.8 L455.2 743.3 L455.6 742.7 L455.9 742.8 L456.3 742.7 L456.6 741.2 L457 739.7 L457.4 739 L457.7 739.4 L458.1 738.3 L458.4 737.2 L458.8 738.8 L459.1 741.9 L459.4 739.7 L459.8 739.7 L460.1 739.9 L460.5 742.5 L460.9 740.3 L461.2 740.2 L461.6 737.1 L461.9 734.1 L462.2 733 L462.6 733.3 L462.9 732 L463.3 730.2 L463.6 731.3 L464 734.2 L464.4 737 L464.7 738.3 L465.1 741.2 L465.4 744.9 L465.8 748.4 L466.1 748.9 L466.4 747.6 L466.8 748.4 L467.1 747.9 L467.5 747 L467.9 743.9 L468.2 740.2 L468.6 740.2 L468.9 744.2 L469.2 747.4 L469.6 747.9 L469.9 748.8 L470.3 748.2 L470.6 752 L471 755.8 L471.4 757.9 L471.7 757.9 L472.1 758.2 L472.4 758.1 L472.8 756.4 L473.1 757 L473.4 757.6 L473.8 758.2 L474.1 759.2 L474.5 758.7 L474.9 760.1 L475.2 759.9 L475.6 759.8 L475.9 758.2 L476.2 758.8 L476.6 760.2 L476.9 761.2 L477.3 761 L477.6 762.6 L478 763.8 L478.4 761.4 L478.7 759.5 L479.1 760.5 L479.4 762.7 L479.8 762.6 L480.1 762.9 L480.4 763.5 L480.8 764.3 L481.1 764.9 L481.5 764.5 L481.9 762.9 L482.2 763.8 L482.6 765.4 L482.9 765.1 L483.2 762.3 L483.6 761.1 L483.9 764.1 L484.3 765 L484.6 764.4 L485 762.8 L485.4 762.4 L485.7 763.6 L486.1 764.5 L486.4 765.7 L486.8 769 L487.1 769 L487.4 769.1 L487.8 773.9 L488.1 778.6 L488.5 781.2 L488.9 781.9 L489.2 782.8 L489.6 783.9 L489.9 784.2 L490.2 786.5 L490.6 787.6 L490.9 789.9 L491.3 790.5 L491.6 791.1 L492 793 L492.4 794.2 L492.7 796.1 L493.1 798.7 L493.4 800.5 L493.8 801.1 L494.1 802.2 L494.4 805.1 L494.8 807.1 L495.1 808.4 L495.5 809.8 L495.9 809.9 L496.2 809.4 L496.6 811.4 L496.9 814.6 L497.2 815.5 L497.6 816.6 L497.9 817.6 L498.3 819.8 L498.6 822 L499 823.8 L499.4 824.5 L499.7 825.9 L500.1 826.8 L500.4 827.8 L500.8 828.8 L501.1 829 L501.4 831.2 L501.8 832.9 L502.1 833.9 L502.5 834.8 L502.9 834.9 L503.2 833.3 L503.6 831.8 L503.9 831.9 L504.2 833.6 L504.6 833.4 L504.9 833.1 L505.3 833.4 L505.6 833.3 L506 834.8 L506.4 836.6 L506.7 837.7 L507.1 838.1 L507.4 838.4 L507.8 838.4 L508.1 839.8 L508.4 840.2 L508.8 839.4 L509.1 838.6 L509.5 840.1 L509.9 841.7 L510.2 842.3 L510.6 842.7 L510.9 842.9 L511.2 843.4 L511.6 843.5 L511.9 843.5 L512.3 842.7 L512.6 842.8 L513 843.7 L513 849.2 L387 849.2 Z" fill="#c0c0c0"/>
<path d="M386.9 848.2 L387 793.8 L387.2 808.9 L387.5 825.1 L387.7 827.4 L388.1 832.7 L388.2 835.5 L388.5 834.9 L388.9 834.1 L389.2 833.8 L389.7 834.3 L390.1 834 L390.5 834.1 L390.9 833.6 L391.2 833.7 L391.7 833 L392.1 831.8 L392.5 830.7 L392.9 830.4 L393.2 829.7 L393.7 828.5 L394.1 828.3 L394.5 827.9 L394.9 828 L395 828.1 L395.2 827.6 L395.7 825.8 L396.1 826 L396.5 826.2 L396.9 825.5 L397.2 824.4 L397.7 824.1 L398.1 823.2 L398.5 823.5 L398.9 823 L399.2 821.4 L399.7 820.9 L400.1 819.7 L400.5 818 L400.9 817.4 L401.2 817.1 L401.7 816 L402.1 815.9 L402.5 814.8 L402.9 813.2 L403.2 811.9 L403.7 810.8 L404.1 808.5 L404.5 806.7 L404.9 806 L405.2 804.8 L405.7 802.2 L406.1 801.7 L406.5 799.9 L406.9 798 L407.2 796.2 L407.7 796.7 L408.1 793.9 L408.5 791.5 L408.9 788 L409.2 785.4 L409.7 784.4 L410.1 782.7 L410.5 779.7 L410.9 776.5 L411.2 775.1 L411.7 772.7 L412.1 768.7 L412.5 763.7 L412.9 763 L413.2 760.9 L413.7 759.1 L414.1 756.6 L414.5 754.3 L414.9 750.8 L415.2 747.7 L415.7 745.9 L416.1 744.7 L416.5 744 L416.9 741.5 L417.2 738.1 L417.7 737.7 L418.1 735.2 L418.5 735.6 L418.9 734.3 L419.2 732.6 L419.7 731.5 L420.1 732.9 L420.5 732.4 L420.9 729.3 L421.2 727.3 L421.7 724.7 L422.1 723.8 L422.5 723.7 L422.9 724.1 L423.2 728 L423.7 731 L424.1 734.6 L424.5 738 L424.9 736.8 L425.2 738.8 L425.7 741.8 L426.1 746.3 L426.5 749.4 L426.9 753 L427.2 754.3 L427.7 756 L428.1 759.7 L428.5 765 L428.9 768.8 L429.2 772.5 L429.7 775.4 L430.1 777.8 L430.5 781.5 L430.9 785.6 L431.2 787.8 L431.7 790 L432.1 793.8 L432.5 794.9 L432.9 799.6 L433.2 802.3 L433.7 803.8 L434.1 806 L434.5 807.6 L434.9 809.8 L435.2 811.9 L435.7 813.8 L436.1 815.7 L436.5 817.5 L436.9 820.4 L437.2 821.8 L437.7 822.7 L438.1 822.5 L438.5 824.6 L438.9 826.7 L439.2 827.1 L439.7 827 L440.1 828.1 L440.5 829 L440.9 830.5 L441.2 831.4 L441.7 832.3 L442.1 832.6 L442.5 833.2 L442.9 833.9 L443.2 833.5 L443.7 833.5 L444.1 833.9 L444.5 834.5 L444.9 835 L445.2 835.5 L445.7 836.1 L446.1 837.3 L446.5 836.9 L446.9 837 L447.2 836.9 L447.7 837.2 L448.1 837.3 L448.5 836.8 L448.9 837.2 L449.2 836.9 L449.7 837.1 L450.1 836.9 L450.5 837.5 L450.9 837.5 L451.2 838.2 L451.7 838.4 L452.1 837.6 L452.5 837.3 L452.9 837.2 L453.2 837.8 L453.7 838 L454.1 838.5 L454.5 838.3 L454.9 838 L455.2 838.7 L455.7 838.6 L456.1 838.6 L456.5 838.5 L456.9 838.9 L457.2 838.7 L457.7 838.7 L458.1 838.4 L458.5 838.7 L458.9 839.3 L459.2 839.1 L459.7 838.8 L460.1 838.8 L460.5 838.2 L460.9 839 L461.2 838.7 L461.7 839 L462.1 838.7 L462.5 839.1 L462.9 839.5 L463.2 839.5 L463.7 840 L464.1 839.9 L464.5 839.6 L464.9 839.5 L465.2 839.6 L465.7 840.2 L466.1 840.1 L466.5 840.2 L466.9 840.3 L467.2 840 L467.7 840.7 L468.1 840.7 L468.5 840.8 L468.9 840.9 L469.2 840.6 L469.7 840.7 L470.1 840.8 L470.5 840.6 L470.9 840.6 L471.2 840.7 L471.7 840.4 L472.1 840 L472.5 839.8 L472.9 840.3 L473.2 840.9 L473.7 840.9 L474.1 840.1 L474.5 840.8 L474.9 841.7 L475.2 841.6 L475.7 841.7 L476.1 841.6 L476.5 842 L476.9 842 L477.2 842.5 L477.7 842 L478.1 841.8 L478.5 842 L478.9 842.6 L479.2 842.5 L479.7 842.5 L480.1 842 L480.5 841.8 L480.9 842.3 L481.2 842.9 L481.7 842.9 L482.1 843.1 L482.5 843 L482.9 842.8 L483.2 843.3 L483.7 843.1 L484.1 843.5 L484.5 843.5 L484.9 843.4 L485.2 843.5 L485.7 843.8 L486.1 843.7 L486.5 844.1 L486.9 844 L487.2 844.1 L487.7 844.3 L488.1 844.4 L488.5 844.6 L488.9 844.6 L489.2 844.7 L489.7 844.8 L490.1 844.9 L490.5 844.8 L490.9 844.7 L491.2 845 L491.7 845.3 L492.1 845.3 L492.5 845.3 L492.9 845.3 L493.2 845.4 L493.7 845.1 L494.1 845.1 L494.5 845.4 L494.9 845.6 L495.2 845.5 L495.7 845.2 L496.1 845.2 L496.5 845.3 L496.9 845.6 L497.2 845.5 L497.7 845.6 L498.1 845.5 L498.5 845.8 L498.9 845.7 L499.2 845.8 L499.7 845.6 L500.1 845.8 L500.5 845.7 L500.9 845.8 L501.2 845.9 L501.7 845.8 L502.1 845.7 L502.5 845.7 L502.9 845.6 L503.2 845.8 L503.7 845.9 L504.1 845.8 L504.5 845.6 L504.9 845.6 L505.2 845.7 L505.7 845.5 L506.1 845.6 L506.5 845.8 L506.9 846 L507.2 845.9 L507.7 846 L508.1 845.8 L508.5 845.8 L508.9 846 L509.2 846 L509.7 845.9 L510.1 845.7 L510.5 845.9 L510.9 845.8 L511.2 845.9 L511.7 845.8 L512.1 846 L512.5 846.2 L512.9 846" fill="none" stroke="#000" stroke-width="2.8" stroke-linejoin="miter" stroke-miterlimit="6"/>
</g>
<g clip-path="url(#cGBM)">
<path d="M96 981.8 L96.3 981.5 L96.7 981.3 L97 980.9 L97.4 980.1 L97.8 978.5 L98.1 977.8 L98.5 978.7 L98.8 978.7 L99.2 977.9 L99.5 977.1 L99.8 976.4 L100.2 976.7 L100.2 976.4 L100.5 976.2 L100.9 975.7 L101.2 973.6 L101.6 971.9 L102 972.3 L102.3 972.6 L102.7 972 L103 971.2 L103.3 970.8 L103.7 970.8 L104 969.8 L104.4 968.5 L104.8 968.1 L105.1 967.6 L105.2 967.6 L105.5 966.9 L105.8 966.7 L106.2 965.5 L106.5 964.7 L106.8 963.2 L107.2 961.5 L107.5 960.5 L107.9 959.8 L108.2 959.2 L108.6 958.7 L109 957.8 L109.3 956.8 L109.7 956 L110 954 L110.2 953.5 L110.3 953.5 L110.7 952.5 L111 952.3 L111.4 951.2 L111.8 950.6 L112.1 949 L112.5 948 L112.8 946.2 L113.2 943.8 L113.5 941.6 L113.8 941.3 L114.2 941.2 L114.5 940 L114.9 938.9 L115.2 938.2 L115.6 935.5 L116 933 L116.3 929.9 L116.7 928 L117 927.1 L117.3 927.2 L117.7 925.4 L118 920.9 L118.4 919.7 L118.8 920.4 L119 919.1 L119.1 919.1 L119.5 917 L119.8 916.3 L120.2 914.8 L120.5 912.5 L120.8 910.3 L121.2 907.1 L121.5 905 L121.9 902.5 L122.2 899.9 L122.6 898.9 L123 898.1 L123.3 898.1 L123.7 895.1 L124 893.1 L124.3 890.9 L124.7 888.3 L125 886.6 L125.4 887.3 L125.8 888.1 L126.1 887 L126.5 886.2 L126.8 883.2 L127.2 878.6 L127.5 874 L127.8 877.3 L128.2 881.4 L128.6 880.3 L128.9 880 L129.2 880.5 L129.6 877.5 L129.9 877.4 L130.3 881.4 L130.7 885.4 L131 886.8 L131.3 888.6 L131.7 890 L132.1 891.2 L132.4 888.1 L132.8 888.3 L133.1 895.4 L133.4 899.5 L133.8 902.6 L134.2 903.3 L134.5 906.4 L134.8 907.1 L135.2 909.5 L135.6 909.1 L135.9 909 L136.2 913.2 L136.6 916.4 L136.9 918.4 L137.3 919.1 L137.7 918.5 L138 919.1 L138.3 921.8 L138.7 923.1 L139.1 923.4 L139.4 922.6 L139.8 923 L140.1 923.5 L140.4 925.9 L140.8 927.2 L141.2 927.8 L141.5 926.8 L141.8 924 L142.2 922.8 L142.6 924.7 L142.9 926 L143.2 924.4 L143.6 922.5 L143.9 924.9 L144.3 927 L144.7 927.4 L145 928.4 L145.3 928.7 L145.7 928.2 L146.1 927.6 L146.4 925.8 L146.8 922 L147.1 923.3 L147.4 926.4 L147.8 926.7 L148.2 927 L148.5 925.6 L148.8 924.9 L149.2 925.9 L149.6 923.1 L149.9 920.1 L150.2 923.2 L150.6 927.1 L150.9 928.9 L151.3 929.6 L151.7 930 L152 928.1 L152.3 929.4 L152.7 931.8 L153.1 934.5 L153.4 933.6 L153.8 931.4 L154.1 933.1 L154.4 937.2 L154.8 937.8 L155.2 938.8 L155.5 940.5 L155.8 940.8 L156.2 941.6 L156.6 942.3 L156.9 942.4 L157.2 941.3 L157.6 940.8 L157.9 940.6 L158.3 940.1 L158.7 938.6 L159 934.7 L159.3 934.3 L159.7 937.1 L160.1 939.2 L160.4 940 L160.8 942.1 L161.1 942.9 L161.4 943.7 L161.8 944.7 L162.1 945.7 L162.5 944.9 L162.8 944.7 L163.2 942.4 L163.6 940 L163.9 941.1 L164.2 942.1 L164.6 941 L164.9 939.3 L165.3 937.5 L165.6 938.1 L166 939.7 L166.3 939.3 L166.7 938.1 L167.1 938 L167.4 938.6 L167.8 937.5 L168.1 935.8 L168.4 936.7 L168.8 938.2 L169.1 938.3 L169.5 939.2 L169.8 939.4 L170.2 939.4 L170.6 939.5 L170.9 937.7 L171.2 935.6 L171.6 938.5 L171.9 940.4 L172.3 940.2 L172.6 940.4 L173 940.8 L173.3 940.2 L173.7 940.4 L174.1 939.2 L174.4 938.7 L174.8 939.1 L175.1 939.6 L175.4 939.9 L175.8 940.6 L176.1 940.1 L176.5 936.9 L176.8 934.4 L177.2 937.4 L177.6 940.3 L177.9 941.8 L178.2 941.4 L178.6 940.1 L178.9 938 L179.3 940.7 L179.6 942.7 L180 943.6 L180.3 943.5 L180.7 943.6 L181.1 945.9 L181.4 947.1 L181.8 947 L182.1 947.3 L182.4 948.1 L182.8 947.9 L183.1 948.8 L183.5 948.4 L183.8 946.5 L184.2 946.6 L184.6 946.8 L184.9 947.8 L185.2 945.9 L185.6 944.7 L185.9 945.7 L186.3 946.7 L186.6 947 L187 945.4 L187.3 943.2 L187.7 944 L188.1 944.6 L188.4 945.4 L188.8 946.6 L189.1 946.6 L189.4 947.1 L189.8 946.7 L190.1 943.9 L190.5 941.5 L190.8 943.7 L191.2 947 L191.6 947.9 L191.9 948.2 L192.2 947.2 L192.6 945.7 L192.9 942.1 L193.3 939.7 L193.6 940.7 L194 942.8 L194.3 942.3 L194.7 941.8 L195.1 940.8 L195.4 937.9 L195.8 938.2 L196.1 939.9 L196.4 940.8 L196.8 941.1 L197.1 940.5 L197.5 939.1 L197.8 936.4 L198.2 935.5 L198.6 936.5 L198.9 936.7 L199.2 937.3 L199.6 937.7 L199.9 937.9 L200.3 940 L200.6 942.9 L201 943.5 L201.3 943.2 L201.7 943.7 L202.1 946.1 L202.4 948.3 L202.8 949.5 L203.1 950 L203.4 951 L203.8 950.6 L204.1 950.6 L204.5 951 L204.8 952.2 L205.2 952.8 L205.6 953.7 L205.9 953.7 L206.2 954.2 L206.6 953.5 L206.9 952.3 L207.3 953.9 L207.6 956.4 L208 957 L208.3 957.9 L208.7 958.8 L209.1 958.2 L209.4 958 L209.8 959.4 L210.1 961.6 L210.4 962.6 L210.8 963 L211.1 964.4 L211.5 965.2 L211.8 966.1 L212.2 966.9 L212.6 967.6 L212.9 967.9 L213.2 968.6 L213.6 968.9 L213.9 968.8 L214.3 969.8 L214.6 971.3 L215 972.3 L215.3 973.6 L215.7 974.2 L216.1 974.9 L216.4 975.8 L216.8 976.2 L217.1 977.1 L217.4 978.5 L217.8 979.3 L218.1 979.9 L218.5 980.6 L218.8 981.2 L219.2 981.2 L219.6 980.6 L219.9 980.9 L220.2 982.5 L220.6 983.7 L220.9 984 L221.3 984.3 L221.3 988.4 L96 988.4 Z" fill="#c0c0c0"/>
<path d="M96 973.8 L96.8 973.9 L97.7 974.1 L98.5 974.1 L99.4 974 L100.2 974.1 L100.6 973.6 L101 972.8 L101.3 972.1 L101.7 971.4 L102 970.5 L102.4 969.9 L102.8 969.1 L103.1 968.3 L103.5 967.5 L103.8 966.8 L104.2 966.2 L104.5 965.4 L104.9 964.7 L105.2 963.9 L105.5 963.2 L105.8 962.4 L106.1 961.8 L106.4 961.2 L106.7 960.6 L107 960.2 L107.3 959.4 L107.6 958.5 L107.9 957.7 L108.2 956.8 L108.5 955.9 L108.8 955.1 L109.1 954.4 L109.4 953.4 L109.7 952.7 L110 951.8 L110.2 950.8 L110.4 950 L110.6 949.3 L110.8 948.8 L111 948.2 L111.2 947.5 L111.4 947 L111.5 946.3 L111.7 945.8 L111.9 945.2 L112.1 944.5 L112.3 944 L112.5 943.1 L112.7 942.3 L112.8 941.7 L113 940.8 L113.2 940.1 L113.4 939.4 L113.6 938.6 L113.8 937.8 L113.9 937 L114.1 936.4 L114.3 935.5 L114.5 934.8 L114.6 933.9 L114.8 933 L114.9 932.1 L115 931.2 L115.2 930.5 L115.3 929.5 L115.4 928.9 L115.5 927.9 L115.7 926.9 L115.8 926.3 L115.9 925.5 L116.1 924.3 L116.2 923.8 L116.3 922.9 L116.5 921.9 L116.6 920.9 L116.7 919.9 L116.8 919.4 L117 918.6 L117.1 918 L117.2 917.1 L117.4 916.5 L117.5 915.7 L117.6 914.9 L117.8 914.3 L117.8 913.3 L118 912.8 L118 911.8 L118.2 910.9 L118.2 910.4 L118.3 909.7 L118.5 908.6 L118.5 907.8 L118.7 906.8 L118.8 906.2 L118.8 905.3 L119 904.4 L119 903.3 L119.2 902.4 L119.2 901.7 L119.3 900.8 L119.5 899.8 L119.5 899.2 L119.7 898.2 L119.8 897.2 L119.8 896.5 L120 895.3 L120 894.8 L120.2 893.7 L120.2 893.1 L120.4 892.3 L120.5 891.4 L120.6 890.9 L120.7 890.1 L120.8 889.2 L120.9 888.1 L121 887.4 L121.1 886.9 L121.2 885.8 L121.3 885.1 L121.4 884.3 L121.5 883.4 L121.6 882.5 L121.7 881.9 L121.8 881.1 L121.9 880.3 L122 879.4 L122.1 879.1 L122.2 878.3 L122.3 877.2 L122.4 876.7 L122.5 875.9 L122.7 875.2 L122.9 874.5 L123 873.6 L123.2 872.8 L123.4 872.2 L123.6 871.3 L123.8 870.4 L124 869.5 L124.1 868.8 L124.3 867.7 L124.5 866.9 L124.9 867.9 L125.3 868.8 L125.7 869.8 L126.1 870.4 L126.5 871.7 L126.6 872.1 L126.7 873.1 L126.7 873.7 L126.8 874.6 L126.9 875.7 L127 876.6 L127.1 877.5 L127.1 878.3 L127.2 879.1 L127.3 879.6 L127.4 880.5 L127.4 881.2 L127.5 882.2 L127.6 882.8 L127.7 884 L127.8 884.8 L127.8 885.6 L127.9 886.5 L128 886.9 L128.1 888.1 L128.1 888.7 L128.2 889.6 L128.2 890.3 L128.3 891 L128.3 891.6 L128.4 892.8 L128.4 893.4 L128.5 894 L128.5 895 L128.6 895.7 L128.6 896.8 L128.7 897.2 L128.8 897.9 L128.8 899.2 L128.9 899.9 L128.9 900.3 L129 901.4 L129 901.9 L129.1 903 L129.1 903.6 L129.2 904.3 L129.2 905.3 L129.3 906.2 L129.3 906.9 L129.4 907.4 L129.4 908.5 L129.5 909.2 L129.6 910.2 L129.6 911 L129.7 911.7 L129.7 912.4 L129.8 913.2 L129.8 913.8 L129.9 914.7 L129.9 915.6 L130 916.1 L130 917.1 L130.1 917.8 L130.1 918.4 L130.2 919.4 L130.2 920.2 L130.3 920.8 L130.3 921.9 L130.4 922.5 L130.4 923.3 L130.5 924 L130.6 924.6 L130.6 925.5 L130.7 926.5 L130.7 927.3 L130.8 927.8 L130.8 928.8 L130.9 929.3 L130.9 930.2 L131 931.1 L131 931.9 L131.1 932.4 L131.1 933.5 L131.2 934.2 L131.2 935.1 L131.3 935.9 L131.3 936.7 L131.4 937.4 L131.4 938.1 L131.5 939 L131.6 940 L131.6 940.9 L131.7 941.7 L131.8 942.4 L131.9 943.1 L131.9 944 L132 944.9 L132.1 945.6 L132.1 946.6 L132.2 947.2 L132.3 948.1 L132.4 949 L132.4 950 L132.5 950.8 L132.6 951.5 L132.6 952.2 L132.7 953.1 L132.8 953.9 L132.9 954.9 L132.9 955.4 L133 956.3 L133.1 957 L133.1 957.8 L133.2 958.6 L133.3 959.3 L133.4 960 L133.4 961 L133.5 961.6 L133.7 962.4 L133.8 963.1 L134 963.8 L134.1 964.5 L134.3 965.2 L134.4 966.2 L134.6 966.9 L134.8 967.6 L134.9 968.5 L135.1 969 L135.2 970 L135.4 970.8 L135.6 971.6 L135.7 972.3 L135.9 973 L136 973.9 L136.2 974.7 L136.3 975.5 L136.5 976.4 L136.9 977.3 L137.4 978.1 L137.8 978.7 L138.3 979.4 L138.8 979.9 L139.2 980.5 L139.7 981.1 L140.1 981.8 L140.6 982.3 L141 983.1 L141.8 983.6 L142.5 984 L143.2 984.1 L144 984.3 L144.8 984.8 L145.5 985.3 L146.2 985.5 L147 985.8 L147.8 986 L148.5 986.2 L149.2 986.4 L150 986.6 L150.8 986.9 L151.5 987" fill="none" stroke="#000" stroke-width="3.0999999999999996" stroke-dasharray="4.2 0.5" stroke-linejoin="round"/>
<path d="M95.8 987.4 L96 966.7 L96.2 969.4 L96.6 971 L97 975.1 L97.4 977.3 L97.5 977.6 L97.8 976.5 L98.2 976.7 L98.6 975.9 L99 975.2 L99.4 975.7 L99.8 976.9 L100.2 976.1 L100.6 974.1 L101 973 L101.4 973.4 L101.8 973.6 L102.2 972.5 L102.6 973 L103 972 L103.4 970.5 L103.8 970.3 L104 970.1 L104.2 970 L104.6 970.5 L105 969 L105.4 967 L105.8 966.4 L106.2 965.4 L106.6 962.8 L107 961.3 L107.4 961.1 L107.8 959.2 L107.8 959.3 L108.2 958.7 L108.6 958.8 L109 957.2 L109.4 955 L109.8 954.1 L110.2 954.4 L110.6 953.5 L111 953 L111.4 952.1 L111.8 951.3 L112.2 948.9 L112.6 948.2 L113 947.1 L113.4 946.8 L113.8 943.5 L114.2 942.8 L114.6 940.9 L115 937.8 L115.4 937 L115.8 936.4 L116.2 934 L116.6 928 L117 927.5 L117.4 927.7 L117.8 926.2 L118.2 925.5 L118.6 919.6 L119 917 L119.4 915.6 L119.8 915.9 L120.2 912.1 L120.6 907.8 L121 905.6 L121.4 903.2 L121.8 901.3 L122.2 897.2 L122.6 898.3 L123 897.4 L123.4 896.7 L123.8 890.4 L124.2 891.5 L124.6 891 L125 888 L125.4 884.5 L125.8 884.2 L126.2 886 L126.6 888.7 L127 888.6 L127.4 885.5 L127.8 878.9 L128.2 876.4 L128.7 874.1 L129.1 872.3 L129.4 873.9 L129.8 869.8 L130.2 865.8 L130.7 861.8 L131.1 864.9 L131.4 870.1 L131.8 872.8 L132.2 878.8 L132.7 885.8 L133.1 890.5 L133.4 892.9 L133.8 897.2 L134.2 899.1 L134.7 900.5 L135.1 899.7 L135.4 903.5 L135.8 902 L136.2 907.7 L136.7 913.2 L137.1 913.5 L137.4 912.2 L137.8 920.7 L138.2 926.8 L138.7 929.1 L139.1 929 L139.4 932.4 L139.8 935 L140.2 936.6 L140.7 936.9 L141.1 942.3 L141.4 944.5 L141.8 946.9 L142.2 949.2 L142.7 952 L143.1 954.8 L143.4 953.4 L143.8 955.2 L144.2 959.1 L144.7 960.7 L145.1 960.1 L145.4 961.1 L145.8 961.7 L146.2 963.5 L146.7 966.7 L147.1 966.7 L147.4 967.5 L147.8 966.8 L148.2 967.4 L148.7 969.9 L149.1 969.8 L149.4 969.8 L149.8 970.4 L150.2 971.9 L150.7 971.6 L151.1 971.7 L151.4 974.2 L151.8 975 L152.2 974.4 L152.7 974 L153.1 975.8 L153.4 977.6 L153.8 977.8 L154.2 978.7 L154.7 978.6 L155.1 978.4 L155.4 978.1 L155.8 978.2 L156.2 979.8 L156.7 980.7 L157.1 980.4 L157.4 981.5 L157.8 981 L158.2 981.1 L158.7 980.9 L159.1 980.9 L159.4 981.6 L159.8 981.8 L160.2 981.5 L160.6 981.4 L161.1 981.3 L161.4 981.9 L161.8 981.4 L162.2 981.4 L162.6 981.5 L163.1 981.7 L163.4 982.3 L163.8 982 L164.2 982.8 L164.6 983.7 L165.1 982.6 L165.4 982.9 L165.8 982.8 L166.2 983.4 L166.6 983 L167.1 982.3 L167.4 983.2 L167.8 982.7 L168.2 982.9 L168.6 983.4 L169.1 983.8 L169.4 983.5 L169.8 983.8 L170.2 983.5 L170.6 983.9 L171.1 984.1 L171.4 983.8 L171.8 983.8 L172.2 983.6 L172.7 984 L173.1 983.6 L173.4 984 L173.8 984 L174.2 983.8 L174.7 984.4 L175.1 984.4 L175.4 984.3 L175.8 984.3 L176.2 984.5 L176.7 984.9 L177.1 984.9 L177.4 984.6 L177.8 984.5 L178.2 984.2 L178.7 984.4 L179.1 984.7 L179.4 985.1 L179.8 985.2 L180.2 985.2 L180.7 984.8 L181.1 985 L181.4 984.4 L181.8 985 L182.2 985.3 L182.7 985.1 L183.1 984.5 L183.4 984.9 L183.8 985 L184.2 985.1 L184.7 985.5 L185.1 985.4 L185.4 985.4 L185.8 985.2 L186.2 985.4 L186.7 985.1 L187.1 985.2 L187.4 984.9 L187.8 984.8 L188.2 985 L188.7 985.5 L189.1 985.1 L189.4 985.4 L189.8 985 L190.2 985.1 L190.7 985.3 L191.1 985.6 L191.4 985.5 L191.8 985 L192.2 985.1 L192.7 985.2 L193.1 985.3 L193.4 985.3 L193.8 985.5 L194.2 985.4 L194.7 985.5 L195.1 985.3 L195.4 985.7 L195.8 985.4 L196.2 985.6 L196.7 985.2 L197.1 985.4 L197.4 985.5 L197.8 985.4 L198.2 985.5 L198.7 985.3 L199.1 985.1 L199.4 985.6 L199.8 985.8 L200.2 985.6 L200.7 985.1 L201.1 985.6 L201.4 985.8 L201.8 985.6 L202.2 985.5 L202.7 985.7 L203.1 985.7 L203.4 985.6 L203.8 985.7 L204.2 985.8 L204.7 985.8 L205.1 985.7 L205.4 985.3 L205.8 985.7 L206.2 985.7 L206.7 985.4 L207.1 985.5 L207.4 985.6 L207.8 985.7 L208.2 985.7 L208.7 985.9 L209.1 985.9 L209.4 985.4 L209.8 985.4 L210.2 985.7 L210.7 985.6 L211.1 985.5 L211.4 985.4 L211.8 985.7 L212.2 985.7 L212.7 985.6 L213.1 985.7 L213.4 985.5 L213.8 985.4 L214.2 985.5 L214.7 985.7 L215.1 985.9 L215.4 985.8 L215.8 985.2 L216.2 985.6 L216.7 985.6 L217.1 985.7 L217.4 985.8 L217.8 985.8 L218.2 985.6 L218.7 985.6 L219.1 985.6 L219.4 985.7 L219.8 986 L220.2 985.8 L220.7 985.5 L221.1 985.5 L221.4 985.4 L221.8 985.6" fill="none" stroke="#000" stroke-width="2.8" stroke-linejoin="miter" stroke-miterlimit="6"/>
</g>
<g clip-path="url(#cGPB)">
<path d="M242.8 984.7 L243.1 983.4 L243.4 982.3 L243.8 981.1 L244.2 979.3 L244.5 977.8 L244.8 976.5 L245.2 975.9 L245.2 975.6 L245.6 975.2 L245.9 975 L246.2 974.6 L246.6 973.7 L246.9 972.7 L247.3 970.8 L247.7 968.3 L248 969 L248.3 969.5 L248.7 968.6 L249.1 967.3 L249.4 964.6 L249.8 964.9 L250.1 965.8 L250.2 965.8 L250.4 965.7 L250.8 964.5 L251.2 963.6 L251.5 962.7 L251.8 962.5 L252.2 960.4 L252.6 957.6 L252.9 957.3 L253.2 959.1 L253.6 959.1 L253.9 958 L254.3 956.8 L254.5 956.6 L254.7 955.8 L255 954.1 L255.3 952.6 L255.7 949.9 L256.1 948.2 L256.4 949 L256.8 948.3 L257.1 946.2 L257.4 943.8 L257.8 942.5 L258 943.1 L258.1 942.3 L258.5 941 L258.9 939.6 L259.2 935.8 L259.6 931.3 L259.9 932.1 L260.2 933.3 L260.5 932.1 L260.6 932.8 L260.9 930.4 L261.3 929.4 L261.6 925.5 L262 922.3 L262.4 920.8 L262.7 921.4 L263.1 920.8 L263.4 919 L263.8 915.4 L264.1 916 L264.4 915.4 L264.8 913.5 L265.1 911 L265.5 908 L265.9 906.3 L266.2 904.7 L266.6 902.3 L266.9 899.7 L267.2 898.9 L267.6 897.2 L267.9 893.6 L268.3 889.8 L268.6 888.1 L269 887 L269.4 886 L269.7 882.4 L270.1 879.4 L270.4 875.5 L270.8 876.7 L271.1 877.1 L271.4 875.8 L271.8 873 L272.1 873.3 L272.5 874.6 L272.9 878.2 L273.2 876.9 L273.6 875.8 L273.9 877.8 L274.2 885.5 L274.6 888.9 L274.9 893 L275.3 896.9 L275.6 896.6 L276 889.6 L276.4 883.6 L276.7 879.1 L277.1 878 L277.4 882.3 L277.8 885 L278.1 888.7 L278.4 889.8 L278.8 892.5 L279.1 900.9 L279.5 907.5 L279.9 912.2 L280.2 914 L280.6 916 L280.9 918.9 L281.2 919.5 L281.6 918.1 L281.9 917.5 L282.3 920.5 L282.6 923.8 L283 923.9 L283.4 924.5 L283.7 923.4 L284.1 924.4 L284.4 926.1 L284.8 926.7 L285.1 927.1 L285.4 926.1 L285.8 924.3 L286.1 924.8 L286.5 925.7 L286.9 926.1 L287.2 926.6 L287.6 924.9 L287.9 925.4 L288.2 926.2 L288.6 926.5 L288.9 926.8 L289.3 925.5 L289.6 926.5 L290 927.3 L290.4 927.7 L290.7 926.3 L291.1 924.6 L291.4 926.4 L291.8 927.6 L292.1 925.3 L292.4 922.7 L292.8 922.5 L293.1 924.9 L293.5 925.8 L293.9 924.5 L294.2 922.5 L294.6 922.1 L294.9 925.6 L295.2 926.7 L295.6 927.2 L295.9 927.6 L296.3 927.4 L296.6 927 L297 929.3 L297.4 931.2 L297.7 933.2 L298.1 934.4 L298.4 935.8 L298.8 936.7 L299.1 936.2 L299.4 934.7 L299.8 937 L300.1 938.3 L300.5 939.5 L300.9 940.7 L301.2 939.3 L301.6 938.5 L301.9 939.5 L302.2 941.2 L302.6 940.1 L302.9 937.1 L303.3 935.4 L303.6 937.8 L304 939.5 L304.4 938 L304.7 938.3 L305.1 938.1 L305.4 936.9 L305.8 939 L306.1 942 L306.4 944.2 L306.8 945.1 L307.1 944.5 L307.5 943.2 L307.9 944 L308.2 944.2 L308.6 943.2 L308.9 942.1 L309.2 941.3 L309.6 940.6 L309.9 940.6 L310.3 939.2 L310.6 936.7 L311 936.3 L311.4 937.9 L311.7 940 L312.1 939.4 L312.4 939.8 L312.8 939.6 L313.1 939.1 L313.4 937.9 L313.8 936.8 L314.1 937.1 L314.5 938 L314.9 937.8 L315.2 938.7 L315.6 939.4 L315.9 936.7 L316.2 933.8 L316.6 937.7 L316.9 940.2 L317.3 940.4 L317.6 940.8 L318 940.9 L318.4 938.3 L318.7 935.7 L319.1 938.3 L319.4 940.9 L319.8 940.8 L320.1 939.9 L320.4 939.1 L320.8 938.2 L321.1 938.7 L321.5 937.8 L321.9 939.1 L322.2 940 L322.6 940.6 L322.9 941.5 L323.2 940.4 L323.6 938.3 L323.9 940.5 L324.3 942.7 L324.6 943.6 L325 944.1 L325.4 943.8 L325.7 943 L326.1 943.4 L326.4 945.7 L326.8 946.1 L327.1 946.6 L327.4 946.5 L327.8 946.4 L328.1 947 L328.5 947 L328.9 947.7 L329.2 948.3 L329.6 947.3 L329.9 946.4 L330.2 946.1 L330.6 946.8 L330.9 946.6 L331.3 945.5 L331.6 945.6 L332 943.8 L332.4 941.7 L332.7 941.1 L333.1 943.9 L333.4 944.9 L333.8 945.4 L334.1 946 L334.4 946.1 L334.8 946.1 L335.1 947 L335.5 948 L335.9 948.1 L336.2 947.9 L336.6 948.1 L336.9 947.2 L337.2 946.7 L337.6 945.4 L337.9 944.5 L338.3 943.9 L338.6 942.5 L339 942.2 L339.4 941.9 L339.7 941.5 L340.1 941.8 L340.4 942.2 L340.8 940.7 L341.1 938.5 L341.4 939.6 L341.8 940.4 L342.1 940.6 L342.5 939.6 L342.9 937.9 L343.2 936.3 L343.6 936.1 L343.9 936.5 L344.2 937.3 L344.6 938 L344.9 939.1 L345.3 939.8 L345.6 943.6 L346 945.6 L346.4 946.4 L346.7 946.7 L347.1 946.3 L347.4 944.8 L347.8 943.5 L348.1 947 L348.4 949.5 L348.8 950.5 L349.1 949.5 L349.5 948.4 L349.9 950.2 L350.2 953 L350.6 953.7 L350.9 953.8 L351.2 953.6 L351.6 953.7 L351.9 954.7 L352.3 954.8 L352.6 953.8 L353 955.2 L353.4 957.3 L353.7 958.5 L354.1 959.1 L354.4 959.9 L354.8 961.3 L355.1 962.4 L355.4 962.4 L355.8 961.6 L356.1 962.2 L356.5 964.7 L356.9 966.2 L357.2 967 L357.6 967.1 L357.9 967.6 L358.2 968 L358.6 968.5 L358.9 968.4 L359.3 970.1 L359.6 971.5 L360 972.5 L360.4 973.3 L360.7 974.2 L361.1 973.3 L361.4 973.5 L361.8 975.6 L362.1 977.8 L362.4 978.8 L362.8 980.1 L363.1 980.6 L363.5 981 L363.9 981.3 L364.2 981.6 L364.6 981.8 L364.9 982.3 L365.2 982.9 L365.6 983.4 L365.9 983.9 L366.3 984.6 L366.3 988.4 L242.8 988.4 Z" fill="#c0c0c0"/>
<path d="M241.5 987.4 L241.6 859.2 L241.9 922.9 L242 952.4 L242.3 963.3 L242.5 969.1 L242.7 967.2 L243.1 967.2 L243.5 966.7 L243.9 966.3 L244.3 965.5 L244.7 967.1 L245.1 965.9 L245.2 966.1 L245.5 964.8 L245.9 965 L246.3 966.5 L246.7 963.3 L247.1 962.8 L247.5 961.3 L247.8 962.6 L247.9 961.9 L248.3 960 L248.7 955.9 L249.1 957 L249.5 956.4 L249.9 954.8 L250.3 954.5 L250.7 950.2 L251.1 947.4 L251.5 945.2 L251.9 945.4 L252.3 941.1 L252.7 940.9 L253.1 939 L253.5 934.4 L253.9 938.9 L254.3 938.8 L254.7 945 L255.1 949.2 L255.5 950.5 L255.9 951.3 L256.3 953.3 L256.7 955.4 L257.1 951.8 L257.5 947 L257.9 943.8 L258.3 940.2 L258.7 937.6 L259.1 931.6 L259.5 929.5 L259.9 924.7 L260.3 920.5 L260.7 916.6 L261.1 913.4 L261.5 914.6 L261.9 919.4 L262.3 922.3 L262.7 920.5 L263.1 917.6 L263.5 916.7 L263.9 914.5 L264.3 913.6 L264.7 910.1 L265.1 907.4 L265.5 904.1 L265.9 903.7 L266.3 903.7 L266.7 897.1 L267.1 892.7 L267.5 888.9 L267.9 885.6 L268.3 884.1 L268.7 882.2 L269.1 879.2 L269.5 874 L269.9 875.2 L270.3 875.5 L270.7 871.9 L271.1 865.6 L271.5 864.5 L271.9 866.7 L272.3 868 L272.7 869.9 L273.1 869.3 L273.5 866.7 L273.9 875.5 L274.3 883.7 L274.7 887.7 L275.1 890.5 L275.5 896 L275.9 886.8 L276.3 880.9 L276.7 873.6 L277.1 863.8 L277.5 864.9 L277.9 871.4 L278.3 875 L278.7 888.8 L279.1 904.3 L279.5 909.4 L279.9 913 L280.3 923.9 L280.7 931.1 L281.1 934.1 L281.5 935.3 L281.9 937.5 L282.3 938.9 L282.7 944.6 L283.1 945.7 L283.5 943.8 L283.9 941 L284.3 943.9 L284.7 944.2 L285.1 944.5 L285.5 943.7 L285.9 947.8 L286.3 953.1 L286.7 952.5 L287.1 954.6 L287.5 954.4 L287.9 954.3 L288.3 957.3 L288.7 961.7 L289.1 961 L289.5 960.6 L289.9 963.3 L290.3 964.1 L290.7 965.8 L291.1 965.7 L291.5 966.9 L291.9 968.9 L292.3 970.2 L292.7 973.6 L293.1 972 L293.5 970.8 L293.9 972.6 L294.3 972.4 L294.7 973.9 L295.1 974.1 L295.5 974.9 L295.9 973.9 L296.3 973.5 L296.7 971 L297.1 972.1 L297.5 971.7 L297.9 969.8 L298.3 970.3 L298.7 973.3 L299.1 974.5 L299.5 974.3 L299.9 974.7 L300.3 973.8 L300.7 974.9 L301.1 975.3 L301.5 976.8 L301.9 976.5 L302.3 978.5 L302.7 978.7 L303.1 978.9 L303.5 979.6 L303.9 980.3 L304.3 980.5 L304.7 981.9 L305.1 981.6 L305.5 980.7 L305.9 981.3 L306.3 981.5 L306.7 981.6 L307.1 981.5 L307.5 982.6 L307.9 983.4 L308.3 983 L308.7 981.7 L309.1 981.6 L309.5 981.8 L309.9 981.9 L310.3 981 L310.7 980.9 L311.1 981 L311.5 980.9 L311.9 982.1 L312.3 982.2 L312.7 982.4 L313.1 982.6 L313.5 982.8 L313.9 982.6 L314.3 982.8 L314.7 983.6 L315.1 984.1 L315.5 984.2 L315.9 984 L316.3 984.3 L316.7 984.1 L317.1 984.6 L317.5 984.7 L317.9 984.8 L318.3 984.8 L318.7 984.2 L319.1 983.4 L319.5 983.8 L319.9 984.3 L320.3 984 L320.7 983.3 L321.1 983.1 L321.5 983.6 L321.9 983.6 L322.3 983.5 L322.7 983.9 L323.1 984.1 L323.5 984.1 L323.9 984 L324.3 984.6 L324.7 984.9 L325.1 984.8 L325.5 984.2 L325.9 984.8 L326.3 984.9 L326.7 985 L327.1 984.3 L327.5 984.6 L327.9 984.9 L328.3 984.1 L328.7 983.9 L329.1 984 L329.5 983.5 L329.9 983.5 L330.3 983.4 L330.7 983.7 L331.1 984.1 L331.5 983.4 L331.9 983.6 L332.3 984.1 L332.7 984.2 L333.1 984.2 L333.5 983.8 L333.9 984.2 L334.3 984 L334.7 984.3 L335.1 984.6 L335.5 984.9 L335.9 985.4 L336.3 985.5 L336.7 985 L337.1 985.1 L337.5 984.7 L337.9 985.2 L338.3 985.2 L338.7 985.3 L339.1 985.7 L339.5 985.3 L339.9 984.8 L340.3 985 L340.7 985.5 L341.1 985.3 L341.5 985.5 L341.9 985.4 L342.3 985.2 L342.7 985.2 L343.1 984.7 L343.5 984.7 L343.9 984.6 L344.3 984.4 L344.7 984.2 L345.1 984.4 L345.5 984 L345.9 983.8 L346.3 983.6 L346.7 984.4 L347.1 984.5 L347.5 984.9 L347.9 984.5 L348.3 984 L348.7 983.9 L349.1 984.4 L349.5 984.3 L349.9 984.5 L350.3 984.3 L350.7 984.6 L351.1 984.9 L351.5 984.4 L351.9 984.3 L352.3 984.7 L352.7 985.3 L353.1 984.9 L353.5 984.8 L353.9 985.1 L354.3 985.2 L354.7 985.2 L355.1 985 L355.5 985.3 L355.9 985.4 L356.3 985.5 L356.7 985.3 L357.1 985.4 L357.5 985 L357.9 985.4 L358.3 985.5 L358.7 985.3 L359.1 985.4 L359.5 985.3 L359.9 985.4 L360.3 985.5 L360.7 985.7 L361.1 985.5 L361.5 985.1 L361.9 985.3 L362.3 985.6 L362.7 985.6 L363.1 985.4 L363.5 985.5 L363.9 985.7 L364.3 985.7 L364.7 985.5 L365.1 985.5 L365.5 985.7 L365.9 985.9 L366.3 985.7 L366.7 985.9" fill="none" stroke="#000" stroke-width="2.8" stroke-linejoin="miter" stroke-miterlimit="6"/>
</g>
<g clip-path="url(#cGSP)">
<path d="M387 975.9 L387.4 974.2 L387.7 975.2 L388.1 975.6 L388.4 974.9 L388.8 974.9 L389.1 974.1 L389.4 973.5 L389.8 972.3 L390.1 972.8 L390.5 973 L390.9 972.1 L391.2 971 L391.2 970.8 L391.6 970.2 L391.9 970.7 L392.2 969.7 L392.6 969.4 L392.9 968.7 L393.3 968.1 L393.6 966.2 L394 964 L394.4 963.7 L394.7 965.3 L395.1 964.9 L395.4 963.6 L395.8 962.9 L396.1 962.5 L396.2 961.4 L396.4 959.3 L396.8 956.7 L397.1 956.9 L397.5 958.2 L397.9 956.6 L398.2 955.7 L398.6 954.3 L398.9 953.4 L399.2 952 L399.6 948.6 L399.9 945.6 L400.3 946.6 L400.6 947.4 L401 946.2 L401.2 945.5 L401.4 944.8 L401.7 941.2 L402.1 938.8 L402.4 937.8 L402.8 937.8 L403.1 936.3 L403.4 932.3 L403.8 929.3 L404.1 930.1 L404.5 930.4 L404.9 928.6 L405 928.1 L405.2 926.5 L405.6 921.5 L405.9 918.3 L406.2 918.7 L406.6 918.5 L406.9 916.6 L407.3 913.7 L407.6 911.6 L408 910.2 L408.4 910 L408.7 907.6 L408.8 906.9 L409.1 903.1 L409.4 899.6 L409.8 900.7 L410.1 900.2 L410.4 898.4 L410.8 896.5 L411.1 893.9 L411.5 889.7 L411.9 882.3 L412.2 880.4 L412.6 883.7 L412.9 884.7 L413.2 882.8 L413.6 878 L413.9 872.1 L414.3 870.4 L414.6 872.3 L415 872.5 L415.4 870.9 L415.7 869.4 L416.1 870.6 L416.4 871.3 L416.8 871.6 L417.1 871.1 L417.4 869.7 L417.8 868.8 L418.1 867.7 L418.5 868.2 L418.9 872.9 L419.2 876.2 L419.6 877.3 L419.9 875.6 L420.2 875.7 L420.6 880 L420.9 884.3 L421.3 887 L421.6 889.1 L422 892.1 L422.4 891 L422.7 891.9 L423.1 897.7 L423.4 902.8 L423.8 904.2 L424.1 905.8 L424.4 907.1 L424.8 909.3 L425.1 912.3 L425.5 915 L425.9 916.6 L426.2 917.3 L426.6 918.5 L426.9 917.6 L427.2 916.6 L427.6 918.6 L427.9 921.8 L428.3 923.9 L428.6 924.3 L429 924 L429.4 923.7 L429.7 924 L430.1 925.3 L430.4 926.2 L430.8 927.2 L431.1 927.3 L431.4 926.9 L431.8 926 L432.1 924.3 L432.5 922.9 L432.9 923.4 L433.2 924.8 L433.6 923.7 L433.9 923.2 L434.2 924 L434.6 924.8 L434.9 925.8 L435.3 927.7 L435.6 927.4 L436 926.9 L436.4 926.3 L436.7 924.3 L437.1 925.9 L437.4 928.2 L437.8 928.1 L438.1 927.5 L438.4 927.3 L438.8 927.4 L439.1 926.3 L439.5 923.8 L439.9 922.3 L440.2 922.8 L440.6 924.9 L440.9 925 L441.2 924.7 L441.6 925 L441.9 923.6 L442.3 927.2 L442.6 929.8 L443 930.5 L443.4 931.3 L443.7 933 L444.1 933.5 L444.4 934.2 L444.8 932.1 L445.1 932.2 L445.4 936.4 L445.8 938.6 L446.1 938.6 L446.5 938.6 L446.9 940 L447.2 941 L447.6 942.2 L447.9 941 L448.2 940.8 L448.6 939.2 L448.9 938.7 L449.3 939.2 L449.6 938.4 L450 938.3 L450.4 938.4 L450.7 938.4 L451.1 938.4 L451.4 939.1 L451.8 941.5 L452.1 941.9 L452.4 943.3 L452.8 944.5 L453.1 946.5 L453.5 945.9 L453.9 945.5 L454.2 944 L454.6 942.3 L454.9 938.5 L455.2 938.9 L455.6 940.7 L455.9 940.6 L456.3 939.4 L456.6 938 L457 936.5 L457.4 937.3 L457.7 938.6 L458.1 939.4 L458.4 938.5 L458.8 938.1 L459.1 936 L459.4 933.4 L459.8 933.9 L460.1 936.6 L460.5 938.7 L460.9 939 L461.2 939.5 L461.6 939.4 L461.9 937.5 L462.2 935.1 L462.6 938.8 L462.9 941.2 L463.3 941.1 L463.6 941.1 L464 940 L464.4 940.2 L464.7 941.3 L465.1 941.9 L465.4 941.2 L465.8 940.3 L466.1 940.9 L466.4 940.4 L466.8 938.9 L467.1 936.8 L467.5 936.2 L467.9 938 L468.2 940 L468.6 938.9 L468.9 936.9 L469.2 937.5 L469.6 940.9 L469.9 942.4 L470.3 940.8 L470.6 939.5 L471 942.9 L471.4 944.8 L471.7 945.3 L472.1 945.9 L472.4 946 L472.8 946.5 L473.1 943.9 L473.4 941.9 L473.8 944.7 L474.1 947.5 L474.5 947.7 L474.9 948.5 L475.2 947.3 L475.6 946.7 L475.9 946.6 L476.2 946.7 L476.6 946.9 L476.9 946.6 L477.3 946.1 L477.6 945.7 L478 945.3 L478.4 944.8 L478.7 944 L479.1 944.7 L479.4 945 L479.8 944.9 L480.1 945.6 L480.4 946.4 L480.8 946.1 L481.1 946.5 L481.5 946.7 L481.9 947.3 L482.2 948 L482.6 947.9 L482.9 945.6 L483.2 945.9 L483.6 946.1 L483.9 945.8 L484.3 944.4 L484.6 944.4 L485 943.1 L485.4 943.1 L485.7 942.6 L486.1 941.5 L486.4 940.5 L486.8 940.1 L487.1 940.4 L487.4 940.3 L487.8 940.9 L488.1 940.5 L488.5 939.7 L488.9 939.4 L489.2 937.6 L489.6 934.7 L489.9 934.5 L490.2 937 L490.6 938.2 L490.9 940.1 L491.3 941.7 L491.6 942.9 L492 944.6 L492.4 943.4 L492.7 945.4 L493.1 947.1 L493.4 947.2 L493.8 946.2 L494.1 947.5 L494.4 949.6 L494.8 950.5 L495.1 950.6 L495.5 951 L495.9 951.2 L496.2 952.4 L496.6 952.7 L496.9 951.4 L497.2 949.9 L497.6 953.6 L497.9 955.9 L498.3 956.9 L498.6 956.8 L499 955.7 L499.4 956.8 L499.7 958.1 L500.1 959.9 L500.4 960.7 L500.8 961.1 L501.1 961.7 L501.4 962.1 L501.8 964 L502.1 964.8 L502.5 964.3 L502.9 964.5 L503.2 965.5 L503.6 966.6 L503.9 967.4 L504.2 968.7 L504.6 969 L504.9 970.2 L505.3 970.2 L505.6 970.3 L506 970.7 L506.4 972.3 L506.7 973.5 L507.1 974.8 L507.4 975.8 L507.8 976.9 L508.1 978.5 L508.4 979.2 L508.8 979.8 L509.1 980 L509.5 980.3 L509.9 980.8 L510.2 981.4 L510.6 982.3 L510.9 983 L511.2 983.3 L511.6 983.4 L511.9 983.3 L512.3 983.3 L512.3 988.4 L387 988.4 Z" fill="#c0c0c0"/>
<path d="M387.5 987.4 L387.6 862.2 L387.9 925.9 L388 959.2 L388.3 964.5 L388.5 969 L388.7 968 L389.1 968.1 L389.5 967.7 L389.9 968.6 L390.3 968.5 L390.7 967.9 L391.1 967.5 L391.2 967.4 L391.5 967.7 L391.9 966.8 L392.3 966.6 L392.7 966.3 L393.1 965.2 L393.5 965.9 L393.9 966.3 L394.3 965.3 L394.7 964.8 L395 965.4 L395.1 965.2 L395.5 963.5 L395.9 962.6 L396.3 961.9 L396.7 960.2 L397.1 959.2 L397.5 958.1 L397.9 957.2 L398.3 955.1 L398.7 954.7 L399.1 954 L399.5 953.2 L399.9 951.7 L400.3 950.8 L400.7 950.8 L401.1 949.7 L401.5 948.3 L401.9 945.7 L402.3 944 L402.7 942.5 L403.1 942.2 L403.5 940.7 L403.9 940.4 L404.3 939.1 L404.7 937.4 L405.1 936.4 L405.5 934.9 L405.9 933.7 L406.3 932 L406.7 930 L407.1 928.8 L407.5 926.4 L407.9 925.2 L408.3 924.4 L408.7 920.7 L409.1 918.7 L409.5 917.1 L409.9 915.9 L410.3 912.7 L410.7 910.3 L411.1 908.3 L411.5 904 L411.9 903 L412.3 902.6 L412.7 900.8 L413.1 900.3 L413.5 897.9 L413.9 895 L414.3 892.8 L414.7 890.9 L415.1 887.5 L415.5 885.6 L415.9 882.8 L416.3 878.2 L416.7 878.5 L417.1 879.5 L417.5 874.6 L417.9 872.1 L418.3 871.8 L418.7 870.3 L419.1 869.4 L419.5 867.6 L419.9 867.7 L420.3 866 L420.7 866.6 L421.1 865.5 L421.5 864 L421.9 864 L422.3 864.7 L422.7 867.9 L423.1 867.7 L423.5 868.4 L423.9 871 L424.3 874.6 L424.7 879.3 L425.1 884.3 L425.5 884.6 L425.9 887.5 L426.3 892.6 L426.7 896.4 L427.1 899.3 L427.5 902.4 L427.9 907.1 L428.3 911.4 L428.7 916.4 L429.1 920.1 L429.5 924.1 L429.9 927.2 L430.3 931.9 L430.7 936.7 L431.1 939.5 L431.5 943.2 L431.9 946.8 L432.3 951.7 L432.7 955.4 L433.1 958.8 L433.5 962.3 L433.9 965.3 L434.3 967.2 L434.7 969.5 L435.1 971.7 L435.5 973.8 L435.9 974.8 L436.3 976.2 L436.7 976.2 L437.1 977.1 L437.5 977.9 L437.9 978.4 L438.3 979.6 L438.7 980.3 L439.1 980.8 L439.5 981.3 L439.9 981.2 L440.3 981.9 L440.7 981.4 L441.1 981.5 L441.5 982.4 L441.9 982.8 L442.3 983 L442.7 983.3 L443.1 983.1 L443.5 982.9 L443.9 982.9 L444.3 983.2 L444.7 983.2 L445.1 983.4 L445.5 983.6 L445.9 983.8 L446.3 983.6 L446.7 983.3 L447.1 983.8 L447.5 983.7 L447.9 984.1 L448.3 984.2 L448.7 984.2 L449.1 984.1 L449.5 984.2 L449.9 984.2 L450.3 984.4 L450.7 984.5 L451.1 984.5 L451.5 984.3 L451.9 984.4 L452.3 984.3 L452.7 984.4 L453.1 984.2 L453.5 984.1 L453.9 984.4 L454.3 984.7 L454.7 984.6 L455.1 984.7 L455.5 984.7 L455.9 984.8 L456.3 984.7 L456.7 984.6 L457.1 984.7 L457.5 984.7 L457.9 984.8 L458.3 984.7 L458.7 984.6 L459.1 984.8 L459.5 984.9 L459.9 984.9 L460.3 984.8 L460.7 984.7 L461.1 984.5 L461.5 984.8 L461.9 984.9 L462.3 984.8 L462.7 984.6 L463.1 984.6 L463.5 984.7 L463.9 984.8 L464.3 984.8 L464.7 984.9 L465.1 985.1 L465.5 984.9 L465.9 984.8 L466.3 984.8 L466.7 984.9 L467.1 984.9 L467.5 985.1 L467.9 985.2 L468.3 985.3 L468.7 985.3 L469.1 985.4 L469.5 985 L469.9 985 L470.3 985 L470.7 985.3 L471.1 985.2 L471.5 985 L471.9 985.2 L472.3 985.1 L472.7 985.1 L473.1 985.1 L473.5 985.1 L473.9 985.1 L474.3 985.1 L474.7 985 L475.1 985.1 L475.5 985.3 L475.9 985.1 L476.3 985.3 L476.7 985.3 L477.1 985.4 L477.5 985.2 L477.9 985.1 L478.3 985.2 L478.7 985.3 L479.1 985.3 L479.5 985.4 L479.9 985.3 L480.3 985.1 L480.7 985.1 L481.1 985.2 L481.5 985.2 L481.9 985.2 L482.3 985.3 L482.7 985.3 L483.1 985.2 L483.5 985.2 L483.9 985.3 L484.3 985.4 L484.7 985.4 L485.1 985.5 L485.5 985.3 L485.9 985.2 L486.3 985.3 L486.7 985.2 L487.1 985.2 L487.5 985.4 L487.9 985.3 L488.3 985.4 L488.7 985.4 L489.1 985.4 L489.5 985.3 L489.9 985.4 L490.3 985.5 L490.7 985.6 L491.1 985.4 L491.5 985.3 L491.9 985.3 L492.3 985.4 L492.7 985.4 L493.1 985.6 L493.5 985.4 L493.9 985.4 L494.3 985.4 L494.7 985.5 L495.1 985.5 L495.5 985.5 L495.9 985.4 L496.3 985.3 L496.7 985.6 L497.1 985.8 L497.5 985.5 L497.9 985.4 L498.3 985.5 L498.7 985.6 L499.1 985.5 L499.5 985.7 L499.9 985.6 L500.3 985.4 L500.7 985.5 L501.1 985.7 L501.5 985.6 L501.9 985.6 L502.3 985.7 L502.7 985.7 L503.1 985.7 L503.5 985.7 L503.9 985.5 L504.3 985.5 L504.7 985.5 L505.1 985.5 L505.5 985.7 L505.9 985.8 L506.3 985.7 L506.7 985.6 L507.1 985.6 L507.5 985.7 L507.9 985.7 L508.3 985.6 L508.7 985.6 L509.1 985.8 L509.5 985.7 L509.9 985.8 L510.3 985.8 L510.7 985.8 L511.1 985.8 L511.5 985.7 L511.9 985.7 L512.3 985.9 L512.7 985.8" fill="none" stroke="#000" stroke-width="2.8" stroke-linejoin="miter" stroke-miterlimit="6"/>
</g>
<rect x="95.5" y="27.7" width="128.3" height="127.7" fill="none" stroke="#000" stroke-width="1.5"/>
<path d="M91.8 155H95.5M93.8 152.6H95.5M93.8 150.1H95.5M93.8 147.7H95.5M93.8 145.2H95.5M93.8 142.8H95.5M93.8 140.4H95.5M93.8 137.9H95.5M93.8 135.5H95.5M93.8 133H95.5M91.8 130.6H95.5M93.8 128.2H95.5M93.8 125.7H95.5M93.8 123.3H95.5M93.8 120.8H95.5M93.8 118.4H95.5M93.8 116H95.5M93.8 113.5H95.5M93.8 111.1H95.5M93.8 108.6H95.5M91.8 106.2H95.5M93.8 103.8H95.5M93.8 101.3H95.5M93.8 98.9H95.5M93.8 96.4H95.5M93.8 94H95.5M93.8 91.6H95.5M93.8 89.1H95.5M93.8 86.7H95.5M93.8 84.2H95.5M91.8 81.8H95.5M93.8 79.4H95.5M93.8 76.9H95.5M93.8 74.5H95.5M93.8 72H95.5M93.8 69.6H95.5M93.8 67.2H95.5M93.8 64.7H95.5M93.8 62.3H95.5M93.8 59.8H95.5M91.8 57.4H95.5M93.8 55H95.5M93.8 52.5H95.5M93.8 50.1H95.5M93.8 47.6H95.5M93.8 45.2H95.5M93.8 42.8H95.5M93.8 40.3H95.5M93.8 37.9H95.5M93.8 35.4H95.5M91.8 33H95.5" stroke="#000" stroke-width="1.1" fill="none"/>
<path d="M95.5 155.4V159M105.2 154.9V157.2M110.8 154.9V157.2M114.8 154.9V157.2M117.9 154.9V157.2M120.5 154.9V157.2M122.6 154.9V157.2M124.5 154.9V157.2M126.1 154.9V157.2M127.6 155.4V159M137.2 154.9V157.2M142.9 154.9V157.2M146.9 154.9V157.2M150 154.9V157.2M152.5 154.9V157.2M154.7 154.9V157.2M156.5 154.9V157.2M158.2 154.9V157.2M159.7 155.4V159M169.3 154.9V157.2M175 154.9V157.2M179 154.9V157.2M182.1 154.9V157.2M184.6 154.9V157.2M186.8 154.9V157.2M188.6 154.9V157.2M190.3 154.9V157.2M191.7 155.4V159M201.4 154.9V157.2M207 154.9V157.2M211 154.9V157.2M214.1 154.9V157.2M216.7 154.9V157.2M218.8 154.9V157.2M220.7 154.9V157.2M222.3 154.9V157.2M223.8 155.4V159" stroke="#000" stroke-width="1.1" fill="none"/>
<rect x="240.8" y="27.7" width="127.7" height="127.7" fill="none" stroke="#000" stroke-width="1.5"/>
<path d="M237.1 155H240.8M239.1 152.6H240.8M239.1 150.1H240.8M239.1 147.7H240.8M239.1 145.2H240.8M239.1 142.8H240.8M239.1 140.4H240.8M239.1 137.9H240.8M239.1 135.5H240.8M239.1 133H240.8M237.1 130.6H240.8M239.1 128.2H240.8M239.1 125.7H240.8M239.1 123.3H240.8M239.1 120.8H240.8M239.1 118.4H240.8M239.1 116H240.8M239.1 113.5H240.8M239.1 111.1H240.8M239.1 108.6H240.8M237.1 106.2H240.8M239.1 103.8H240.8M239.1 101.3H240.8M239.1 98.9H240.8M239.1 96.4H240.8M239.1 94H240.8M239.1 91.6H240.8M239.1 89.1H240.8M239.1 86.7H240.8M239.1 84.2H240.8M237.1 81.8H240.8M239.1 79.4H240.8M239.1 76.9H240.8M239.1 74.5H240.8M239.1 72H240.8M239.1 69.6H240.8M239.1 67.2H240.8M239.1 64.7H240.8M239.1 62.3H240.8M239.1 59.8H240.8M237.1 57.4H240.8M239.1 55H240.8M239.1 52.5H240.8M239.1 50.1H240.8M239.1 47.6H240.8M239.1 45.2H240.8M239.1 42.8H240.8M239.1 40.3H240.8M239.1 37.9H240.8M239.1 35.4H240.8M237.1 33H240.8" stroke="#000" stroke-width="1.1" fill="none"/>
<path d="M240.8 155.4V159M250.4 154.9V157.2M256 154.9V157.2M260 154.9V157.2M263.1 154.9V157.2M265.6 154.9V157.2M267.8 154.9V157.2M269.6 154.9V157.2M271.3 154.9V157.2M272.7 155.4V159M282.3 154.9V157.2M288 154.9V157.2M291.9 154.9V157.2M295 154.9V157.2M297.6 154.9V157.2M299.7 154.9V157.2M301.6 154.9V157.2M303.2 154.9V157.2M304.6 155.4V159M314.3 154.9V157.2M319.9 154.9V157.2M323.9 154.9V157.2M327 154.9V157.2M329.5 154.9V157.2M331.6 154.9V157.2M333.5 154.9V157.2M335.1 154.9V157.2M336.6 155.4V159M346.2 154.9V157.2M351.8 154.9V157.2M355.8 154.9V157.2M358.9 154.9V157.2M361.4 154.9V157.2M363.6 154.9V157.2M365.4 154.9V157.2M367 154.9V157.2M368.5 155.4V159" stroke="#000" stroke-width="1.1" fill="none"/>
<rect x="386.5" y="27.7" width="127" height="127.7" fill="none" stroke="#000" stroke-width="1.5"/>
<path d="M382.8 155H386.5M384.8 152.6H386.5M384.8 150.1H386.5M384.8 147.7H386.5M384.8 145.2H386.5M384.8 142.8H386.5M384.8 140.4H386.5M384.8 137.9H386.5M384.8 135.5H386.5M384.8 133H386.5M382.8 130.6H386.5M384.8 128.2H386.5M384.8 125.7H386.5M384.8 123.3H386.5M384.8 120.8H386.5M384.8 118.4H386.5M384.8 116H386.5M384.8 113.5H386.5M384.8 111.1H386.5M384.8 108.6H386.5M382.8 106.2H386.5M384.8 103.8H386.5M384.8 101.3H386.5M384.8 98.9H386.5M384.8 96.4H386.5M384.8 94H386.5M384.8 91.6H386.5M384.8 89.1H386.5M384.8 86.7H386.5M384.8 84.2H386.5M382.8 81.8H386.5M384.8 79.4H386.5M384.8 76.9H386.5M384.8 74.5H386.5M384.8 72H386.5M384.8 69.6H386.5M384.8 67.2H386.5M384.8 64.7H386.5M384.8 62.3H386.5M384.8 59.8H386.5M382.8 57.4H386.5M384.8 55H386.5M384.8 52.5H386.5M384.8 50.1H386.5M384.8 47.6H386.5M384.8 45.2H386.5M384.8 42.8H386.5M384.8 40.3H386.5M384.8 37.9H386.5M384.8 35.4H386.5M382.8 33H386.5" stroke="#000" stroke-width="1.1" fill="none"/>
<path d="M386.5 155.4V159M396.1 154.9V157.2M401.6 154.9V157.2M405.6 154.9V157.2M408.7 154.9V157.2M411.2 154.9V157.2M413.3 154.9V157.2M415.2 154.9V157.2M416.8 154.9V157.2M418.2 155.4V159M427.8 154.9V157.2M433.4 154.9V157.2M437.4 154.9V157.2M440.4 154.9V157.2M443 154.9V157.2M445.1 154.9V157.2M446.9 154.9V157.2M448.5 154.9V157.2M450 155.4V159M459.6 154.9V157.2M465.1 154.9V157.2M469.1 154.9V157.2M472.2 154.9V157.2M474.7 154.9V157.2M476.8 154.9V157.2M478.7 154.9V157.2M480.3 154.9V157.2M481.8 155.4V159M491.3 154.9V157.2M496.9 154.9V157.2M500.9 154.9V157.2M503.9 154.9V157.2M506.5 154.9V157.2M508.6 154.9V157.2M510.4 154.9V157.2M512 154.9V157.2M513.5 155.4V159" stroke="#000" stroke-width="1.1" fill="none"/>
<rect x="95.5" y="165.4" width="128.3" height="128" fill="none" stroke="#000" stroke-width="1.5"/>
<path d="M91.8 293H95.5M93.8 290.6H95.5M93.8 288.1H95.5M93.8 285.7H95.5M93.8 283.2H95.5M93.8 280.8H95.5M93.8 278.3H95.5M93.8 275.9H95.5M93.8 273.4H95.5M93.8 271H95.5M91.8 268.5H95.5M93.8 266.1H95.5M93.8 263.6H95.5M93.8 261.2H95.5M93.8 258.8H95.5M93.8 256.3H95.5M93.8 253.9H95.5M93.8 251.4H95.5M93.8 249H95.5M93.8 246.5H95.5M91.8 244.1H95.5M93.8 241.6H95.5M93.8 239.2H95.5M93.8 236.7H95.5M93.8 234.3H95.5M93.8 231.9H95.5M93.8 229.4H95.5M93.8 227H95.5M93.8 224.5H95.5M93.8 222.1H95.5M91.8 219.6H95.5M93.8 217.2H95.5M93.8 214.7H95.5M93.8 212.3H95.5M93.8 209.8H95.5M93.8 207.4H95.5M93.8 204.9H95.5M93.8 202.5H95.5M93.8 200.1H95.5M93.8 197.6H95.5M91.8 195.2H95.5M93.8 192.7H95.5M93.8 190.3H95.5M93.8 187.8H95.5M93.8 185.4H95.5M93.8 182.9H95.5M93.8 180.5H95.5M93.8 178H95.5M93.8 175.6H95.5M93.8 173.1H95.5M91.8 170.7H95.5" stroke="#000" stroke-width="1.1" fill="none"/>
<path d="M95.5 293.4V297M105.2 292.9V295.2M110.8 292.9V295.2M114.8 292.9V295.2M117.9 292.9V295.2M120.5 292.9V295.2M122.6 292.9V295.2M124.5 292.9V295.2M126.1 292.9V295.2M127.6 293.4V297M137.2 292.9V295.2M142.9 292.9V295.2M146.9 292.9V295.2M150 292.9V295.2M152.5 292.9V295.2M154.7 292.9V295.2M156.5 292.9V295.2M158.2 292.9V295.2M159.7 293.4V297M169.3 292.9V295.2M175 292.9V295.2M179 292.9V295.2M182.1 292.9V295.2M184.6 292.9V295.2M186.8 292.9V295.2M188.6 292.9V295.2M190.3 292.9V295.2M191.7 293.4V297M201.4 292.9V295.2M207 292.9V295.2M211 292.9V295.2M214.1 292.9V295.2M216.7 292.9V295.2M218.8 292.9V295.2M220.7 292.9V295.2M222.3 292.9V295.2M223.8 293.4V297" stroke="#000" stroke-width="1.1" fill="none"/>
<rect x="240.8" y="165.4" width="127.7" height="128" fill="none" stroke="#000" stroke-width="1.5"/>
<path d="M237.1 293H240.8M239.1 290.6H240.8M239.1 288.1H240.8M239.1 285.7H240.8M239.1 283.2H240.8M239.1 280.8H240.8M239.1 278.3H240.8M239.1 275.9H240.8M239.1 273.4H240.8M239.1 271H240.8M237.1 268.5H240.8M239.1 266.1H240.8M239.1 263.6H240.8M239.1 261.2H240.8M239.1 258.8H240.8M239.1 256.3H240.8M239.1 253.9H240.8M239.1 251.4H240.8M239.1 249H240.8M239.1 246.5H240.8M237.1 244.1H240.8M239.1 241.6H240.8M239.1 239.2H240.8M239.1 236.7H240.8M239.1 234.3H240.8M239.1 231.9H240.8M239.1 229.4H240.8M239.1 227H240.8M239.1 224.5H240.8M239.1 222.1H240.8M237.1 219.6H240.8M239.1 217.2H240.8M239.1 214.7H240.8M239.1 212.3H240.8M239.1 209.8H240.8M239.1 207.4H240.8M239.1 204.9H240.8M239.1 202.5H240.8M239.1 200.1H240.8M239.1 197.6H240.8M237.1 195.2H240.8M239.1 192.7H240.8M239.1 190.3H240.8M239.1 187.8H240.8M239.1 185.4H240.8M239.1 182.9H240.8M239.1 180.5H240.8M239.1 178H240.8M239.1 175.6H240.8M239.1 173.1H240.8M237.1 170.7H240.8" stroke="#000" stroke-width="1.1" fill="none"/>
<path d="M240.8 293.4V297M250.4 292.9V295.2M256 292.9V295.2M260 292.9V295.2M263.1 292.9V295.2M265.6 292.9V295.2M267.8 292.9V295.2M269.6 292.9V295.2M271.3 292.9V295.2M272.7 293.4V297M282.3 292.9V295.2M288 292.9V295.2M291.9 292.9V295.2M295 292.9V295.2M297.6 292.9V295.2M299.7 292.9V295.2M301.6 292.9V295.2M303.2 292.9V295.2M304.6 293.4V297M314.3 292.9V295.2M319.9 292.9V295.2M323.9 292.9V295.2M327 292.9V295.2M329.5 292.9V295.2M331.6 292.9V295.2M333.5 292.9V295.2M335.1 292.9V295.2M336.6 293.4V297M346.2 292.9V295.2M351.8 292.9V295.2M355.8 292.9V295.2M358.9 292.9V295.2M361.4 292.9V295.2M363.6 292.9V295.2M365.4 292.9V295.2M367 292.9V295.2M368.5 293.4V297" stroke="#000" stroke-width="1.1" fill="none"/>
<rect x="386.5" y="165.4" width="127" height="128" fill="none" stroke="#000" stroke-width="1.5"/>
<path d="M382.8 293H386.5M384.8 290.6H386.5M384.8 288.1H386.5M384.8 285.7H386.5M384.8 283.2H386.5M384.8 280.8H386.5M384.8 278.3H386.5M384.8 275.9H386.5M384.8 273.4H386.5M384.8 271H386.5M382.8 268.5H386.5M384.8 266.1H386.5M384.8 263.6H386.5M384.8 261.2H386.5M384.8 258.8H386.5M384.8 256.3H386.5M384.8 253.9H386.5M384.8 251.4H386.5M384.8 249H386.5M384.8 246.5H386.5M382.8 244.1H386.5M384.8 241.6H386.5M384.8 239.2H386.5M384.8 236.7H386.5M384.8 234.3H386.5M384.8 231.9H386.5M384.8 229.4H386.5M384.8 227H386.5M384.8 224.5H386.5M384.8 222.1H386.5M382.8 219.6H386.5M384.8 217.2H386.5M384.8 214.7H386.5M384.8 212.3H386.5M384.8 209.8H386.5M384.8 207.4H386.5M384.8 204.9H386.5M384.8 202.5H386.5M384.8 200.1H386.5M384.8 197.6H386.5M382.8 195.2H386.5M384.8 192.7H386.5M384.8 190.3H386.5M384.8 187.8H386.5M384.8 185.4H386.5M384.8 182.9H386.5M384.8 180.5H386.5M384.8 178H386.5M384.8 175.6H386.5M384.8 173.1H386.5M382.8 170.7H386.5" stroke="#000" stroke-width="1.1" fill="none"/>
<path d="M386.5 293.4V297M396.1 292.9V295.2M401.6 292.9V295.2M405.6 292.9V295.2M408.7 292.9V295.2M411.2 292.9V295.2M413.3 292.9V295.2M415.2 292.9V295.2M416.8 292.9V295.2M418.2 293.4V297M427.8 292.9V295.2M433.4 292.9V295.2M437.4 292.9V295.2M440.4 292.9V295.2M443 292.9V295.2M445.1 292.9V295.2M446.9 292.9V295.2M448.5 292.9V295.2M450 293.4V297M459.6 292.9V295.2M465.1 292.9V295.2M469.1 292.9V295.2M472.2 292.9V295.2M474.7 292.9V295.2M476.8 292.9V295.2M478.7 292.9V295.2M480.3 292.9V295.2M481.8 293.4V297M491.3 292.9V295.2M496.9 292.9V295.2M500.9 292.9V295.2M503.9 292.9V295.2M506.5 292.9V295.2M508.6 292.9V295.2M510.4 292.9V295.2M512 292.9V295.2M513.5 293.4V297" stroke="#000" stroke-width="1.1" fill="none"/>
<rect x="95.5" y="305.7" width="128.3" height="126.6" fill="none" stroke="#000" stroke-width="1.5"/>
<path d="M91.8 431.9H95.5M93.8 429.5H95.5M93.8 427.1H95.5M93.8 424.6H95.5M93.8 422.2H95.5M93.8 419.8H95.5M93.8 417.4H95.5M93.8 415H95.5M93.8 412.6H95.5M93.8 410.1H95.5M91.8 407.7H95.5M93.8 405.3H95.5M93.8 402.9H95.5M93.8 400.5H95.5M93.8 398H95.5M93.8 395.6H95.5M93.8 393.2H95.5M93.8 390.8H95.5M93.8 388.4H95.5M93.8 386H95.5M91.8 383.5H95.5M93.8 381.1H95.5M93.8 378.7H95.5M93.8 376.3H95.5M93.8 373.9H95.5M93.8 371.5H95.5M93.8 369H95.5M93.8 366.6H95.5M93.8 364.2H95.5M93.8 361.8H95.5M91.8 359.4H95.5M93.8 356.9H95.5M93.8 354.5H95.5M93.8 352.1H95.5M93.8 349.7H95.5M93.8 347.3H95.5M93.8 344.9H95.5M93.8 342.4H95.5M93.8 340H95.5M93.8 337.6H95.5M91.8 335.2H95.5M93.8 332.8H95.5M93.8 330.3H95.5M93.8 327.9H95.5M93.8 325.5H95.5M93.8 323.1H95.5M93.8 320.7H95.5M93.8 318.3H95.5M93.8 315.8H95.5M93.8 313.4H95.5M91.8 311H95.5" stroke="#000" stroke-width="1.1" fill="none"/>
<path d="M95.5 432.3V435.9M105.2 431.8V434.1M110.8 431.8V434.1M114.8 431.8V434.1M117.9 431.8V434.1M120.5 431.8V434.1M122.6 431.8V434.1M124.5 431.8V434.1M126.1 431.8V434.1M127.6 432.3V435.9M137.2 431.8V434.1M142.9 431.8V434.1M146.9 431.8V434.1M150 431.8V434.1M152.5 431.8V434.1M154.7 431.8V434.1M156.5 431.8V434.1M158.2 431.8V434.1M159.7 432.3V435.9M169.3 431.8V434.1M175 431.8V434.1M179 431.8V434.1M182.1 431.8V434.1M184.6 431.8V434.1M186.8 431.8V434.1M188.6 431.8V434.1M190.3 431.8V434.1M191.7 432.3V435.9M201.4 431.8V434.1M207 431.8V434.1M211 431.8V434.1M214.1 431.8V434.1M216.7 431.8V434.1M218.8 431.8V434.1M220.7 431.8V434.1M222.3 431.8V434.1M223.8 432.3V435.9" stroke="#000" stroke-width="1.1" fill="none"/>
<rect x="240.8" y="305.7" width="127.7" height="126.6" fill="none" stroke="#000" stroke-width="1.5"/>
<path d="M237.1 431.9H240.8M239.1 429.5H240.8M239.1 427.1H240.8M239.1 424.6H240.8M239.1 422.2H240.8M239.1 419.8H240.8M239.1 417.4H240.8M239.1 415H240.8M239.1 412.6H240.8M239.1 410.1H240.8M237.1 407.7H240.8M239.1 405.3H240.8M239.1 402.9H240.8M239.1 400.5H240.8M239.1 398H240.8M239.1 395.6H240.8M239.1 393.2H240.8M239.1 390.8H240.8M239.1 388.4H240.8M239.1 386H240.8M237.1 383.5H240.8M239.1 381.1H240.8M239.1 378.7H240.8M239.1 376.3H240.8M239.1 373.9H240.8M239.1 371.5H240.8M239.1 369H240.8M239.1 366.6H240.8M239.1 364.2H240.8M239.1 361.8H240.8M237.1 359.4H240.8M239.1 356.9H240.8M239.1 354.5H240.8M239.1 352.1H240.8M239.1 349.7H240.8M239.1 347.3H240.8M239.1 344.9H240.8M239.1 342.4H240.8M239.1 340H240.8M239.1 337.6H240.8M237.1 335.2H240.8M239.1 332.8H240.8M239.1 330.3H240.8M239.1 327.9H240.8M239.1 325.5H240.8M239.1 323.1H240.8M239.1 320.7H240.8M239.1 318.3H240.8M239.1 315.8H240.8M239.1 313.4H240.8M237.1 311H240.8" stroke="#000" stroke-width="1.1" fill="none"/>
<path d="M240.8 432.3V435.9M250.4 431.8V434.1M256 431.8V434.1M260 431.8V434.1M263.1 431.8V434.1M265.6 431.8V434.1M267.8 431.8V434.1M269.6 431.8V434.1M271.3 431.8V434.1M272.7 432.3V435.9M282.3 431.8V434.1M288 431.8V434.1M291.9 431.8V434.1M295 431.8V434.1M297.6 431.8V434.1M299.7 431.8V434.1M301.6 431.8V434.1M303.2 431.8V434.1M304.6 432.3V435.9M314.3 431.8V434.1M319.9 431.8V434.1M323.9 431.8V434.1M327 431.8V434.1M329.5 431.8V434.1M331.6 431.8V434.1M333.5 431.8V434.1M335.1 431.8V434.1M336.6 432.3V435.9M346.2 431.8V434.1M351.8 431.8V434.1M355.8 431.8V434.1M358.9 431.8V434.1M361.4 431.8V434.1M363.6 431.8V434.1M365.4 431.8V434.1M367 431.8V434.1M368.5 432.3V435.9" stroke="#000" stroke-width="1.1" fill="none"/>
<rect x="386.5" y="305.7" width="127" height="126.6" fill="none" stroke="#000" stroke-width="1.5"/>
<path d="M382.8 431.9H386.5M384.8 429.5H386.5M384.8 427.1H386.5M384.8 424.6H386.5M384.8 422.2H386.5M384.8 419.8H386.5M384.8 417.4H386.5M384.8 415H386.5M384.8 412.6H386.5M384.8 410.1H386.5M382.8 407.7H386.5M384.8 405.3H386.5M384.8 402.9H386.5M384.8 400.5H386.5M384.8 398H386.5M384.8 395.6H386.5M384.8 393.2H386.5M384.8 390.8H386.5M384.8 388.4H386.5M384.8 386H386.5M382.8 383.5H386.5M384.8 381.1H386.5M384.8 378.7H386.5M384.8 376.3H386.5M384.8 373.9H386.5M384.8 371.5H386.5M384.8 369H386.5M384.8 366.6H386.5M384.8 364.2H386.5M384.8 361.8H386.5M382.8 359.4H386.5M384.8 356.9H386.5M384.8 354.5H386.5M384.8 352.1H386.5M384.8 349.7H386.5M384.8 347.3H386.5M384.8 344.9H386.5M384.8 342.4H386.5M384.8 340H386.5M384.8 337.6H386.5M382.8 335.2H386.5M384.8 332.8H386.5M384.8 330.3H386.5M384.8 327.9H386.5M384.8 325.5H386.5M384.8 323.1H386.5M384.8 320.7H386.5M384.8 318.3H386.5M384.8 315.8H386.5M384.8 313.4H386.5M382.8 311H386.5" stroke="#000" stroke-width="1.1" fill="none"/>
<path d="M386.5 432.3V435.9M396.1 431.8V434.1M401.6 431.8V434.1M405.6 431.8V434.1M408.7 431.8V434.1M411.2 431.8V434.1M413.3 431.8V434.1M415.2 431.8V434.1M416.8 431.8V434.1M418.2 432.3V435.9M427.8 431.8V434.1M433.4 431.8V434.1M437.4 431.8V434.1M440.4 431.8V434.1M443 431.8V434.1M445.1 431.8V434.1M446.9 431.8V434.1M448.5 431.8V434.1M450 432.3V435.9M459.6 431.8V434.1M465.1 431.8V434.1M469.1 431.8V434.1M472.2 431.8V434.1M474.7 431.8V434.1M476.8 431.8V434.1M478.7 431.8V434.1M480.3 431.8V434.1M481.8 432.3V435.9M491.3 431.8V434.1M496.9 431.8V434.1M500.9 431.8V434.1M503.9 431.8V434.1M506.5 431.8V434.1M508.6 431.8V434.1M510.4 431.8V434.1M512 431.8V434.1M513.5 432.3V435.9" stroke="#000" stroke-width="1.1" fill="none"/>
<rect x="95.5" y="442.8" width="128.3" height="127.2" fill="none" stroke="#000" stroke-width="1.5"/>
<path d="M91.8 569.6H95.5M93.8 567.2H95.5M93.8 564.7H95.5M93.8 562.3H95.5M93.8 559.9H95.5M93.8 557.5H95.5M93.8 555H95.5M93.8 552.6H95.5M93.8 550.2H95.5M93.8 547.7H95.5M91.8 545.3H95.5M93.8 542.9H95.5M93.8 540.4H95.5M93.8 538H95.5M93.8 535.6H95.5M93.8 533.1H95.5M93.8 530.7H95.5M93.8 528.3H95.5M93.8 525.9H95.5M93.8 523.4H95.5M91.8 521H95.5M93.8 518.6H95.5M93.8 516.1H95.5M93.8 513.7H95.5M93.8 511.3H95.5M93.8 508.9H95.5M93.8 506.4H95.5M93.8 504H95.5M93.8 501.6H95.5M93.8 499.1H95.5M91.8 496.7H95.5M93.8 494.3H95.5M93.8 491.8H95.5M93.8 489.4H95.5M93.8 487H95.5M93.8 484.6H95.5M93.8 482.1H95.5M93.8 479.7H95.5M93.8 477.3H95.5M93.8 474.8H95.5M91.8 472.4H95.5M93.8 470H95.5M93.8 467.5H95.5M93.8 465.1H95.5M93.8 462.7H95.5M93.8 460.2H95.5M93.8 457.8H95.5M93.8 455.4H95.5M93.8 453H95.5M93.8 450.5H95.5M91.8 448.1H95.5" stroke="#000" stroke-width="1.1" fill="none"/>
<path d="M95.5 570V573.6M105.2 569.5V571.8M110.8 569.5V571.8M114.8 569.5V571.8M117.9 569.5V571.8M120.5 569.5V571.8M122.6 569.5V571.8M124.5 569.5V571.8M126.1 569.5V571.8M127.6 570V573.6M137.2 569.5V571.8M142.9 569.5V571.8M146.9 569.5V571.8M150 569.5V571.8M152.5 569.5V571.8M154.7 569.5V571.8M156.5 569.5V571.8M158.2 569.5V571.8M159.7 570V573.6M169.3 569.5V571.8M175 569.5V571.8M179 569.5V571.8M182.1 569.5V571.8M184.6 569.5V571.8M186.8 569.5V571.8M188.6 569.5V571.8M190.3 569.5V571.8M191.7 570V573.6M201.4 569.5V571.8M207 569.5V571.8M211 569.5V571.8M214.1 569.5V571.8M216.7 569.5V571.8M218.8 569.5V571.8M220.7 569.5V571.8M222.3 569.5V571.8M223.8 570V573.6" stroke="#000" stroke-width="1.1" fill="none"/>
<rect x="240.8" y="442.8" width="127.7" height="127.2" fill="none" stroke="#000" stroke-width="1.5"/>
<path d="M237.1 569.6H240.8M239.1 567.2H240.8M239.1 564.7H240.8M239.1 562.3H240.8M239.1 559.9H240.8M239.1 557.5H240.8M239.1 555H240.8M239.1 552.6H240.8M239.1 550.2H240.8M239.1 547.7H240.8M237.1 545.3H240.8M239.1 542.9H240.8M239.1 540.4H240.8M239.1 538H240.8M239.1 535.6H240.8M239.1 533.1H240.8M239.1 530.7H240.8M239.1 528.3H240.8M239.1 525.9H240.8M239.1 523.4H240.8M237.1 521H240.8M239.1 518.6H240.8M239.1 516.1H240.8M239.1 513.7H240.8M239.1 511.3H240.8M239.1 508.9H240.8M239.1 506.4H240.8M239.1 504H240.8M239.1 501.6H240.8M239.1 499.1H240.8M237.1 496.7H240.8M239.1 494.3H240.8M239.1 491.8H240.8M239.1 489.4H240.8M239.1 487H240.8M239.1 484.6H240.8M239.1 482.1H240.8M239.1 479.7H240.8M239.1 477.3H240.8M239.1 474.8H240.8M237.1 472.4H240.8M239.1 470H240.8M239.1 467.5H240.8M239.1 465.1H240.8M239.1 462.7H240.8M239.1 460.2H240.8M239.1 457.8H240.8M239.1 455.4H240.8M239.1 453H240.8M239.1 450.5H240.8M237.1 448.1H240.8" stroke="#000" stroke-width="1.1" fill="none"/>
<path d="M240.8 570V573.6M250.4 569.5V571.8M256 569.5V571.8M260 569.5V571.8M263.1 569.5V571.8M265.6 569.5V571.8M267.8 569.5V571.8M269.6 569.5V571.8M271.3 569.5V571.8M272.7 570V573.6M282.3 569.5V571.8M288 569.5V571.8M291.9 569.5V571.8M295 569.5V571.8M297.6 569.5V571.8M299.7 569.5V571.8M301.6 569.5V571.8M303.2 569.5V571.8M304.6 570V573.6M314.3 569.5V571.8M319.9 569.5V571.8M323.9 569.5V571.8M327 569.5V571.8M329.5 569.5V571.8M331.6 569.5V571.8M333.5 569.5V571.8M335.1 569.5V571.8M336.6 570V573.6M346.2 569.5V571.8M351.8 569.5V571.8M355.8 569.5V571.8M358.9 569.5V571.8M361.4 569.5V571.8M363.6 569.5V571.8M365.4 569.5V571.8M367 569.5V571.8M368.5 570V573.6" stroke="#000" stroke-width="1.1" fill="none"/>
<rect x="386.5" y="442.8" width="127" height="127.2" fill="none" stroke="#000" stroke-width="1.5"/>
<path d="M382.8 569.6H386.5M384.8 567.2H386.5M384.8 564.7H386.5M384.8 562.3H386.5M384.8 559.9H386.5M384.8 557.5H386.5M384.8 555H386.5M384.8 552.6H386.5M384.8 550.2H386.5M384.8 547.7H386.5M382.8 545.3H386.5M384.8 542.9H386.5M384.8 540.4H386.5M384.8 538H386.5M384.8 535.6H386.5M384.8 533.1H386.5M384.8 530.7H386.5M384.8 528.3H386.5M384.8 525.9H386.5M384.8 523.4H386.5M382.8 521H386.5M384.8 518.6H386.5M384.8 516.1H386.5M384.8 513.7H386.5M384.8 511.3H386.5M384.8 508.9H386.5M384.8 506.4H386.5M384.8 504H386.5M384.8 501.6H386.5M384.8 499.1H386.5M382.8 496.7H386.5M384.8 494.3H386.5M384.8 491.8H386.5M384.8 489.4H386.5M384.8 487H386.5M384.8 484.6H386.5M384.8 482.1H386.5M384.8 479.7H386.5M384.8 477.3H386.5M384.8 474.8H386.5M382.8 472.4H386.5M384.8 470H386.5M384.8 467.5H386.5M384.8 465.1H386.5M384.8 462.7H386.5M384.8 460.2H386.5M384.8 457.8H386.5M384.8 455.4H386.5M384.8 453H386.5M384.8 450.5H386.5M382.8 448.1H386.5" stroke="#000" stroke-width="1.1" fill="none"/>
<path d="M386.5 570V573.6M396.1 569.5V571.8M401.6 569.5V571.8M405.6 569.5V571.8M408.7 569.5V571.8M411.2 569.5V571.8M413.3 569.5V571.8M415.2 569.5V571.8M416.8 569.5V571.8M418.2 570V573.6M427.8 569.5V571.8M433.4 569.5V571.8M437.4 569.5V571.8M440.4 569.5V571.8M443 569.5V571.8M445.1 569.5V571.8M446.9 569.5V571.8M448.5 569.5V571.8M450 570V573.6M459.6 569.5V571.8M465.1 569.5V571.8M469.1 569.5V571.8M472.2 569.5V571.8M474.7 569.5V571.8M476.8 569.5V571.8M478.7 569.5V571.8M480.3 569.5V571.8M481.8 570V573.6M491.3 569.5V571.8M496.9 569.5V571.8M500.9 569.5V571.8M503.9 569.5V571.8M506.5 569.5V571.8M508.6 569.5V571.8M510.4 569.5V571.8M512 569.5V571.8M513.5 570V573.6" stroke="#000" stroke-width="1.1" fill="none"/>
<rect x="95.5" y="581.5" width="128.3" height="126.7" fill="none" stroke="#000" stroke-width="1.5"/>
<path d="M91.8 707.8H95.5M93.8 705.4H95.5M93.8 703H95.5M93.8 700.5H95.5M93.8 698.1H95.5M93.8 695.7H95.5M93.8 693.3H95.5M93.8 690.9H95.5M93.8 688.4H95.5M93.8 686H95.5M91.8 683.6H95.5M93.8 681.2H95.5M93.8 678.8H95.5M93.8 676.3H95.5M93.8 673.9H95.5M93.8 671.5H95.5M93.8 669.1H95.5M93.8 666.7H95.5M93.8 664.2H95.5M93.8 661.8H95.5M91.8 659.4H95.5M93.8 657H95.5M93.8 654.6H95.5M93.8 652.1H95.5M93.8 649.7H95.5M93.8 647.3H95.5M93.8 644.9H95.5M93.8 642.5H95.5M93.8 640H95.5M93.8 637.6H95.5M91.8 635.2H95.5M93.8 632.8H95.5M93.8 630.4H95.5M93.8 627.9H95.5M93.8 625.5H95.5M93.8 623.1H95.5M93.8 620.7H95.5M93.8 618.3H95.5M93.8 615.8H95.5M93.8 613.4H95.5M91.8 611H95.5M93.8 608.6H95.5M93.8 606.2H95.5M93.8 603.7H95.5M93.8 601.3H95.5M93.8 598.9H95.5M93.8 596.5H95.5M93.8 594.1H95.5M93.8 591.6H95.5M93.8 589.2H95.5M91.8 586.8H95.5" stroke="#000" stroke-width="1.1" fill="none"/>
<path d="M95.5 708.2V711.8M105.2 707.7V710M110.8 707.7V710M114.8 707.7V710M117.9 707.7V710M120.5 707.7V710M122.6 707.7V710M124.5 707.7V710M126.1 707.7V710M127.6 708.2V711.8M137.2 707.7V710M142.9 707.7V710M146.9 707.7V710M150 707.7V710M152.5 707.7V710M154.7 707.7V710M156.5 707.7V710M158.2 707.7V710M159.7 708.2V711.8M169.3 707.7V710M175 707.7V710M179 707.7V710M182.1 707.7V710M184.6 707.7V710M186.8 707.7V710M188.6 707.7V710M190.3 707.7V710M191.7 708.2V711.8M201.4 707.7V710M207 707.7V710M211 707.7V710M214.1 707.7V710M216.7 707.7V710M218.8 707.7V710M220.7 707.7V710M222.3 707.7V710M223.8 708.2V711.8" stroke="#000" stroke-width="1.1" fill="none"/>
<rect x="240.8" y="581.5" width="127.7" height="126.7" fill="none" stroke="#000" stroke-width="1.5"/>
<path d="M237.1 707.8H240.8M239.1 705.4H240.8M239.1 703H240.8M239.1 700.5H240.8M239.1 698.1H240.8M239.1 695.7H240.8M239.1 693.3H240.8M239.1 690.9H240.8M239.1 688.4H240.8M239.1 686H240.8M237.1 683.6H240.8M239.1 681.2H240.8M239.1 678.8H240.8M239.1 676.3H240.8M239.1 673.9H240.8M239.1 671.5H240.8M239.1 669.1H240.8M239.1 666.7H240.8M239.1 664.2H240.8M239.1 661.8H240.8M237.1 659.4H240.8M239.1 657H240.8M239.1 654.6H240.8M239.1 652.1H240.8M239.1 649.7H240.8M239.1 647.3H240.8M239.1 644.9H240.8M239.1 642.5H240.8M239.1 640H240.8M239.1 637.6H240.8M237.1 635.2H240.8M239.1 632.8H240.8M239.1 630.4H240.8M239.1 627.9H240.8M239.1 625.5H240.8M239.1 623.1H240.8M239.1 620.7H240.8M239.1 618.3H240.8M239.1 615.8H240.8M239.1 613.4H240.8M237.1 611H240.8M239.1 608.6H240.8M239.1 606.2H240.8M239.1 603.7H240.8M239.1 601.3H240.8M239.1 598.9H240.8M239.1 596.5H240.8M239.1 594.1H240.8M239.1 591.6H240.8M239.1 589.2H240.8M237.1 586.8H240.8" stroke="#000" stroke-width="1.1" fill="none"/>
<path d="M240.8 708.2V711.8M250.4 707.7V710M256 707.7V710M260 707.7V710M263.1 707.7V710M265.6 707.7V710M267.8 707.7V710M269.6 707.7V710M271.3 707.7V710M272.7 708.2V711.8M282.3 707.7V710M288 707.7V710M291.9 707.7V710M295 707.7V710M297.6 707.7V710M299.7 707.7V710M301.6 707.7V710M303.2 707.7V710M304.6 708.2V711.8M314.3 707.7V710M319.9 707.7V710M323.9 707.7V710M327 707.7V710M329.5 707.7V710M331.6 707.7V710M333.5 707.7V710M335.1 707.7V710M336.6 708.2V711.8M346.2 707.7V710M351.8 707.7V710M355.8 707.7V710M358.9 707.7V710M361.4 707.7V710M363.6 707.7V710M365.4 707.7V710M367 707.7V710M368.5 708.2V711.8" stroke="#000" stroke-width="1.1" fill="none"/>
<rect x="386.5" y="581.5" width="127" height="126.7" fill="none" stroke="#000" stroke-width="1.5"/>
<path d="M382.8 707.8H386.5M384.8 705.4H386.5M384.8 703H386.5M384.8 700.5H386.5M384.8 698.1H386.5M384.8 695.7H386.5M384.8 693.3H386.5M384.8 690.9H386.5M384.8 688.4H386.5M384.8 686H386.5M382.8 683.6H386.5M384.8 681.2H386.5M384.8 678.8H386.5M384.8 676.3H386.5M384.8 673.9H386.5M384.8 671.5H386.5M384.8 669.1H386.5M384.8 666.7H386.5M384.8 664.2H386.5M384.8 661.8H386.5M382.8 659.4H386.5M384.8 657H386.5M384.8 654.6H386.5M384.8 652.1H386.5M384.8 649.7H386.5M384.8 647.3H386.5M384.8 644.9H386.5M384.8 642.5H386.5M384.8 640H386.5M384.8 637.6H386.5M382.8 635.2H386.5M384.8 632.8H386.5M384.8 630.4H386.5M384.8 627.9H386.5M384.8 625.5H386.5M384.8 623.1H386.5M384.8 620.7H386.5M384.8 618.3H386.5M384.8 615.8H386.5M384.8 613.4H386.5M382.8 611H386.5M384.8 608.6H386.5M384.8 606.2H386.5M384.8 603.7H386.5M384.8 601.3H386.5M384.8 598.9H386.5M384.8 596.5H386.5M384.8 594.1H386.5M384.8 591.6H386.5M384.8 589.2H386.5M382.8 586.8H386.5" stroke="#000" stroke-width="1.1" fill="none"/>
<path d="M386.5 708.2V711.8M396.1 707.7V710M401.6 707.7V710M405.6 707.7V710M408.7 707.7V710M411.2 707.7V710M413.3 707.7V710M415.2 707.7V710M416.8 707.7V710M418.2 708.2V711.8M427.8 707.7V710M433.4 707.7V710M437.4 707.7V710M440.4 707.7V710M443 707.7V710M445.1 707.7V710M446.9 707.7V710M448.5 707.7V710M450 708.2V711.8M459.6 707.7V710M465.1 707.7V710M469.1 707.7V710M472.2 707.7V710M474.7 707.7V710M476.8 707.7V710M478.7 707.7V710M480.3 707.7V710M481.8 708.2V711.8M491.3 707.7V710M496.9 707.7V710M500.9 707.7V710M503.9 707.7V710M506.5 707.7V710M508.6 707.7V710M510.4 707.7V710M512 707.7V710M513.5 708.2V711.8" stroke="#000" stroke-width="1.1" fill="none"/>
<rect x="95.5" y="720.8" width="128.3" height="127.4" fill="none" stroke="#000" stroke-width="1.5"/>
<path d="M91.8 847.8H95.5M93.8 845.4H95.5M93.8 842.9H95.5M93.8 840.5H95.5M93.8 838.1H95.5M93.8 835.6H95.5M93.8 833.2H95.5M93.8 830.8H95.5M93.8 828.3H95.5M93.8 825.9H95.5M91.8 823.5H95.5M93.8 821H95.5M93.8 818.6H95.5M93.8 816.2H95.5M93.8 813.7H95.5M93.8 811.3H95.5M93.8 808.9H95.5M93.8 806.4H95.5M93.8 804H95.5M93.8 801.6H95.5M91.8 799.1H95.5M93.8 796.7H95.5M93.8 794.3H95.5M93.8 791.8H95.5M93.8 789.4H95.5M93.8 787H95.5M93.8 784.5H95.5M93.8 782.1H95.5M93.8 779.6H95.5M93.8 777.2H95.5M91.8 774.8H95.5M93.8 772.3H95.5M93.8 769.9H95.5M93.8 767.5H95.5M93.8 765H95.5M93.8 762.6H95.5M93.8 760.2H95.5M93.8 757.7H95.5M93.8 755.3H95.5M93.8 752.9H95.5M91.8 750.4H95.5M93.8 748H95.5M93.8 745.6H95.5M93.8 743.1H95.5M93.8 740.7H95.5M93.8 738.3H95.5M93.8 735.8H95.5M93.8 733.4H95.5M93.8 731H95.5M93.8 728.5H95.5M91.8 726.1H95.5" stroke="#000" stroke-width="1.1" fill="none"/>
<path d="M95.5 848.2V851.8M105.2 847.7V850M110.8 847.7V850M114.8 847.7V850M117.9 847.7V850M120.5 847.7V850M122.6 847.7V850M124.5 847.7V850M126.1 847.7V850M127.6 848.2V851.8M137.2 847.7V850M142.9 847.7V850M146.9 847.7V850M150 847.7V850M152.5 847.7V850M154.7 847.7V850M156.5 847.7V850M158.2 847.7V850M159.7 848.2V851.8M169.3 847.7V850M175 847.7V850M179 847.7V850M182.1 847.7V850M184.6 847.7V850M186.8 847.7V850M188.6 847.7V850M190.3 847.7V850M191.7 848.2V851.8M201.4 847.7V850M207 847.7V850M211 847.7V850M214.1 847.7V850M216.7 847.7V850M218.8 847.7V850M220.7 847.7V850M222.3 847.7V850M223.8 848.2V851.8" stroke="#000" stroke-width="1.1" fill="none"/>
<rect x="240.8" y="720.8" width="127.7" height="127.4" fill="none" stroke="#000" stroke-width="1.5"/>
<path d="M237.1 847.8H240.8M239.1 845.4H240.8M239.1 842.9H240.8M239.1 840.5H240.8M239.1 838.1H240.8M239.1 835.6H240.8M239.1 833.2H240.8M239.1 830.8H240.8M239.1 828.3H240.8M239.1 825.9H240.8M237.1 823.5H240.8M239.1 821H240.8M239.1 818.6H240.8M239.1 816.2H240.8M239.1 813.7H240.8M239.1 811.3H240.8M239.1 808.9H240.8M239.1 806.4H240.8M239.1 804H240.8M239.1 801.6H240.8M237.1 799.1H240.8M239.1 796.7H240.8M239.1 794.3H240.8M239.1 791.8H240.8M239.1 789.4H240.8M239.1 787H240.8M239.1 784.5H240.8M239.1 782.1H240.8M239.1 779.6H240.8M239.1 777.2H240.8M237.1 774.8H240.8M239.1 772.3H240.8M239.1 769.9H240.8M239.1 767.5H240.8M239.1 765H240.8M239.1 762.6H240.8M239.1 760.2H240.8M239.1 757.7H240.8M239.1 755.3H240.8M239.1 752.9H240.8M237.1 750.4H240.8M239.1 748H240.8M239.1 745.6H240.8M239.1 743.1H240.8M239.1 740.7H240.8M239.1 738.3H240.8M239.1 735.8H240.8M239.1 733.4H240.8M239.1 731H240.8M239.1 728.5H240.8M237.1 726.1H240.8" stroke="#000" stroke-width="1.1" fill="none"/>
<path d="M240.8 848.2V851.8M250.4 847.7V850M256 847.7V850M260 847.7V850M263.1 847.7V850M265.6 847.7V850M267.8 847.7V850M269.6 847.7V850M271.3 847.7V850M272.7 848.2V851.8M282.3 847.7V850M288 847.7V850M291.9 847.7V850M295 847.7V850M297.6 847.7V850M299.7 847.7V850M301.6 847.7V850M303.2 847.7V850M304.6 848.2V851.8M314.3 847.7V850M319.9 847.7V850M323.9 847.7V850M327 847.7V850M329.5 847.7V850M331.6 847.7V850M333.5 847.7V850M335.1 847.7V850M336.6 848.2V851.8M346.2 847.7V850M351.8 847.7V850M355.8 847.7V850M358.9 847.7V850M361.4 847.7V850M363.6 847.7V850M365.4 847.7V850M367 847.7V850M368.5 848.2V851.8" stroke="#000" stroke-width="1.1" fill="none"/>
<rect x="386.5" y="720.8" width="127" height="127.4" fill="none" stroke="#000" stroke-width="1.5"/>
<path d="M382.8 847.8H386.5M384.8 845.4H386.5M384.8 842.9H386.5M384.8 840.5H386.5M384.8 838.1H386.5M384.8 835.6H386.5M384.8 833.2H386.5M384.8 830.8H386.5M384.8 828.3H386.5M384.8 825.9H386.5M382.8 823.5H386.5M384.8 821H386.5M384.8 818.6H386.5M384.8 816.2H386.5M384.8 813.7H386.5M384.8 811.3H386.5M384.8 808.9H386.5M384.8 806.4H386.5M384.8 804H386.5M384.8 801.6H386.5M382.8 799.1H386.5M384.8 796.7H386.5M384.8 794.3H386.5M384.8 791.8H386.5M384.8 789.4H386.5M384.8 787H386.5M384.8 784.5H386.5M384.8 782.1H386.5M384.8 779.6H386.5M384.8 777.2H386.5M382.8 774.8H386.5M384.8 772.3H386.5M384.8 769.9H386.5M384.8 767.5H386.5M384.8 765H386.5M384.8 762.6H386.5M384.8 760.2H386.5M384.8 757.7H386.5M384.8 755.3H386.5M384.8 752.9H386.5M382.8 750.4H386.5M384.8 748H386.5M384.8 745.6H386.5M384.8 743.1H386.5M384.8 740.7H386.5M384.8 738.3H386.5M384.8 735.8H386.5M384.8 733.4H386.5M384.8 731H386.5M384.8 728.5H386.5M382.8 726.1H386.5" stroke="#000" stroke-width="1.1" fill="none"/>
<path d="M386.5 848.2V851.8M396.1 847.7V850M401.6 847.7V850M405.6 847.7V850M408.7 847.7V850M411.2 847.7V850M413.3 847.7V850M415.2 847.7V850M416.8 847.7V850M418.2 848.2V851.8M427.8 847.7V850M433.4 847.7V850M437.4 847.7V850M440.4 847.7V850M443 847.7V850M445.1 847.7V850M446.9 847.7V850M448.5 847.7V850M450 848.2V851.8M459.6 847.7V850M465.1 847.7V850M469.1 847.7V850M472.2 847.7V850M474.7 847.7V850M476.8 847.7V850M478.7 847.7V850M480.3 847.7V850M481.8 848.2V851.8M491.3 847.7V850M496.9 847.7V850M500.9 847.7V850M503.9 847.7V850M506.5 847.7V850M508.6 847.7V850M510.4 847.7V850M512 847.7V850M513.5 848.2V851.8" stroke="#000" stroke-width="1.1" fill="none"/>
<rect x="95.5" y="860.5" width="128.3" height="126.9" fill="none" stroke="#000" stroke-width="1.5"/>
<path d="M91.8 987H95.5M93.8 984.6H95.5M93.8 982.2H95.5M93.8 979.7H95.5M93.8 977.3H95.5M93.8 974.9H95.5M93.8 972.5H95.5M93.8 970H95.5M93.8 967.6H95.5M93.8 965.2H95.5M91.8 962.8H95.5M93.8 960.3H95.5M93.8 957.9H95.5M93.8 955.5H95.5M93.8 953.1H95.5M93.8 950.6H95.5M93.8 948.2H95.5M93.8 945.8H95.5M93.8 943.4H95.5M93.8 940.9H95.5M91.8 938.5H95.5M93.8 936.1H95.5M93.8 933.7H95.5M93.8 931.2H95.5M93.8 928.8H95.5M93.8 926.4H95.5M93.8 924H95.5M93.8 921.6H95.5M93.8 919.1H95.5M93.8 916.7H95.5M91.8 914.3H95.5M93.8 911.9H95.5M93.8 909.4H95.5M93.8 907H95.5M93.8 904.6H95.5M93.8 902.2H95.5M93.8 899.7H95.5M93.8 897.3H95.5M93.8 894.9H95.5M93.8 892.5H95.5M91.8 890H95.5M93.8 887.6H95.5M93.8 885.2H95.5M93.8 882.8H95.5M93.8 880.3H95.5M93.8 877.9H95.5M93.8 875.5H95.5M93.8 873.1H95.5M93.8 870.6H95.5M93.8 868.2H95.5M91.8 865.8H95.5" stroke="#000" stroke-width="1.1" fill="none"/>
<path d="M95.5 987.4V991M105.2 986.9V989.2M110.8 986.9V989.2M114.8 986.9V989.2M117.9 986.9V989.2M120.5 986.9V989.2M122.6 986.9V989.2M124.5 986.9V989.2M126.1 986.9V989.2M127.6 987.4V991M137.2 986.9V989.2M142.9 986.9V989.2M146.9 986.9V989.2M150 986.9V989.2M152.5 986.9V989.2M154.7 986.9V989.2M156.5 986.9V989.2M158.2 986.9V989.2M159.7 987.4V991M169.3 986.9V989.2M175 986.9V989.2M179 986.9V989.2M182.1 986.9V989.2M184.6 986.9V989.2M186.8 986.9V989.2M188.6 986.9V989.2M190.3 986.9V989.2M191.7 987.4V991M201.4 986.9V989.2M207 986.9V989.2M211 986.9V989.2M214.1 986.9V989.2M216.7 986.9V989.2M218.8 986.9V989.2M220.7 986.9V989.2M222.3 986.9V989.2M223.8 987.4V991" stroke="#000" stroke-width="1.1" fill="none"/>
<rect x="240.8" y="860.5" width="127.7" height="126.9" fill="none" stroke="#000" stroke-width="1.5"/>
<path d="M237.1 987H240.8M239.1 984.6H240.8M239.1 982.2H240.8M239.1 979.7H240.8M239.1 977.3H240.8M239.1 974.9H240.8M239.1 972.5H240.8M239.1 970H240.8M239.1 967.6H240.8M239.1 965.2H240.8M237.1 962.8H240.8M239.1 960.3H240.8M239.1 957.9H240.8M239.1 955.5H240.8M239.1 953.1H240.8M239.1 950.6H240.8M239.1 948.2H240.8M239.1 945.8H240.8M239.1 943.4H240.8M239.1 940.9H240.8M237.1 938.5H240.8M239.1 936.1H240.8M239.1 933.7H240.8M239.1 931.2H240.8M239.1 928.8H240.8M239.1 926.4H240.8M239.1 924H240.8M239.1 921.6H240.8M239.1 919.1H240.8M239.1 916.7H240.8M237.1 914.3H240.8M239.1 911.9H240.8M239.1 909.4H240.8M239.1 907H240.8M239.1 904.6H240.8M239.1 902.2H240.8M239.1 899.7H240.8M239.1 897.3H240.8M239.1 894.9H240.8M239.1 892.5H240.8M237.1 890H240.8M239.1 887.6H240.8M239.1 885.2H240.8M239.1 882.8H240.8M239.1 880.3H240.8M239.1 877.9H240.8M239.1 875.5H240.8M239.1 873.1H240.8M239.1 870.6H240.8M239.1 868.2H240.8M237.1 865.8H240.8" stroke="#000" stroke-width="1.1" fill="none"/>
<path d="M240.8 987.4V991M250.4 986.9V989.2M256 986.9V989.2M260 986.9V989.2M263.1 986.9V989.2M265.6 986.9V989.2M267.8 986.9V989.2M269.6 986.9V989.2M271.3 986.9V989.2M272.7 987.4V991M282.3 986.9V989.2M288 986.9V989.2M291.9 986.9V989.2M295 986.9V989.2M297.6 986.9V989.2M299.7 986.9V989.2M301.6 986.9V989.2M303.2 986.9V989.2M304.6 987.4V991M314.3 986.9V989.2M319.9 986.9V989.2M323.9 986.9V989.2M327 986.9V989.2M329.5 986.9V989.2M331.6 986.9V989.2M333.5 986.9V989.2M335.1 986.9V989.2M336.6 987.4V991M346.2 986.9V989.2M351.8 986.9V989.2M355.8 986.9V989.2M358.9 986.9V989.2M361.4 986.9V989.2M363.6 986.9V989.2M365.4 986.9V989.2M367 986.9V989.2M368.5 987.4V991" stroke="#000" stroke-width="1.1" fill="none"/>
<rect x="386.5" y="860.5" width="127" height="126.9" fill="none" stroke="#000" stroke-width="1.5"/>
<path d="M382.8 987H386.5M384.8 984.6H386.5M384.8 982.2H386.5M384.8 979.7H386.5M384.8 977.3H386.5M384.8 974.9H386.5M384.8 972.5H386.5M384.8 970H386.5M384.8 967.6H386.5M384.8 965.2H386.5M382.8 962.8H386.5M384.8 960.3H386.5M384.8 957.9H386.5M384.8 955.5H386.5M384.8 953.1H386.5M384.8 950.6H386.5M384.8 948.2H386.5M384.8 945.8H386.5M384.8 943.4H386.5M384.8 940.9H386.5M382.8 938.5H386.5M384.8 936.1H386.5M384.8 933.7H386.5M384.8 931.2H386.5M384.8 928.8H386.5M384.8 926.4H386.5M384.8 924H386.5M384.8 921.6H386.5M384.8 919.1H386.5M384.8 916.7H386.5M382.8 914.3H386.5M384.8 911.9H386.5M384.8 909.4H386.5M384.8 907H386.5M384.8 904.6H386.5M384.8 902.2H386.5M384.8 899.7H386.5M384.8 897.3H386.5M384.8 894.9H386.5M384.8 892.5H386.5M382.8 890H386.5M384.8 887.6H386.5M384.8 885.2H386.5M384.8 882.8H386.5M384.8 880.3H386.5M384.8 877.9H386.5M384.8 875.5H386.5M384.8 873.1H386.5M384.8 870.6H386.5M384.8 868.2H386.5M382.8 865.8H386.5" stroke="#000" stroke-width="1.1" fill="none"/>
<path d="M386.5 987.4V991M396.1 986.9V989.2M401.6 986.9V989.2M405.6 986.9V989.2M408.7 986.9V989.2M411.2 986.9V989.2M413.3 986.9V989.2M415.2 986.9V989.2M416.8 986.9V989.2M418.2 987.4V991M427.8 986.9V989.2M433.4 986.9V989.2M437.4 986.9V989.2M440.4 986.9V989.2M443 986.9V989.2M445.1 986.9V989.2M446.9 986.9V989.2M448.5 986.9V989.2M450 987.4V991M459.6 986.9V989.2M465.1 986.9V989.2M469.1 986.9V989.2M472.2 986.9V989.2M474.7 986.9V989.2M476.8 986.9V989.2M478.7 986.9V989.2M480.3 986.9V989.2M481.8 987.4V991M491.3 986.9V989.2M496.9 986.9V989.2M500.9 986.9V989.2M503.9 986.9V989.2M506.5 986.9V989.2M508.6 986.9V989.2M510.4 986.9V989.2M512 986.9V989.2M513.5 987.4V991" stroke="#000" stroke-width="1.1" fill="none"/>
<text class="h" transform="translate(147.1 15.5) scale(1.0516 1)" x="-1.27" font-size="21.21" font-weight="bold">BM</text>
<text class="h" transform="translate(285.7 15.5) scale(1.0137 1)" x="-1.29" font-size="21.50" font-weight="bold">PB</text>
<text class="h" transform="translate(393.8 15.4) scale(1.0355 1)" x="-0.63" font-size="21.01" font-weight="bold">spleen</text>
<text class="h" transform="translate(3.3 37.1) scale(0.9598 1)" x="-0.51" font-size="25.36" font-weight="bold">A</text>
<text class="h" transform="translate(2.6 181.5) scale(0.9562 1)" x="-1.51" font-size="25.22" font-weight="bold">B</text>
<text class="h" transform="translate(3 323.1) scale(0.9007 1)" x="-1.07" font-size="26.83" font-weight="bold">C</text>
<text class="h" transform="translate(2.6 461.2) scale(0.9488 1)" x="-1.56" font-size="26.01" font-weight="bold">D</text>
<text class="h" transform="translate(2.6 601.5) scale(0.9273 1)" x="-1.56" font-size="26.01" font-weight="bold">E</text>
<text class="h" transform="translate(2.6 742.1) scale(0.9800 1)" x="-1.56" font-size="26.00" font-weight="bold">F</text>
<text class="h" transform="translate(3 878.1) scale(0.9235 1)" x="-1.07" font-size="26.83" font-weight="bold">G</text>
<text class="h" transform="translate(34.6 140.3) rotate(-90) scale(0.9866 1)" x="-1.20" font-size="20.05" font-weight="bold">integrin</text>
<text class="h" transform="translate(34.6 274) rotate(-90) scale(0.9824 1)" x="-1.20" font-size="20.05" font-weight="bold">integrin</text>
<text class="h" transform="translate(34.6 413.8) rotate(-90) scale(0.9824 1)" x="-1.20" font-size="20.05" font-weight="bold">integrin</text>
<text class="h" transform="translate(14.6 114.2) rotate(-90) scale(0.9116 1)" x="-0.58" font-size="19.50" font-weight="bold">&#945;4</text>
<text class="h" transform="translate(14.6 248.6) rotate(-90) scale(0.9086 1)" x="-0.58" font-size="19.50" font-weight="bold">&#945;5</text>
<text class="h" transform="translate(14.8 400.8) rotate(-90) scale(1.0005 1)" x="-0.57" font-size="18.99" font-weight="bold">&#945;4&#946;7</text>
<text class="h" transform="translate(34.2 544.2) rotate(-90) scale(0.9442 1)" x="-1.20" font-size="19.93" font-weight="bold">LFA-1</text>
<text class="h" transform="translate(34.2 684.9) rotate(-90) scale(0.9628 1)" x="-0.80" font-size="19.93" font-weight="bold">CXCR4</text>
<text class="h" transform="translate(34.2 828.3) rotate(-90) scale(0.9343 1)" x="-1.20" font-size="19.93" font-weight="bold">PSGL-1</text>
<text class="h" transform="translate(34.2 982.2) rotate(-90) scale(1.0005 1)" x="-1.18" font-size="19.66" font-weight="bold">L-selectin</text>
<text class="h" transform="translate(60.8 642.2) rotate(-90) scale(0.9989 1)" x="-1.04" font-size="17.36" font-weight="bold">Percent of maximum</text>
<text class="t" transform="translate(88.8 160.4) scale(0.93 1)" x="0.51" font-size="14.0" text-anchor="end">0</text>
<text class="t" transform="translate(88.8 136) scale(0.93 1)" x="0.51" font-size="14.0" text-anchor="end">20</text>
<text class="t" transform="translate(88.8 111.6) scale(0.93 1)" x="0.51" font-size="14.0" text-anchor="end">40</text>
<text class="t" transform="translate(88.8 87.2) scale(0.93 1)" x="0.51" font-size="14.0" text-anchor="end">60</text>
<text class="t" transform="translate(88.8 62.8) scale(0.93 1)" x="0.51" font-size="14.0" text-anchor="end">80</text>
<text class="t" transform="translate(88.8 37) scale(0.93 1)" x="0.51" font-size="14.0" text-anchor="end">100</text>
<text class="t" transform="translate(88.8 298.4) scale(0.93 1)" x="0.51" font-size="14.0" text-anchor="end">0</text>
<text class="t" transform="translate(88.8 273.9) scale(0.93 1)" x="0.51" font-size="14.0" text-anchor="end">20</text>
<text class="t" transform="translate(88.8 249.4) scale(0.93 1)" x="0.51" font-size="14.0" text-anchor="end">40</text>
<text class="t" transform="translate(88.8 225) scale(0.93 1)" x="0.51" font-size="14.0" text-anchor="end">60</text>
<text class="t" transform="translate(88.8 200.5) scale(0.93 1)" x="0.51" font-size="14.0" text-anchor="end">80</text>
<text class="t" transform="translate(88.8 174.7) scale(0.93 1)" x="0.51" font-size="14.0" text-anchor="end">100</text>
<text class="t" transform="translate(88.8 437.3) scale(0.93 1)" x="0.51" font-size="14.0" text-anchor="end">0</text>
<text class="t" transform="translate(88.8 413.1) scale(0.93 1)" x="0.51" font-size="14.0" text-anchor="end">20</text>
<text class="t" transform="translate(88.8 388.9) scale(0.93 1)" x="0.51" font-size="14.0" text-anchor="end">40</text>
<text class="t" transform="translate(88.8 364.7) scale(0.93 1)" x="0.51" font-size="14.0" text-anchor="end">60</text>
<text class="t" transform="translate(88.8 340.5) scale(0.93 1)" x="0.51" font-size="14.0" text-anchor="end">80</text>
<text class="t" transform="translate(88.8 315) scale(0.93 1)" x="0.51" font-size="14.0" text-anchor="end">100</text>
<text class="t" transform="translate(88.8 575) scale(0.93 1)" x="0.51" font-size="14.0" text-anchor="end">0</text>
<text class="t" transform="translate(88.8 550.7) scale(0.93 1)" x="0.51" font-size="14.0" text-anchor="end">20</text>
<text class="t" transform="translate(88.8 526.4) scale(0.93 1)" x="0.51" font-size="14.0" text-anchor="end">40</text>
<text class="t" transform="translate(88.8 502.1) scale(0.93 1)" x="0.51" font-size="14.0" text-anchor="end">60</text>
<text class="t" transform="translate(88.8 477.8) scale(0.93 1)" x="0.51" font-size="14.0" text-anchor="end">80</text>
<text class="t" transform="translate(88.8 452.1) scale(0.93 1)" x="0.51" font-size="14.0" text-anchor="end">100</text>
<text class="t" transform="translate(88.8 713.2) scale(0.93 1)" x="0.51" font-size="14.0" text-anchor="end">0</text>
<text class="t" transform="translate(88.8 689) scale(0.93 1)" x="0.51" font-size="14.0" text-anchor="end">20</text>
<text class="t" transform="translate(88.8 664.8) scale(0.93 1)" x="0.51" font-size="14.0" text-anchor="end">40</text>
<text class="t" transform="translate(88.8 640.6) scale(0.93 1)" x="0.51" font-size="14.0" text-anchor="end">60</text>
<text class="t" transform="translate(88.8 616.4) scale(0.93 1)" x="0.51" font-size="14.0" text-anchor="end">80</text>
<text class="t" transform="translate(88.8 590.8) scale(0.93 1)" x="0.51" font-size="14.0" text-anchor="end">100</text>
<text class="t" transform="translate(88.8 853.2) scale(0.93 1)" x="0.51" font-size="14.0" text-anchor="end">0</text>
<text class="t" transform="translate(88.8 828.8) scale(0.93 1)" x="0.51" font-size="14.0" text-anchor="end">20</text>
<text class="t" transform="translate(88.8 804.5) scale(0.93 1)" x="0.51" font-size="14.0" text-anchor="end">40</text>
<text class="t" transform="translate(88.8 780.1) scale(0.93 1)" x="0.51" font-size="14.0" text-anchor="end">60</text>
<text class="t" transform="translate(88.8 755.8) scale(0.93 1)" x="0.51" font-size="14.0" text-anchor="end">80</text>
<text class="t" transform="translate(88.8 730.1) scale(0.93 1)" x="0.51" font-size="14.0" text-anchor="end">100</text>
<text class="t" transform="translate(88.8 992.4) scale(0.93 1)" x="0.51" font-size="14.0" text-anchor="end">0</text>
<text class="t" transform="translate(88.8 968.1) scale(0.93 1)" x="0.51" font-size="14.0" text-anchor="end">20</text>
<text class="t" transform="translate(88.8 943.9) scale(0.93 1)" x="0.51" font-size="14.0" text-anchor="end">40</text>
<text class="t" transform="translate(88.8 919.6) scale(0.93 1)" x="0.51" font-size="14.0" text-anchor="end">60</text>
<text class="t" transform="translate(88.8 895.4) scale(0.93 1)" x="0.51" font-size="14.0" text-anchor="end">80</text>
<text class="t" transform="translate(88.8 869.8) scale(0.93 1)" x="0.51" font-size="14.0" text-anchor="end">100</text>
<text class="t" transform="translate(89.3 1007.2) scale(0.9598 1)" x="-0.84" font-size="13.94" font-weight="bold">10</text>
<text class="t" x="102.9" y="999.0" font-size="9.6">0</text>
<text class="t" transform="translate(117.3 1007.2) scale(0.9598 1)" x="-0.84" font-size="13.94" font-weight="bold">10</text>
<text class="t" x="130.6" y="999.0" font-size="9.6">1</text>
<text class="t" transform="translate(147.8 1007.2) scale(0.9598 1)" x="-0.84" font-size="13.94" font-weight="bold">10</text>
<text class="t" x="161.4" y="999.0" font-size="9.6">2</text>
<text class="t" transform="translate(181.3 1007.2) scale(0.9598 1)" x="-0.84" font-size="13.94" font-weight="bold">10</text>
<text class="t" x="195" y="999.0" font-size="9.6">3</text>
<text class="t" transform="translate(212.5 1007.2) scale(0.9598 1)" x="-0.84" font-size="13.94" font-weight="bold">10</text>
<text class="t" x="226.3" y="999.0" font-size="9.6">4</text>
<text class="t" transform="translate(234.6 1007.2) scale(0.9598 1)" x="-0.84" font-size="13.94" font-weight="bold">10</text>
<text class="t" x="248.2" y="999.0" font-size="9.6">0</text>
<text class="t" transform="translate(262.4 1007.2) scale(0.9598 1)" x="-0.84" font-size="13.94" font-weight="bold">10</text>
<text class="t" x="275.7" y="999.0" font-size="9.6">1</text>
<text class="t" transform="translate(292.8 1007.2) scale(0.9598 1)" x="-0.84" font-size="13.94" font-weight="bold">10</text>
<text class="t" x="306.4" y="999.0" font-size="9.6">2</text>
<text class="t" transform="translate(326.2 1007.2) scale(0.9598 1)" x="-0.84" font-size="13.94" font-weight="bold">10</text>
<text class="t" x="339.9" y="999.0" font-size="9.6">3</text>
<text class="t" transform="translate(357.2 1007.2) scale(0.9598 1)" x="-0.84" font-size="13.94" font-weight="bold">10</text>
<text class="t" x="371" y="999.0" font-size="9.6">4</text>
<text class="t" transform="translate(380.3 1007.2) scale(0.9598 1)" x="-0.84" font-size="13.94" font-weight="bold">10</text>
<text class="t" x="393.9" y="999.0" font-size="9.6">0</text>
<text class="t" transform="translate(407.9 1007.2) scale(0.9598 1)" x="-0.84" font-size="13.94" font-weight="bold">10</text>
<text class="t" x="421.3" y="999.0" font-size="9.6">1</text>
<text class="t" transform="translate(438.1 1007.2) scale(0.9598 1)" x="-0.84" font-size="13.94" font-weight="bold">10</text>
<text class="t" x="451.7" y="999.0" font-size="9.6">2</text>
<text class="t" transform="translate(471.4 1007.2) scale(0.9598 1)" x="-0.84" font-size="13.94" font-weight="bold">10</text>
<text class="t" x="485.1" y="999.0" font-size="9.6">3</text>
<text class="t" transform="translate(502.2 1007.2) scale(0.9598 1)" x="-0.84" font-size="13.94" font-weight="bold">10</text>
<text class="t" x="516" y="999.0" font-size="9.6">4</text>
<path d="M55.2 36V460.5M55.2 652V1016.2H500" stroke="#000" stroke-width="2.6" fill="none"/>
<path d="M55.3 19.3L60.4 37.6H50.2Z" fill="#000"/>
<path d="M516.5 1016.2L498.5 1011V1021.4Z" fill="#000"/>
</g>
</svg>
</body></html>
